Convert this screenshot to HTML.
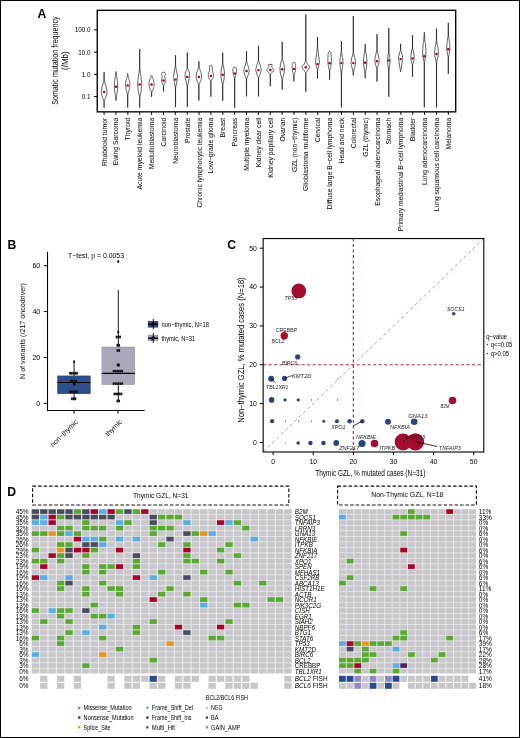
<!DOCTYPE html>
<html><head><meta charset="utf-8"><style>
html,body{margin:0;padding:0;background:#fff;width:520px;height:738px;overflow:hidden}
svg{display:block;font-family:"Liberation Sans",sans-serif;will-change:transform;opacity:0.999}
</style></head><body>
<svg width="520" height="738" viewBox="0 0 520 738" font-family="Liberation Sans, sans-serif">
<rect width="520" height="738" fill="#fff"/>
<text x="37.60" y="17.50" font-size="12.2" font-weight="bold">A</text>
<text x="7.60" y="248.80" font-size="12.2" font-weight="bold">B</text>
<text x="227.30" y="249.00" font-size="12.2" font-weight="bold">C</text>
<text x="7.20" y="495.60" font-size="12.2" font-weight="bold">D</text>
<rect x="97.25" y="10.3" width="358.45" height="101.55" fill="none" stroke="#000" stroke-width="1.35"/>
<line x1="94.00" y1="29.80" x2="97.25" y2="29.80" stroke="#000" stroke-width="1.0"/>
<text x="90.50" y="32.10" font-size="6.5" text-anchor="end" textLength="15.78" lengthAdjust="spacingAndGlyphs">100.0</text>
<line x1="94.00" y1="52.20" x2="97.25" y2="52.20" stroke="#000" stroke-width="1.0"/>
<text x="90.50" y="54.50" font-size="6.5" text-anchor="end" textLength="12.27" lengthAdjust="spacingAndGlyphs">10.0</text>
<line x1="94.00" y1="74.40" x2="97.25" y2="74.40" stroke="#000" stroke-width="1.0"/>
<text x="90.50" y="76.70" font-size="6.5" text-anchor="end" textLength="8.76" lengthAdjust="spacingAndGlyphs">1.0</text>
<line x1="94.00" y1="96.60" x2="97.25" y2="96.60" stroke="#000" stroke-width="1.0"/>
<text x="90.50" y="98.90" font-size="6.5" text-anchor="end" textLength="8.76" lengthAdjust="spacingAndGlyphs">0.1</text>
<text x="57.90" y="60.60" font-size="8.3" text-anchor="middle" textLength="88.50" lengthAdjust="spacingAndGlyphs" transform="rotate(-90 57.90 60.60)">Somatic mutation frequency</text>
<text x="68.20" y="60.60" font-size="8.3" text-anchor="middle" textLength="18.60" lengthAdjust="spacingAndGlyphs" transform="rotate(-90 68.20 60.60)">(/Mb)</text>
<path d="M104.18,72.00 L104.18,80.00 L104.30,80.75 L104.57,81.50 L104.85,82.25 L104.97,83.00 L105.15,84.00 L105.57,85.00 L105.99,86.00 L106.17,87.00 L106.29,88.00 L106.57,89.00 L106.85,90.00 L106.97,91.00 L106.96,91.75 L106.92,92.50 L106.88,93.25 L106.87,94.00 L106.72,94.75 L106.37,95.50 L106.02,96.25 L105.87,97.00 L105.69,97.75 L105.27,98.50 L104.85,99.25 L104.67,100.00 L104.60,100.62 L104.42,101.25 L104.25,101.88 L104.18,102.50 L104.18,107.50 L104.02,107.50 L104.02,102.50 L103.95,101.88 L103.77,101.25 L103.60,100.62 L103.53,100.00 L103.35,99.25 L102.93,98.50 L102.51,97.75 L102.33,97.00 L102.18,96.25 L101.83,95.50 L101.48,94.75 L101.33,94.00 L101.32,93.25 L101.28,92.50 L101.24,91.75 L101.23,91.00 L101.35,90.00 L101.63,89.00 L101.91,88.00 L102.03,87.00 L102.21,86.00 L102.63,85.00 L103.05,84.00 L103.23,83.00 L103.35,82.25 L103.62,81.50 L103.90,80.75 L104.02,80.00 L104.02,72.00Z" fill="#fff" stroke="#000" stroke-width="0.62" stroke-linejoin="round"/>
<ellipse cx="104.10" cy="92.00" rx="1.3" ry="1.2" fill="#b4001f"/>
<line x1="104.10" y1="111.85" x2="104.10" y2="114.85" stroke="#000" stroke-width="1.0"/>
<text x="106.60" y="117.80" font-size="7.0" text-anchor="end" textLength="48.31" lengthAdjust="spacingAndGlyphs" transform="rotate(-90 106.60 117.80)">Rhabdoid tumor</text>
<path d="M116.08,71.50 L116.12,72.38 L116.22,73.25 L116.33,74.12 L116.37,75.00 L116.46,75.75 L116.67,76.50 L116.88,77.25 L116.97,78.00 L117.04,79.00 L117.22,80.00 L117.40,81.00 L117.47,82.00 L117.50,83.00 L117.57,84.00 L117.64,85.00 L117.67,86.00 L117.64,87.00 L117.57,88.00 L117.50,89.00 L117.47,90.00 L117.38,91.00 L117.17,92.00 L116.96,93.00 L116.87,94.00 L116.80,94.75 L116.62,95.50 L116.44,96.25 L116.37,97.00 L116.33,97.90 L116.22,98.80 L116.12,99.70 L116.08,100.60 L115.92,100.60 L115.88,99.70 L115.78,98.80 L115.67,97.90 L115.63,97.00 L115.56,96.25 L115.38,95.50 L115.20,94.75 L115.13,94.00 L115.04,93.00 L114.83,92.00 L114.62,91.00 L114.53,90.00 L114.50,89.00 L114.43,88.00 L114.36,87.00 L114.33,86.00 L114.36,85.00 L114.43,84.00 L114.50,83.00 L114.53,82.00 L114.60,81.00 L114.78,80.00 L114.96,79.00 L115.03,78.00 L115.12,77.25 L115.33,76.50 L115.54,75.75 L115.63,75.00 L115.67,74.12 L115.78,73.25 L115.88,72.38 L115.92,71.50Z" fill="#fff" stroke="#000" stroke-width="0.62" stroke-linejoin="round"/>
<ellipse cx="116.00" cy="86.80" rx="1.3" ry="1.2" fill="#b4001f"/>
<line x1="115.97" y1="111.85" x2="115.97" y2="114.85" stroke="#000" stroke-width="1.0"/>
<text x="118.47" y="117.80" font-size="7.0" text-anchor="end" textLength="47.55" lengthAdjust="spacingAndGlyphs" transform="rotate(-90 118.47 117.80)">Ewing Sarcoma</text>
<path d="M127.78,73.40 L127.82,74.05 L127.92,74.70 L128.03,75.35 L128.07,76.00 L128.14,76.50 L128.32,77.00 L128.50,77.50 L128.57,78.00 L128.72,78.75 L129.07,79.50 L129.42,80.25 L129.57,81.00 L129.61,81.75 L129.72,82.50 L129.83,83.25 L129.87,84.00 L129.84,84.75 L129.77,85.50 L129.70,86.25 L129.67,87.00 L129.60,87.75 L129.42,88.50 L129.24,89.25 L129.17,90.00 L129.04,90.75 L128.72,91.50 L128.40,92.25 L128.27,93.00 L128.20,93.50 L128.03,94.00 L127.85,94.50 L127.78,95.00 L127.78,107.50 L127.62,107.50 L127.62,95.00 L127.55,94.50 L127.38,94.00 L127.20,93.50 L127.13,93.00 L127.00,92.25 L126.68,91.50 L126.36,90.75 L126.23,90.00 L126.16,89.25 L125.98,88.50 L125.80,87.75 L125.73,87.00 L125.70,86.25 L125.63,85.50 L125.56,84.75 L125.53,84.00 L125.57,83.25 L125.68,82.50 L125.79,81.75 L125.83,81.00 L125.98,80.25 L126.33,79.50 L126.68,78.75 L126.83,78.00 L126.90,77.50 L127.08,77.00 L127.26,76.50 L127.33,76.00 L127.37,75.35 L127.48,74.70 L127.58,74.05 L127.62,73.40Z" fill="#fff" stroke="#000" stroke-width="0.62" stroke-linejoin="round"/>
<ellipse cx="127.70" cy="85.40" rx="1.3" ry="1.2" fill="#b4001f"/>
<line x1="127.84" y1="111.85" x2="127.84" y2="114.85" stroke="#000" stroke-width="1.0"/>
<text x="130.34" y="117.80" font-size="7.0" text-anchor="end" textLength="22.64" lengthAdjust="spacingAndGlyphs" transform="rotate(-90 130.34 117.80)">Thyroid</text>
<path d="M139.78,49.00 L139.78,68.00 L139.85,69.00 L140.02,70.00 L140.20,71.00 L140.27,72.00 L140.40,73.50 L140.72,75.00 L141.04,76.50 L141.17,78.00 L141.26,79.50 L141.47,81.00 L141.68,82.50 L141.77,84.00 L141.70,85.50 L141.52,87.00 L141.34,88.50 L141.27,90.00 L141.14,91.25 L140.82,92.50 L140.50,93.75 L140.37,95.00 L140.28,95.75 L140.07,96.50 L139.87,97.25 L139.78,98.00 L139.78,107.50 L139.62,107.50 L139.62,98.00 L139.53,97.25 L139.32,96.50 L139.12,95.75 L139.03,95.00 L138.90,93.75 L138.58,92.50 L138.26,91.25 L138.13,90.00 L138.06,88.50 L137.88,87.00 L137.70,85.50 L137.63,84.00 L137.72,82.50 L137.93,81.00 L138.14,79.50 L138.23,78.00 L138.36,76.50 L138.68,75.00 L139.00,73.50 L139.13,72.00 L139.20,71.00 L139.38,70.00 L139.55,69.00 L139.62,68.00 L139.62,49.00Z" fill="#fff" stroke="#000" stroke-width="0.62" stroke-linejoin="round"/>
<ellipse cx="139.70" cy="84.40" rx="1.3" ry="1.2" fill="#b4001f"/>
<line x1="139.71" y1="111.85" x2="139.71" y2="114.85" stroke="#000" stroke-width="1.0"/>
<text x="142.21" y="117.80" font-size="7.0" text-anchor="end" textLength="71.70" lengthAdjust="spacingAndGlyphs" transform="rotate(-90 142.21 117.80)">Acute myeloid leukemia</text>
<path d="M151.68,75.50 L151.77,75.88 L151.97,76.25 L152.18,76.62 L152.27,77.00 L152.45,77.75 L152.87,78.50 L153.29,79.25 L153.47,80.00 L153.57,80.88 L153.82,81.75 L154.07,82.62 L154.17,83.50 L154.16,84.12 L154.12,84.75 L154.08,85.38 L154.07,86.00 L153.95,86.75 L153.67,87.50 L153.39,88.25 L153.27,89.00 L153.09,89.62 L152.67,90.25 L152.25,90.88 L152.07,91.50 L152.01,91.88 L151.88,92.25 L151.74,92.62 L151.68,93.00 L151.68,96.70 L151.52,96.70 L151.52,93.00 L151.46,92.62 L151.32,92.25 L151.19,91.88 L151.13,91.50 L150.95,90.88 L150.53,90.25 L150.11,89.62 L149.93,89.00 L149.81,88.25 L149.53,87.50 L149.25,86.75 L149.13,86.00 L149.12,85.38 L149.08,84.75 L149.04,84.12 L149.03,83.50 L149.13,82.62 L149.38,81.75 L149.63,80.88 L149.73,80.00 L149.91,79.25 L150.33,78.50 L150.75,77.75 L150.93,77.00 L151.02,76.62 L151.22,76.25 L151.43,75.88 L151.52,75.50Z" fill="#fff" stroke="#000" stroke-width="0.62" stroke-linejoin="round"/>
<ellipse cx="151.60" cy="84.50" rx="1.3" ry="1.2" fill="#b4001f"/>
<line x1="151.58" y1="111.85" x2="151.58" y2="114.85" stroke="#000" stroke-width="1.0"/>
<text x="154.08" y="117.80" font-size="7.0" text-anchor="end" textLength="51.33" lengthAdjust="spacingAndGlyphs" transform="rotate(-90 154.08 117.80)">Medulloblastoma</text>
<path d="M164.17,72.20 L164.32,72.35 L164.67,72.50 L165.02,72.65 L165.17,72.80 L165.21,73.10 L165.32,73.40 L165.43,73.70 L165.47,74.00 L165.37,74.50 L165.12,75.00 L164.87,75.50 L164.77,76.00 L164.80,76.50 L164.87,77.00 L164.94,77.50 L164.97,78.00 L165.07,78.50 L165.32,79.00 L165.57,79.50 L165.67,80.00 L165.63,80.50 L165.52,81.00 L165.41,81.50 L165.37,82.00 L165.22,82.50 L164.87,83.00 L164.52,83.50 L164.37,84.00 L164.25,84.38 L163.97,84.75 L163.70,85.12 L163.58,85.50 L163.58,91.60 L163.42,91.60 L163.42,85.50 L163.30,85.12 L163.03,84.75 L162.75,84.38 L162.63,84.00 L162.48,83.50 L162.13,83.00 L161.78,82.50 L161.63,82.00 L161.59,81.50 L161.48,81.00 L161.37,80.50 L161.33,80.00 L161.43,79.50 L161.68,79.00 L161.93,78.50 L162.03,78.00 L162.06,77.50 L162.13,77.00 L162.20,76.50 L162.23,76.00 L162.13,75.50 L161.88,75.00 L161.63,74.50 L161.53,74.00 L161.57,73.70 L161.68,73.40 L161.79,73.10 L161.83,72.80 L161.98,72.65 L162.33,72.50 L162.68,72.35 L162.83,72.20Z" fill="#fff" stroke="#000" stroke-width="0.62" stroke-linejoin="round"/>
<ellipse cx="163.50" cy="80.50" rx="1.3" ry="1.2" fill="#b4001f"/>
<line x1="163.45" y1="111.85" x2="163.45" y2="114.85" stroke="#000" stroke-width="1.0"/>
<text x="165.95" y="117.80" font-size="7.0" text-anchor="end" textLength="28.68" lengthAdjust="spacingAndGlyphs" transform="rotate(-90 165.95 117.80)">Carcinoid</text>
<path d="M175.58,55.20 L175.58,65.00 L175.64,65.75 L175.78,66.50 L175.91,67.25 L175.97,68.00 L176.09,69.00 L176.37,70.00 L176.65,71.00 L176.77,72.00 L176.87,73.00 L177.12,74.00 L177.37,75.00 L177.47,76.00 L177.43,76.75 L177.32,77.50 L177.21,78.25 L177.17,79.00 L177.05,80.25 L176.77,81.50 L176.49,82.75 L176.37,84.00 L176.25,85.00 L175.97,86.00 L175.70,87.00 L175.58,88.00 L175.58,90.00 L175.58,107.00 L175.42,107.00 L175.42,90.00 L175.42,88.00 L175.30,87.00 L175.03,86.00 L174.75,85.00 L174.63,84.00 L174.51,82.75 L174.23,81.50 L173.95,80.25 L173.83,79.00 L173.79,78.25 L173.68,77.50 L173.57,76.75 L173.53,76.00 L173.63,75.00 L173.88,74.00 L174.13,73.00 L174.23,72.00 L174.35,71.00 L174.63,70.00 L174.91,69.00 L175.03,68.00 L175.09,67.25 L175.22,66.50 L175.36,65.75 L175.42,65.00 L175.42,55.20Z" fill="#fff" stroke="#000" stroke-width="0.62" stroke-linejoin="round"/>
<ellipse cx="175.50" cy="79.60" rx="1.3" ry="1.2" fill="#b4001f"/>
<line x1="175.32" y1="111.85" x2="175.32" y2="114.85" stroke="#000" stroke-width="1.0"/>
<text x="177.82" y="117.80" font-size="7.0" text-anchor="end" textLength="46.04" lengthAdjust="spacingAndGlyphs" transform="rotate(-90 177.82 117.80)">Neuroblastoma</text>
<path d="M187.38,52.40 L187.38,67.00 L187.51,67.75 L187.83,68.50 L188.14,69.25 L188.27,70.00 L188.43,70.75 L188.82,71.50 L189.21,72.25 L189.37,73.00 L189.40,73.62 L189.47,74.25 L189.54,74.88 L189.57,75.50 L189.53,76.12 L189.42,76.75 L189.31,77.38 L189.27,78.00 L189.15,79.00 L188.87,80.00 L188.59,81.00 L188.47,82.00 L188.31,83.00 L187.93,84.00 L187.54,85.00 L187.38,86.00 L187.38,88.00 L187.38,107.00 L187.22,107.00 L187.22,88.00 L187.22,86.00 L187.06,85.00 L186.68,84.00 L186.29,83.00 L186.13,82.00 L186.01,81.00 L185.73,80.00 L185.45,79.00 L185.33,78.00 L185.29,77.38 L185.18,76.75 L185.07,76.12 L185.03,75.50 L185.06,74.88 L185.13,74.25 L185.20,73.62 L185.23,73.00 L185.39,72.25 L185.78,71.50 L186.17,70.75 L186.33,70.00 L186.46,69.25 L186.78,68.50 L187.09,67.75 L187.22,67.00 L187.22,52.40Z" fill="#fff" stroke="#000" stroke-width="0.62" stroke-linejoin="round"/>
<ellipse cx="187.30" cy="76.90" rx="1.3" ry="1.2" fill="#b4001f"/>
<line x1="187.19" y1="111.85" x2="187.19" y2="114.85" stroke="#000" stroke-width="1.0"/>
<text x="189.69" y="117.80" font-size="7.0" text-anchor="end" textLength="25.29" lengthAdjust="spacingAndGlyphs" transform="rotate(-90 189.69 117.80)">Prostate</text>
<path d="M198.98,61.20 L198.98,67.00 L199.14,67.75 L199.53,68.50 L199.91,69.25 L200.07,70.00 L200.23,70.75 L200.62,71.50 L201.01,72.25 L201.17,73.00 L201.23,74.00 L201.37,75.00 L201.51,76.00 L201.57,77.00 L201.50,77.75 L201.32,78.50 L201.14,79.25 L201.07,80.00 L200.88,80.75 L200.42,81.50 L199.96,82.25 L199.77,83.00 L199.65,83.50 L199.38,84.00 L199.10,84.50 L198.98,85.00 L198.98,100.40 L198.82,100.40 L198.82,85.00 L198.70,84.50 L198.43,84.00 L198.15,83.50 L198.03,83.00 L197.84,82.25 L197.38,81.50 L196.92,80.75 L196.73,80.00 L196.66,79.25 L196.48,78.50 L196.30,77.75 L196.23,77.00 L196.29,76.00 L196.43,75.00 L196.57,74.00 L196.63,73.00 L196.79,72.25 L197.18,71.50 L197.57,70.75 L197.73,70.00 L197.89,69.25 L198.28,68.50 L198.66,67.75 L198.82,67.00 L198.82,61.20Z" fill="#fff" stroke="#000" stroke-width="0.62" stroke-linejoin="round"/>
<ellipse cx="198.90" cy="76.90" rx="1.3" ry="1.2" fill="#b4001f"/>
<line x1="199.06" y1="111.85" x2="199.06" y2="114.85" stroke="#000" stroke-width="1.0"/>
<text x="201.56" y="117.80" font-size="7.0" text-anchor="end" textLength="89.81" lengthAdjust="spacingAndGlyphs" transform="rotate(-90 201.56 117.80)">Chronic lymphocytic leukemia</text>
<path d="M211.57,65.30 L211.66,65.47 L211.87,65.65 L212.08,65.83 L212.17,66.00 L212.20,66.75 L212.27,67.50 L212.34,68.25 L212.37,69.00 L212.37,69.50 L212.37,70.00 L212.37,70.50 L212.37,71.00 L212.47,71.50 L212.72,72.00 L212.97,72.50 L213.07,73.00 L213.14,73.62 L213.32,74.25 L213.50,74.88 L213.57,75.50 L213.48,76.12 L213.27,76.75 L213.06,77.38 L212.97,78.00 L212.79,78.50 L212.37,79.00 L211.95,79.50 L211.77,80.00 L211.65,80.50 L211.38,81.00 L211.10,81.50 L210.98,82.00 L210.98,96.70 L210.82,96.70 L210.82,82.00 L210.70,81.50 L210.43,81.00 L210.15,80.50 L210.03,80.00 L209.85,79.50 L209.43,79.00 L209.01,78.50 L208.83,78.00 L208.74,77.38 L208.53,76.75 L208.32,76.12 L208.23,75.50 L208.30,74.88 L208.48,74.25 L208.66,73.62 L208.73,73.00 L208.83,72.50 L209.08,72.00 L209.33,71.50 L209.43,71.00 L209.43,70.50 L209.43,70.00 L209.43,69.50 L209.43,69.00 L209.46,68.25 L209.53,67.50 L209.60,66.75 L209.63,66.00 L209.72,65.83 L209.93,65.65 L210.14,65.47 L210.23,65.30Z" fill="#fff" stroke="#000" stroke-width="0.62" stroke-linejoin="round"/>
<ellipse cx="210.90" cy="75.90" rx="1.3" ry="1.2" fill="#b4001f"/>
<line x1="210.93" y1="111.85" x2="210.93" y2="114.85" stroke="#000" stroke-width="1.0"/>
<text x="213.43" y="117.80" font-size="7.0" text-anchor="end" textLength="55.67" lengthAdjust="spacingAndGlyphs" transform="rotate(-90 213.43 117.80)">Low−grade glioma</text>
<path d="M222.78,52.80 L222.78,63.00 L222.87,63.75 L223.07,64.50 L223.28,65.25 L223.37,66.00 L223.49,67.00 L223.77,68.00 L224.05,69.00 L224.17,70.00 L224.21,71.00 L224.32,72.00 L224.43,73.00 L224.47,74.00 L224.43,75.00 L224.32,76.00 L224.21,77.00 L224.17,78.00 L224.08,79.00 L223.87,80.00 L223.66,81.00 L223.57,82.00 L223.45,82.75 L223.17,83.50 L222.90,84.25 L222.78,85.00 L222.78,88.00 L222.78,100.90 L222.62,100.90 L222.62,88.00 L222.62,85.00 L222.50,84.25 L222.22,83.50 L221.95,82.75 L221.83,82.00 L221.74,81.00 L221.53,80.00 L221.32,79.00 L221.23,78.00 L221.19,77.00 L221.08,76.00 L220.97,75.00 L220.93,74.00 L220.97,73.00 L221.08,72.00 L221.19,71.00 L221.23,70.00 L221.35,69.00 L221.63,68.00 L221.91,67.00 L222.03,66.00 L222.12,65.25 L222.32,64.50 L222.53,63.75 L222.62,63.00 L222.62,52.80Z" fill="#fff" stroke="#000" stroke-width="0.62" stroke-linejoin="round"/>
<ellipse cx="222.70" cy="74.80" rx="1.3" ry="1.2" fill="#b4001f"/>
<line x1="222.80" y1="111.85" x2="222.80" y2="114.85" stroke="#000" stroke-width="1.0"/>
<text x="225.30" y="117.80" font-size="7.0" text-anchor="end" textLength="19.62" lengthAdjust="spacingAndGlyphs" transform="rotate(-90 225.30 117.80)">Breast</text>
<path d="M235.37,67.20 L235.50,67.35 L235.82,67.50 L236.14,67.65 L236.27,67.80 L236.33,68.35 L236.47,68.90 L236.61,69.45 L236.67,70.00 L236.63,70.75 L236.52,71.50 L236.41,72.25 L236.37,73.00 L236.25,73.75 L235.97,74.50 L235.69,75.25 L235.57,76.00 L235.45,76.62 L235.17,77.25 L234.90,77.88 L234.78,78.50 L234.78,80.00 L234.78,107.80 L234.62,107.80 L234.62,80.00 L234.62,78.50 L234.50,77.88 L234.22,77.25 L233.95,76.62 L233.83,76.00 L233.71,75.25 L233.43,74.50 L233.15,73.75 L233.03,73.00 L232.99,72.25 L232.88,71.50 L232.77,70.75 L232.73,70.00 L232.79,69.45 L232.93,68.90 L233.07,68.35 L233.13,67.80 L233.26,67.65 L233.58,67.50 L233.90,67.35 L234.03,67.20Z" fill="#fff" stroke="#000" stroke-width="0.62" stroke-linejoin="round"/>
<ellipse cx="234.70" cy="73.40" rx="1.3" ry="1.2" fill="#b4001f"/>
<line x1="234.67" y1="111.85" x2="234.67" y2="114.85" stroke="#000" stroke-width="1.0"/>
<text x="237.17" y="117.80" font-size="7.0" text-anchor="end" textLength="28.68" lengthAdjust="spacingAndGlyphs" transform="rotate(-90 237.17 117.80)">Pancreas</text>
<path d="M246.58,51.20 L246.58,61.00 L246.70,61.75 L246.97,62.50 L247.25,63.25 L247.37,64.00 L247.56,64.88 L248.02,65.75 L248.48,66.62 L248.67,67.50 L248.74,68.38 L248.92,69.25 L249.10,70.12 L249.17,71.00 L249.08,71.75 L248.87,72.50 L248.66,73.25 L248.57,74.00 L248.39,74.75 L247.97,75.50 L247.55,76.25 L247.37,77.00 L247.25,77.50 L246.97,78.00 L246.70,78.50 L246.58,79.00 L246.58,96.40 L246.42,96.40 L246.42,79.00 L246.30,78.50 L246.03,78.00 L245.75,77.50 L245.63,77.00 L245.45,76.25 L245.03,75.50 L244.61,74.75 L244.43,74.00 L244.34,73.25 L244.13,72.50 L243.92,71.75 L243.83,71.00 L243.90,70.12 L244.08,69.25 L244.26,68.38 L244.33,67.50 L244.52,66.62 L244.98,65.75 L245.44,64.88 L245.63,64.00 L245.75,63.25 L246.03,62.50 L246.30,61.75 L246.42,61.00 L246.42,51.20Z" fill="#fff" stroke="#000" stroke-width="0.62" stroke-linejoin="round"/>
<ellipse cx="246.50" cy="71.00" rx="1.3" ry="1.2" fill="#b4001f"/>
<line x1="246.54" y1="111.85" x2="246.54" y2="114.85" stroke="#000" stroke-width="1.0"/>
<text x="249.04" y="117.80" font-size="7.0" text-anchor="end" textLength="52.83" lengthAdjust="spacingAndGlyphs" transform="rotate(-90 249.04 117.80)">Multiple myeloma</text>
<path d="M258.58,45.90 L258.58,60.00 L258.71,60.75 L259.02,61.50 L259.34,62.25 L259.47,63.00 L259.63,63.88 L260.02,64.75 L260.41,65.62 L260.57,66.50 L260.67,67.38 L260.92,68.25 L261.17,69.12 L261.27,70.00 L261.17,70.75 L260.92,71.50 L260.67,72.25 L260.57,73.00 L260.39,73.75 L259.97,74.50 L259.55,75.25 L259.37,76.00 L259.25,76.50 L258.98,77.00 L258.70,77.50 L258.58,78.00 L258.58,96.40 L258.42,96.40 L258.42,78.00 L258.30,77.50 L258.02,77.00 L257.75,76.50 L257.63,76.00 L257.45,75.25 L257.03,74.50 L256.61,73.75 L256.43,73.00 L256.33,72.25 L256.08,71.50 L255.83,70.75 L255.73,70.00 L255.83,69.12 L256.08,68.25 L256.33,67.38 L256.43,66.50 L256.59,65.62 L256.98,64.75 L257.37,63.88 L257.53,63.00 L257.66,62.25 L257.98,61.50 L258.29,60.75 L258.42,60.00 L258.42,45.90Z" fill="#fff" stroke="#000" stroke-width="0.62" stroke-linejoin="round"/>
<ellipse cx="258.50" cy="70.10" rx="1.3" ry="1.2" fill="#b4001f"/>
<line x1="258.41" y1="111.85" x2="258.41" y2="114.85" stroke="#000" stroke-width="1.0"/>
<text x="260.91" y="117.80" font-size="7.0" text-anchor="end" textLength="49.44" lengthAdjust="spacingAndGlyphs" transform="rotate(-90 260.91 117.80)">Kidney clear cell</text>
<path d="M271.97,64.40 L272.00,64.68 L272.07,64.95 L272.14,65.22 L272.17,65.50 L272.08,65.75 L271.87,66.00 L271.66,66.25 L271.57,66.50 L271.72,66.88 L272.07,67.25 L272.42,67.62 L272.57,68.00 L272.78,68.50 L273.27,69.00 L273.76,69.50 L273.97,70.00 L273.82,70.38 L273.47,70.75 L273.12,71.12 L272.97,71.50 L272.71,72.00 L272.07,72.50 L271.43,73.00 L271.17,73.50 L271.05,73.75 L270.78,74.00 L270.50,74.25 L270.38,74.50 L270.38,84.00 L270.45,84.45 L270.62,84.90 L270.80,85.35 L270.87,85.80 L269.73,85.80 L269.80,85.35 L269.98,84.90 L270.15,84.45 L270.22,84.00 L270.22,74.50 L270.10,74.25 L269.82,74.00 L269.55,73.75 L269.43,73.50 L269.17,73.00 L268.53,72.50 L267.89,72.00 L267.63,71.50 L267.48,71.12 L267.13,70.75 L266.78,70.38 L266.63,70.00 L266.84,69.50 L267.33,69.00 L267.82,68.50 L268.03,68.00 L268.18,67.62 L268.53,67.25 L268.88,66.88 L269.03,66.50 L268.94,66.25 L268.73,66.00 L268.52,65.75 L268.43,65.50 L268.46,65.22 L268.53,64.95 L268.60,64.68 L268.63,64.40Z" fill="#fff" stroke="#000" stroke-width="0.62" stroke-linejoin="round"/>
<ellipse cx="270.30" cy="69.90" rx="1.3" ry="1.2" fill="#b4001f"/>
<line x1="270.28" y1="111.85" x2="270.28" y2="114.85" stroke="#000" stroke-width="1.0"/>
<text x="272.78" y="117.80" font-size="7.0" text-anchor="end" textLength="60.01" lengthAdjust="spacingAndGlyphs" transform="rotate(-90 272.78 117.80)">Kidney papillary cell</text>
<path d="M282.28,41.90 L282.28,58.00 L282.40,58.75 L282.68,59.50 L282.95,60.25 L283.07,61.00 L283.22,62.00 L283.57,63.00 L283.92,64.00 L284.07,65.00 L284.13,66.00 L284.27,67.00 L284.41,68.00 L284.47,69.00 L284.41,70.00 L284.27,71.00 L284.13,72.00 L284.07,73.00 L283.92,74.00 L283.57,75.00 L283.22,76.00 L283.07,77.00 L282.95,77.75 L282.68,78.50 L282.40,79.25 L282.28,80.00 L282.28,89.50 L282.12,89.50 L282.12,80.00 L282.00,79.25 L281.72,78.50 L281.45,77.75 L281.33,77.00 L281.18,76.00 L280.83,75.00 L280.48,74.00 L280.33,73.00 L280.27,72.00 L280.13,71.00 L279.99,70.00 L279.93,69.00 L279.99,68.00 L280.13,67.00 L280.27,66.00 L280.33,65.00 L280.48,64.00 L280.83,63.00 L281.18,62.00 L281.33,61.00 L281.45,60.25 L281.72,59.50 L282.00,58.75 L282.12,58.00 L282.12,41.90Z" fill="#fff" stroke="#000" stroke-width="0.62" stroke-linejoin="round"/>
<ellipse cx="282.20" cy="69.30" rx="1.3" ry="1.2" fill="#b4001f"/>
<line x1="282.15" y1="111.85" x2="282.15" y2="114.85" stroke="#000" stroke-width="1.0"/>
<text x="284.65" y="117.80" font-size="7.0" text-anchor="end" textLength="23.77" lengthAdjust="spacingAndGlyphs" transform="rotate(-90 284.65 117.80)">Ovarian</text>
<path d="M294.57,62.40 L294.66,62.55 L294.87,62.70 L295.08,62.85 L295.17,63.00 L295.23,63.50 L295.37,64.00 L295.51,64.50 L295.57,65.00 L295.58,65.75 L295.62,66.50 L295.66,67.25 L295.67,68.00 L295.63,68.75 L295.52,69.50 L295.41,70.25 L295.37,71.00 L295.25,71.62 L294.97,72.25 L294.69,72.88 L294.57,73.50 L294.48,73.88 L294.27,74.25 L294.07,74.62 L293.98,75.00 L293.98,81.30 L293.82,81.30 L293.82,75.00 L293.73,74.62 L293.52,74.25 L293.32,73.88 L293.23,73.50 L293.11,72.88 L292.83,72.25 L292.55,71.62 L292.43,71.00 L292.39,70.25 L292.28,69.50 L292.17,68.75 L292.13,68.00 L292.14,67.25 L292.18,66.50 L292.22,65.75 L292.23,65.00 L292.29,64.50 L292.43,64.00 L292.57,63.50 L292.63,63.00 L292.72,62.85 L292.93,62.70 L293.14,62.55 L293.23,62.40Z" fill="#fff" stroke="#000" stroke-width="0.62" stroke-linejoin="round"/>
<ellipse cx="293.90" cy="68.90" rx="1.3" ry="1.2" fill="#b4001f"/>
<line x1="294.02" y1="111.85" x2="294.02" y2="114.85" stroke="#000" stroke-width="1.0"/>
<text x="296.52" y="117.80" font-size="7.0" text-anchor="end" textLength="54.27" lengthAdjust="spacingAndGlyphs" transform="rotate(-90 296.52 117.80)">GZL (non−thymic)</text>
<path d="M305.88,14.60 L305.88,61.00 L306.04,61.50 L306.43,62.00 L306.81,62.50 L306.97,63.00 L307.37,64.05 L308.32,65.10 L309.27,66.15 L309.67,67.20 L309.27,68.28 L308.32,69.35 L307.37,70.42 L306.97,71.50 L306.81,71.88 L306.43,72.25 L306.04,72.62 L305.88,73.00 L305.88,91.70 L305.72,91.70 L305.72,73.00 L305.56,72.62 L305.18,72.25 L304.79,71.88 L304.63,71.50 L304.23,70.42 L303.28,69.35 L302.33,68.28 L301.93,67.20 L302.33,66.15 L303.28,65.10 L304.23,64.05 L304.63,63.00 L304.79,62.50 L305.18,62.00 L305.56,61.50 L305.72,61.00 L305.72,14.60Z" fill="#fff" stroke="#000" stroke-width="0.62" stroke-linejoin="round"/>
<ellipse cx="305.80" cy="67.20" rx="1.3" ry="1.2" fill="#b4001f"/>
<line x1="305.89" y1="111.85" x2="305.89" y2="114.85" stroke="#000" stroke-width="1.0"/>
<text x="308.39" y="117.80" font-size="7.0" text-anchor="end" textLength="73.20" lengthAdjust="spacingAndGlyphs" transform="rotate(-90 308.39 117.80)">Glioblastoma multiforme</text>
<path d="M317.58,37.00 L317.58,45.00 L317.64,46.25 L317.77,47.50 L317.91,48.75 L317.97,50.00 L318.06,51.25 L318.27,52.50 L318.48,53.75 L318.57,55.00 L318.66,56.00 L318.87,57.00 L319.08,58.00 L319.17,59.00 L319.20,60.00 L319.27,61.00 L319.34,62.00 L319.37,63.00 L319.27,63.75 L319.02,64.50 L318.77,65.25 L318.67,66.00 L318.55,66.75 L318.27,67.50 L317.99,68.25 L317.87,69.00 L317.83,69.50 L317.73,70.00 L317.62,70.50 L317.58,71.00 L317.58,78.50 L317.42,78.50 L317.42,71.00 L317.38,70.50 L317.27,70.00 L317.17,69.50 L317.13,69.00 L317.01,68.25 L316.73,67.50 L316.45,66.75 L316.33,66.00 L316.23,65.25 L315.98,64.50 L315.73,63.75 L315.63,63.00 L315.66,62.00 L315.73,61.00 L315.80,60.00 L315.83,59.00 L315.92,58.00 L316.13,57.00 L316.34,56.00 L316.43,55.00 L316.52,53.75 L316.73,52.50 L316.94,51.25 L317.03,50.00 L317.09,48.75 L317.23,47.50 L317.36,46.25 L317.42,45.00 L317.42,37.00Z" fill="#fff" stroke="#000" stroke-width="0.62" stroke-linejoin="round"/>
<ellipse cx="317.50" cy="64.10" rx="1.3" ry="1.2" fill="#b4001f"/>
<line x1="317.76" y1="111.85" x2="317.76" y2="114.85" stroke="#000" stroke-width="1.0"/>
<text x="320.26" y="117.80" font-size="7.0" text-anchor="end" textLength="24.52" lengthAdjust="spacingAndGlyphs" transform="rotate(-90 320.26 117.80)">Cervical</text>
<path d="M330.07,51.40 L330.17,51.67 L330.42,51.95 L330.67,52.23 L330.77,52.50 L330.83,53.12 L330.97,53.75 L331.11,54.38 L331.17,55.00 L331.20,56.25 L331.27,57.50 L331.34,58.75 L331.37,60.00 L331.34,61.00 L331.27,62.00 L331.20,63.00 L331.17,64.00 L331.10,64.75 L330.92,65.50 L330.74,66.25 L330.67,67.00 L330.58,67.62 L330.37,68.25 L330.16,68.88 L330.07,69.50 L330.01,69.88 L329.88,70.25 L329.74,70.62 L329.68,71.00 L329.68,79.60 L329.52,79.60 L329.52,71.00 L329.46,70.62 L329.33,70.25 L329.19,69.88 L329.13,69.50 L329.04,68.88 L328.83,68.25 L328.62,67.62 L328.53,67.00 L328.46,66.25 L328.28,65.50 L328.10,64.75 L328.03,64.00 L328.00,63.00 L327.93,62.00 L327.86,61.00 L327.83,60.00 L327.86,58.75 L327.93,57.50 L328.00,56.25 L328.03,55.00 L328.09,54.38 L328.23,53.75 L328.37,53.12 L328.43,52.50 L328.53,52.23 L328.78,51.95 L329.03,51.67 L329.13,51.40Z" fill="#fff" stroke="#000" stroke-width="0.62" stroke-linejoin="round"/>
<ellipse cx="329.60" cy="63.20" rx="1.3" ry="1.2" fill="#b4001f"/>
<line x1="329.63" y1="111.85" x2="329.63" y2="114.85" stroke="#000" stroke-width="1.0"/>
<text x="332.13" y="117.80" font-size="7.0" text-anchor="end" textLength="91.77" lengthAdjust="spacingAndGlyphs" transform="rotate(-90 332.13 117.80)">Diffuse large B−cell lymphoma</text>
<path d="M341.48,41.20 L341.48,50.00 L341.57,51.25 L341.77,52.50 L341.98,53.75 L342.07,55.00 L342.19,56.25 L342.47,57.50 L342.75,58.75 L342.87,60.00 L342.90,60.75 L342.97,61.50 L343.04,62.25 L343.07,63.00 L343.01,63.75 L342.87,64.50 L342.73,65.25 L342.67,66.00 L342.55,67.25 L342.27,68.50 L341.99,69.75 L341.87,71.00 L341.81,72.00 L341.67,73.00 L341.54,74.00 L341.48,75.00 L341.48,107.30 L341.32,107.30 L341.32,75.00 L341.26,74.00 L341.12,73.00 L340.99,72.00 L340.93,71.00 L340.81,69.75 L340.53,68.50 L340.25,67.25 L340.13,66.00 L340.07,65.25 L339.93,64.50 L339.79,63.75 L339.73,63.00 L339.76,62.25 L339.83,61.50 L339.90,60.75 L339.93,60.00 L340.05,58.75 L340.33,57.50 L340.61,56.25 L340.73,55.00 L340.82,53.75 L341.02,52.50 L341.23,51.25 L341.32,50.00 L341.32,41.20Z" fill="#fff" stroke="#000" stroke-width="0.62" stroke-linejoin="round"/>
<ellipse cx="341.40" cy="63.10" rx="1.3" ry="1.2" fill="#b4001f"/>
<line x1="341.50" y1="111.85" x2="341.50" y2="114.85" stroke="#000" stroke-width="1.0"/>
<text x="344.00" y="117.80" font-size="7.0" text-anchor="end" textLength="45.67" lengthAdjust="spacingAndGlyphs" transform="rotate(-90 344.00 117.80)">Head and neck</text>
<path d="M353.38,16.10 L353.38,52.00 L353.47,52.75 L353.68,53.50 L353.88,54.25 L353.97,55.00 L354.15,56.00 L354.57,57.00 L354.99,58.00 L355.17,59.00 L355.23,60.00 L355.37,61.00 L355.51,62.00 L355.57,63.00 L355.48,63.75 L355.27,64.50 L355.06,65.25 L354.97,66.00 L354.82,67.00 L354.47,68.00 L354.12,69.00 L353.97,70.00 L353.88,71.33 L353.68,72.65 L353.47,73.97 L353.38,75.30 L353.22,75.30 L353.13,73.97 L352.93,72.65 L352.72,71.33 L352.63,70.00 L352.48,69.00 L352.13,68.00 L351.78,67.00 L351.63,66.00 L351.54,65.25 L351.33,64.50 L351.12,63.75 L351.03,63.00 L351.09,62.00 L351.23,61.00 L351.37,60.00 L351.43,59.00 L351.61,58.00 L352.03,57.00 L352.45,56.00 L352.63,55.00 L352.72,54.25 L352.93,53.50 L353.13,52.75 L353.22,52.00 L353.22,16.10Z" fill="#fff" stroke="#000" stroke-width="0.62" stroke-linejoin="round"/>
<ellipse cx="353.30" cy="63.10" rx="1.3" ry="1.2" fill="#b4001f"/>
<line x1="353.37" y1="111.85" x2="353.37" y2="114.85" stroke="#000" stroke-width="1.0"/>
<text x="355.87" y="117.80" font-size="7.0" text-anchor="end" textLength="30.57" lengthAdjust="spacingAndGlyphs" transform="rotate(-90 355.87 117.80)">Colorectal</text>
<path d="M365.28,44.10 L365.32,45.83 L365.43,47.55 L365.53,49.27 L365.57,51.00 L365.69,52.00 L365.97,53.00 L366.25,54.00 L366.37,55.00 L366.44,56.25 L366.62,57.50 L366.80,58.75 L366.87,60.00 L366.86,61.00 L366.82,62.00 L366.78,63.00 L366.77,64.00 L366.70,65.00 L366.52,66.00 L366.34,67.00 L366.27,68.00 L366.18,69.00 L365.97,70.00 L365.76,71.00 L365.67,72.00 L365.66,73.45 L365.62,74.90 L365.58,76.35 L365.57,77.80 L364.83,77.80 L364.82,76.35 L364.78,74.90 L364.74,73.45 L364.73,72.00 L364.64,71.00 L364.43,70.00 L364.22,69.00 L364.13,68.00 L364.06,67.00 L363.88,66.00 L363.70,65.00 L363.63,64.00 L363.62,63.00 L363.58,62.00 L363.54,61.00 L363.53,60.00 L363.60,58.75 L363.78,57.50 L363.96,56.25 L364.03,55.00 L364.15,54.00 L364.43,53.00 L364.71,52.00 L364.83,51.00 L364.87,49.27 L364.97,47.55 L365.08,45.83 L365.12,44.10Z" fill="#fff" stroke="#000" stroke-width="0.62" stroke-linejoin="round"/>
<ellipse cx="365.20" cy="62.80" rx="1.3" ry="1.2" fill="#b4001f"/>
<line x1="365.24" y1="111.85" x2="365.24" y2="114.85" stroke="#000" stroke-width="1.0"/>
<text x="367.74" y="117.80" font-size="7.0" text-anchor="end" textLength="38.98" lengthAdjust="spacingAndGlyphs" transform="rotate(-90 367.74 117.80)">GZL (thymic)</text>
<path d="M377.08,34.10 L377.08,50.00 L377.22,51.00 L377.57,52.00 L377.93,53.00 L378.07,54.00 L378.20,55.00 L378.52,56.00 L378.84,57.00 L378.97,58.00 L379.00,58.75 L379.07,59.50 L379.14,60.25 L379.17,61.00 L379.10,61.75 L378.92,62.50 L378.74,63.25 L378.67,64.00 L378.52,64.75 L378.17,65.50 L377.82,66.25 L377.67,67.00 L377.58,67.75 L377.38,68.50 L377.17,69.25 L377.08,70.00 L377.08,81.50 L376.92,81.50 L376.92,70.00 L376.83,69.25 L376.62,68.50 L376.42,67.75 L376.33,67.00 L376.18,66.25 L375.83,65.50 L375.48,64.75 L375.33,64.00 L375.26,63.25 L375.08,62.50 L374.90,61.75 L374.83,61.00 L374.86,60.25 L374.93,59.50 L375.00,58.75 L375.03,58.00 L375.16,57.00 L375.48,56.00 L375.80,55.00 L375.93,54.00 L376.07,53.00 L376.43,52.00 L376.78,51.00 L376.92,50.00 L376.92,34.10Z" fill="#fff" stroke="#000" stroke-width="0.62" stroke-linejoin="round"/>
<ellipse cx="377.00" cy="61.20" rx="1.3" ry="1.2" fill="#b4001f"/>
<line x1="377.11" y1="111.85" x2="377.11" y2="114.85" stroke="#000" stroke-width="1.0"/>
<text x="379.61" y="117.80" font-size="7.0" text-anchor="end" textLength="87.95" lengthAdjust="spacingAndGlyphs" transform="rotate(-90 379.61 117.80)">Esophageal adenocarcinoma</text>
<path d="M388.88,28.00 L388.88,52.00 L389.00,53.00 L389.28,54.00 L389.55,55.00 L389.67,56.00 L389.73,57.00 L389.87,58.00 L390.01,59.00 L390.07,60.00 L390.04,61.00 L389.97,62.00 L389.90,63.00 L389.87,64.00 L389.78,65.00 L389.57,66.00 L389.36,67.00 L389.27,68.00 L389.21,69.00 L389.07,70.00 L388.94,71.00 L388.88,72.00 L388.88,96.70 L388.72,96.70 L388.72,72.00 L388.66,71.00 L388.53,70.00 L388.39,69.00 L388.33,68.00 L388.24,67.00 L388.03,66.00 L387.82,65.00 L387.73,64.00 L387.70,63.00 L387.63,62.00 L387.56,61.00 L387.53,60.00 L387.59,59.00 L387.73,58.00 L387.87,57.00 L387.93,56.00 L388.05,55.00 L388.32,54.00 L388.60,53.00 L388.72,52.00 L388.72,28.00Z" fill="#fff" stroke="#000" stroke-width="0.62" stroke-linejoin="round"/>
<ellipse cx="388.80" cy="60.40" rx="1.3" ry="1.2" fill="#b4001f"/>
<line x1="388.98" y1="111.85" x2="388.98" y2="114.85" stroke="#000" stroke-width="1.0"/>
<text x="391.48" y="117.80" font-size="7.0" text-anchor="end" textLength="26.79" lengthAdjust="spacingAndGlyphs" transform="rotate(-90 391.48 117.80)">Stomach</text>
<path d="M400.68,43.90 L400.68,50.00 L400.82,50.75 L401.18,51.50 L401.53,52.25 L401.67,53.00 L401.80,54.00 L402.12,55.00 L402.44,56.00 L402.57,57.00 L402.56,57.75 L402.52,58.50 L402.48,59.25 L402.47,60.00 L402.38,61.00 L402.17,62.00 L401.96,63.00 L401.87,64.00 L401.78,65.00 L401.57,66.00 L401.36,67.00 L401.27,68.00 L401.18,68.92 L400.98,69.85 L400.77,70.78 L400.68,71.70 L400.52,71.70 L400.43,70.78 L400.23,69.85 L400.02,68.92 L399.93,68.00 L399.84,67.00 L399.63,66.00 L399.42,65.00 L399.33,64.00 L399.24,63.00 L399.03,62.00 L398.82,61.00 L398.73,60.00 L398.72,59.25 L398.68,58.50 L398.64,57.75 L398.63,57.00 L398.76,56.00 L399.08,55.00 L399.40,54.00 L399.53,53.00 L399.67,52.25 L400.03,51.50 L400.38,50.75 L400.52,50.00 L400.52,43.90Z" fill="#fff" stroke="#000" stroke-width="0.62" stroke-linejoin="round"/>
<ellipse cx="400.60" cy="59.10" rx="1.3" ry="1.2" fill="#b4001f"/>
<line x1="400.85" y1="111.85" x2="400.85" y2="114.85" stroke="#000" stroke-width="1.0"/>
<text x="403.35" y="117.80" font-size="7.0" text-anchor="end" textLength="113.39" lengthAdjust="spacingAndGlyphs" transform="rotate(-90 403.35 117.80)">Primary mediastinal B−cell lymphoma</text>
<path d="M412.58,35.10 L412.58,48.00 L412.72,49.00 L413.07,50.00 L413.43,51.00 L413.57,52.00 L413.66,53.00 L413.87,54.00 L414.08,55.00 L414.17,56.00 L414.17,56.75 L414.17,57.50 L414.17,58.25 L414.17,59.00 L414.08,59.75 L413.87,60.50 L413.66,61.25 L413.57,62.00 L413.43,62.75 L413.07,63.50 L412.72,64.25 L412.58,65.00 L412.58,76.70 L412.42,76.70 L412.42,65.00 L412.28,64.25 L411.93,63.50 L411.57,62.75 L411.43,62.00 L411.34,61.25 L411.13,60.50 L410.92,59.75 L410.83,59.00 L410.83,58.25 L410.83,57.50 L410.83,56.75 L410.83,56.00 L410.92,55.00 L411.13,54.00 L411.34,53.00 L411.43,52.00 L411.57,51.00 L411.93,50.00 L412.28,49.00 L412.42,48.00 L412.42,35.10Z" fill="#fff" stroke="#000" stroke-width="0.62" stroke-linejoin="round"/>
<ellipse cx="412.50" cy="58.40" rx="1.3" ry="1.2" fill="#b4001f"/>
<line x1="412.72" y1="111.85" x2="412.72" y2="114.85" stroke="#000" stroke-width="1.0"/>
<text x="415.22" y="117.80" font-size="7.0" text-anchor="end" textLength="23.40" lengthAdjust="spacingAndGlyphs" transform="rotate(-90 415.22 117.80)">Bladder</text>
<path d="M424.38,32.40 L424.44,34.30 L424.57,36.20 L424.71,38.10 L424.77,40.00 L424.89,41.25 L425.17,42.50 L425.45,43.75 L425.57,45.00 L425.63,46.75 L425.77,48.50 L425.91,50.25 L425.97,52.00 L425.94,53.00 L425.87,54.00 L425.80,55.00 L425.77,56.00 L425.65,57.00 L425.37,58.00 L425.09,59.00 L424.97,60.00 L424.88,60.75 L424.68,61.50 L424.47,62.25 L424.38,63.00 L424.38,107.30 L424.22,107.30 L424.22,63.00 L424.13,62.25 L423.93,61.50 L423.72,60.75 L423.63,60.00 L423.51,59.00 L423.23,58.00 L422.95,57.00 L422.83,56.00 L422.80,55.00 L422.73,54.00 L422.66,53.00 L422.63,52.00 L422.69,50.25 L422.83,48.50 L422.97,46.75 L423.03,45.00 L423.15,43.75 L423.43,42.50 L423.71,41.25 L423.83,40.00 L423.89,38.10 L424.03,36.20 L424.16,34.30 L424.22,32.40Z" fill="#fff" stroke="#000" stroke-width="0.62" stroke-linejoin="round"/>
<ellipse cx="424.30" cy="56.30" rx="1.3" ry="1.2" fill="#b4001f"/>
<line x1="424.59" y1="111.85" x2="424.59" y2="114.85" stroke="#000" stroke-width="1.0"/>
<text x="427.09" y="117.80" font-size="7.0" text-anchor="end" textLength="67.19" lengthAdjust="spacingAndGlyphs" transform="rotate(-90 427.09 117.80)">Lung adenocarcinoma</text>
<path d="M436.58,28.70 L436.58,38.00 L436.64,39.25 L436.77,40.50 L436.91,41.75 L436.97,43.00 L437.12,44.25 L437.47,45.50 L437.82,46.75 L437.97,48.00 L438.04,49.25 L438.22,50.50 L438.40,51.75 L438.47,53.00 L438.43,53.75 L438.32,54.50 L438.21,55.25 L438.17,56.00 L438.02,57.00 L437.67,58.00 L437.32,59.00 L437.17,60.00 L437.08,60.75 L436.88,61.50 L436.67,62.25 L436.58,63.00 L436.58,107.30 L436.42,107.30 L436.42,63.00 L436.33,62.25 L436.12,61.50 L435.92,60.75 L435.83,60.00 L435.68,59.00 L435.33,58.00 L434.98,57.00 L434.83,56.00 L434.79,55.25 L434.68,54.50 L434.57,53.75 L434.53,53.00 L434.60,51.75 L434.78,50.50 L434.96,49.25 L435.03,48.00 L435.18,46.75 L435.53,45.50 L435.88,44.25 L436.03,43.00 L436.09,41.75 L436.23,40.50 L436.36,39.25 L436.42,38.00 L436.42,28.70Z" fill="#fff" stroke="#000" stroke-width="0.62" stroke-linejoin="round"/>
<ellipse cx="436.50" cy="54.00" rx="1.3" ry="1.2" fill="#b4001f"/>
<line x1="436.46" y1="111.85" x2="436.46" y2="114.85" stroke="#000" stroke-width="1.0"/>
<text x="438.96" y="117.80" font-size="7.0" text-anchor="end" textLength="93.59" lengthAdjust="spacingAndGlyphs" transform="rotate(-90 438.96 117.80)">Lung squamous cell carcinoma</text>
<path d="M448.38,22.90 L448.38,35.00 L448.50,36.25 L448.78,37.50 L449.05,38.75 L449.17,40.00 L449.26,41.25 L449.47,42.50 L449.68,43.75 L449.77,45.00 L449.78,46.00 L449.82,47.00 L449.86,48.00 L449.87,49.00 L449.78,50.00 L449.57,51.00 L449.36,52.00 L449.27,53.00 L449.14,54.25 L448.82,55.50 L448.51,56.75 L448.38,58.00 L448.38,73.70 L448.22,73.70 L448.22,58.00 L448.09,56.75 L447.78,55.50 L447.46,54.25 L447.33,53.00 L447.24,52.00 L447.03,51.00 L446.82,50.00 L446.73,49.00 L446.74,48.00 L446.78,47.00 L446.82,46.00 L446.83,45.00 L446.92,43.75 L447.13,42.50 L447.34,41.25 L447.43,40.00 L447.55,38.75 L447.82,37.50 L448.10,36.25 L448.22,35.00 L448.22,22.90Z" fill="#fff" stroke="#000" stroke-width="0.62" stroke-linejoin="round"/>
<ellipse cx="448.30" cy="49.30" rx="1.3" ry="1.2" fill="#b4001f"/>
<line x1="448.33" y1="111.85" x2="448.33" y2="114.85" stroke="#000" stroke-width="1.0"/>
<text x="450.83" y="117.80" font-size="7.0" text-anchor="end" textLength="31.70" lengthAdjust="spacingAndGlyphs" transform="rotate(-90 450.83 117.80)">Melanoma</text>
<line x1="47.50" y1="251.80" x2="47.50" y2="411.00" stroke="#000" stroke-width="1.1"/>
<line x1="46.95" y1="410.50" x2="144.70" y2="410.50" stroke="#000" stroke-width="1.1"/>
<line x1="43.80" y1="403.40" x2="47.50" y2="403.40" stroke="#000" stroke-width="1.0"/>
<text x="40.30" y="405.90" font-size="7.1" text-anchor="end">0</text>
<line x1="43.80" y1="357.50" x2="47.50" y2="357.50" stroke="#000" stroke-width="1.0"/>
<text x="40.30" y="360.00" font-size="7.1" text-anchor="end">20</text>
<line x1="43.80" y1="311.60" x2="47.50" y2="311.60" stroke="#000" stroke-width="1.0"/>
<text x="40.30" y="314.10" font-size="7.1" text-anchor="end">40</text>
<line x1="43.80" y1="265.70" x2="47.50" y2="265.70" stroke="#000" stroke-width="1.0"/>
<text x="40.30" y="268.20" font-size="7.1" text-anchor="end">60</text>
<line x1="74.10" y1="410.50" x2="74.10" y2="413.70" stroke="#000" stroke-width="1.0"/>
<line x1="117.90" y1="410.50" x2="117.90" y2="413.70" stroke="#000" stroke-width="1.0"/>
<text x="24.90" y="331.00" font-size="7.9" text-anchor="middle" textLength="96.00" lengthAdjust="spacingAndGlyphs" transform="rotate(-90 24.90 331.00)">N of variants (/217 oncodriver)</text>
<text x="68.00" y="257.70" font-size="7.1" textLength="56.00" lengthAdjust="spacingAndGlyphs">T−test, p = 0.0053</text>
<text x="78.40" y="422.20" font-size="7.0" text-anchor="end" textLength="35.80" lengthAdjust="spacingAndGlyphs" transform="rotate(-45 78.40 422.20)">non−thymic</text>
<text x="122.60" y="422.20" font-size="7.0" text-anchor="end" textLength="20.60" lengthAdjust="spacingAndGlyphs" transform="rotate(-45 122.60 422.20)">thymic</text>
<line x1="74.10" y1="361.00" x2="74.10" y2="400.40" stroke="#000" stroke-width="0.9"/>
<rect x="57.50" y="375.90" width="32.80" height="17.90" fill="#2d4d8b" stroke="#1d2f55" stroke-width="0.4"/>
<line x1="57.50" y1="382.50" x2="90.30" y2="382.50" stroke="#000" stroke-width="1.2"/>
<line x1="118.30" y1="290.20" x2="118.30" y2="401.00" stroke="#000" stroke-width="0.9"/>
<rect x="101.90" y="347.00" width="32.80" height="37.60" fill="#a9a7ba" stroke="#7e7c90" stroke-width="0.4"/>
<line x1="101.90" y1="373.30" x2="134.70" y2="373.30" stroke="#000" stroke-width="1.2"/>
<circle cx="74.10" cy="361.10" r="0.95" fill="#111"/>
<circle cx="74.10" cy="362.10" r="0.95" fill="#111"/>
<circle cx="70.10" cy="372.80" r="0.95" fill="#111"/>
<circle cx="70.10" cy="373.80" r="0.95" fill="#111"/>
<circle cx="71.85" cy="372.80" r="0.95" fill="#111"/>
<circle cx="71.85" cy="373.80" r="0.95" fill="#111"/>
<circle cx="73.60" cy="372.80" r="0.95" fill="#111"/>
<circle cx="73.60" cy="373.80" r="0.95" fill="#111"/>
<circle cx="75.35" cy="372.80" r="0.95" fill="#111"/>
<circle cx="75.35" cy="373.80" r="0.95" fill="#111"/>
<circle cx="77.10" cy="372.80" r="0.95" fill="#111"/>
<circle cx="77.10" cy="373.80" r="0.95" fill="#111"/>
<circle cx="70.97" cy="380.50" r="0.95" fill="#111"/>
<circle cx="70.97" cy="381.50" r="0.95" fill="#111"/>
<circle cx="72.72" cy="380.50" r="0.95" fill="#111"/>
<circle cx="72.72" cy="381.50" r="0.95" fill="#111"/>
<circle cx="74.47" cy="380.50" r="0.95" fill="#111"/>
<circle cx="74.47" cy="381.50" r="0.95" fill="#111"/>
<circle cx="76.22" cy="380.50" r="0.95" fill="#111"/>
<circle cx="76.22" cy="381.50" r="0.95" fill="#111"/>
<circle cx="70.10" cy="391.30" r="0.95" fill="#111"/>
<circle cx="70.10" cy="392.30" r="0.95" fill="#111"/>
<circle cx="71.85" cy="391.30" r="0.95" fill="#111"/>
<circle cx="71.85" cy="392.30" r="0.95" fill="#111"/>
<circle cx="73.60" cy="391.30" r="0.95" fill="#111"/>
<circle cx="73.60" cy="392.30" r="0.95" fill="#111"/>
<circle cx="75.35" cy="391.30" r="0.95" fill="#111"/>
<circle cx="75.35" cy="392.30" r="0.95" fill="#111"/>
<circle cx="77.10" cy="391.30" r="0.95" fill="#111"/>
<circle cx="77.10" cy="392.30" r="0.95" fill="#111"/>
<circle cx="71.95" cy="398.20" r="0.95" fill="#111"/>
<circle cx="71.95" cy="399.20" r="0.95" fill="#111"/>
<circle cx="73.70" cy="398.20" r="0.95" fill="#111"/>
<circle cx="73.70" cy="399.20" r="0.95" fill="#111"/>
<circle cx="75.45" cy="398.20" r="0.95" fill="#111"/>
<circle cx="75.45" cy="399.20" r="0.95" fill="#111"/>
<circle cx="74.30" cy="384.00" r="1.60" fill="#111"/>
<circle cx="118.30" cy="261.00" r="0.95" fill="#111"/>
<circle cx="118.30" cy="262.00" r="0.95" fill="#111"/>
<circle cx="118.30" cy="331.50" r="0.95" fill="#111"/>
<circle cx="118.30" cy="332.50" r="0.95" fill="#111"/>
<circle cx="116.55" cy="336.50" r="0.95" fill="#111"/>
<circle cx="116.55" cy="337.50" r="0.95" fill="#111"/>
<circle cx="118.30" cy="336.50" r="0.95" fill="#111"/>
<circle cx="118.30" cy="337.50" r="0.95" fill="#111"/>
<circle cx="120.05" cy="336.50" r="0.95" fill="#111"/>
<circle cx="120.05" cy="337.50" r="0.95" fill="#111"/>
<circle cx="117.42" cy="344.70" r="0.95" fill="#111"/>
<circle cx="117.42" cy="345.70" r="0.95" fill="#111"/>
<circle cx="119.17" cy="344.70" r="0.95" fill="#111"/>
<circle cx="119.17" cy="345.70" r="0.95" fill="#111"/>
<circle cx="117.42" cy="350.00" r="0.95" fill="#111"/>
<circle cx="117.42" cy="351.00" r="0.95" fill="#111"/>
<circle cx="119.17" cy="350.00" r="0.95" fill="#111"/>
<circle cx="119.17" cy="351.00" r="0.95" fill="#111"/>
<circle cx="113.53" cy="370.60" r="0.95" fill="#111"/>
<circle cx="113.53" cy="371.60" r="0.95" fill="#111"/>
<circle cx="115.28" cy="370.60" r="0.95" fill="#111"/>
<circle cx="115.28" cy="371.60" r="0.95" fill="#111"/>
<circle cx="117.03" cy="370.60" r="0.95" fill="#111"/>
<circle cx="117.03" cy="371.60" r="0.95" fill="#111"/>
<circle cx="118.78" cy="370.60" r="0.95" fill="#111"/>
<circle cx="118.78" cy="371.60" r="0.95" fill="#111"/>
<circle cx="120.53" cy="370.60" r="0.95" fill="#111"/>
<circle cx="120.53" cy="371.60" r="0.95" fill="#111"/>
<circle cx="122.28" cy="370.60" r="0.95" fill="#111"/>
<circle cx="122.28" cy="371.60" r="0.95" fill="#111"/>
<circle cx="113.53" cy="383.10" r="0.95" fill="#111"/>
<circle cx="113.53" cy="384.10" r="0.95" fill="#111"/>
<circle cx="115.28" cy="383.10" r="0.95" fill="#111"/>
<circle cx="115.28" cy="384.10" r="0.95" fill="#111"/>
<circle cx="117.03" cy="383.10" r="0.95" fill="#111"/>
<circle cx="117.03" cy="384.10" r="0.95" fill="#111"/>
<circle cx="118.78" cy="383.10" r="0.95" fill="#111"/>
<circle cx="118.78" cy="384.10" r="0.95" fill="#111"/>
<circle cx="120.53" cy="383.10" r="0.95" fill="#111"/>
<circle cx="120.53" cy="384.10" r="0.95" fill="#111"/>
<circle cx="122.28" cy="383.10" r="0.95" fill="#111"/>
<circle cx="122.28" cy="384.10" r="0.95" fill="#111"/>
<circle cx="114.40" cy="393.40" r="0.95" fill="#111"/>
<circle cx="114.40" cy="394.40" r="0.95" fill="#111"/>
<circle cx="116.15" cy="393.40" r="0.95" fill="#111"/>
<circle cx="116.15" cy="394.40" r="0.95" fill="#111"/>
<circle cx="117.90" cy="393.40" r="0.95" fill="#111"/>
<circle cx="117.90" cy="394.40" r="0.95" fill="#111"/>
<circle cx="119.65" cy="393.40" r="0.95" fill="#111"/>
<circle cx="119.65" cy="394.40" r="0.95" fill="#111"/>
<circle cx="121.40" cy="393.40" r="0.95" fill="#111"/>
<circle cx="121.40" cy="394.40" r="0.95" fill="#111"/>
<circle cx="117.42" cy="400.50" r="0.95" fill="#111"/>
<circle cx="117.42" cy="401.50" r="0.95" fill="#111"/>
<circle cx="119.17" cy="400.50" r="0.95" fill="#111"/>
<circle cx="119.17" cy="401.50" r="0.95" fill="#111"/>
<circle cx="118.30" cy="365.10" r="1.75" fill="#111"/>
<rect x="148.10" y="321.20" width="9.90" height="6.00" fill="#2d4d8b" stroke="#1d2f55" stroke-width="0.4"/>
<line x1="148.10" y1="324.30" x2="158.00" y2="324.30" stroke="#000" stroke-width="1.4"/>
<line x1="153.30" y1="319.00" x2="153.30" y2="329.20" stroke="#000" stroke-width="0.9"/>
<circle cx="153.30" cy="323.80" r="1.70" fill="#111"/>
<circle cx="152.00" cy="326.00" r="0.90" fill="#111"/>
<rect x="148.10" y="335.00" width="9.90" height="5.80" fill="#a9a7ba" stroke="#7e7c90" stroke-width="0.4"/>
<line x1="148.10" y1="338.20" x2="158.00" y2="338.20" stroke="#000" stroke-width="1.4"/>
<line x1="153.30" y1="333.00" x2="153.30" y2="343.00" stroke="#000" stroke-width="0.9"/>
<circle cx="153.30" cy="337.60" r="1.70" fill="#111"/>
<circle cx="152.00" cy="339.80" r="0.90" fill="#111"/>
<circle cx="150.50" cy="338.20" r="0.90" fill="#111"/>
<text x="161.50" y="326.70" font-size="7.0" textLength="47.40" lengthAdjust="spacingAndGlyphs">non−thymic, N=18</text>
<text x="161.50" y="340.70" font-size="7.0" textLength="33.50" lengthAdjust="spacingAndGlyphs">thymic, N=31</text>
<line x1="263.15" y1="452.00" x2="483.80" y2="238.55" stroke="#9c9c9c" stroke-width="0.85" stroke-dasharray="3.6 2.6"/>
<line x1="353.34" y1="238.55" x2="353.34" y2="452.00" stroke="#c3224b" stroke-width="1.2" stroke-dasharray="3 2.5"/>
<line x1="263.15" y1="364.76" x2="483.80" y2="364.76" stroke="#c3224b" stroke-width="1.2" stroke-dasharray="3 2.5"/>
<rect x="263.15" y="238.55" width="220.65" height="213.45" fill="none" stroke="#000" stroke-width="1.1"/>
<line x1="259.75" y1="442.46" x2="263.15" y2="442.46" stroke="#000" stroke-width="1.0"/>
<text x="256.80" y="444.86" font-size="6.9" text-anchor="end">0</text>
<line x1="273.10" y1="452.00" x2="273.10" y2="455.20" stroke="#000" stroke-width="1.0"/>
<text x="273.10" y="464.30" font-size="6.9" text-anchor="middle">0</text>
<line x1="259.75" y1="403.61" x2="263.15" y2="403.61" stroke="#000" stroke-width="1.0"/>
<text x="256.80" y="406.01" font-size="6.9" text-anchor="end">10</text>
<line x1="313.22" y1="452.00" x2="313.22" y2="455.20" stroke="#000" stroke-width="1.0"/>
<text x="313.22" y="464.30" font-size="6.9" text-anchor="middle">10</text>
<line x1="259.75" y1="364.76" x2="263.15" y2="364.76" stroke="#000" stroke-width="1.0"/>
<text x="256.80" y="367.16" font-size="6.9" text-anchor="end">20</text>
<line x1="353.34" y1="452.00" x2="353.34" y2="455.20" stroke="#000" stroke-width="1.0"/>
<text x="353.34" y="464.30" font-size="6.9" text-anchor="middle">20</text>
<line x1="259.75" y1="325.91" x2="263.15" y2="325.91" stroke="#000" stroke-width="1.0"/>
<text x="256.80" y="328.31" font-size="6.9" text-anchor="end">30</text>
<line x1="393.46" y1="452.00" x2="393.46" y2="455.20" stroke="#000" stroke-width="1.0"/>
<text x="393.46" y="464.30" font-size="6.9" text-anchor="middle">30</text>
<line x1="259.75" y1="287.06" x2="263.15" y2="287.06" stroke="#000" stroke-width="1.0"/>
<text x="256.80" y="289.46" font-size="6.9" text-anchor="end">40</text>
<line x1="433.58" y1="452.00" x2="433.58" y2="455.20" stroke="#000" stroke-width="1.0"/>
<text x="433.58" y="464.30" font-size="6.9" text-anchor="middle">40</text>
<line x1="259.75" y1="248.21" x2="263.15" y2="248.21" stroke="#000" stroke-width="1.0"/>
<text x="256.80" y="250.61" font-size="6.9" text-anchor="end">50</text>
<line x1="473.70" y1="452.00" x2="473.70" y2="455.20" stroke="#000" stroke-width="1.0"/>
<text x="473.70" y="464.30" font-size="6.9" text-anchor="middle">50</text>
<text x="244.20" y="350.00" font-size="8.3" text-anchor="middle" textLength="145.30" lengthAdjust="spacingAndGlyphs" transform="rotate(-90 244.20 350.00)">Non−thymic GZL, % mutated cases (N=18)</text>
<text x="370.30" y="475.60" font-size="8.3" text-anchor="middle" textLength="110.00" lengthAdjust="spacingAndGlyphs">Thymic GZL, % mutated cases (N=31)</text>
<circle cx="271.60" cy="399.90" r="2.80" fill="#27457f"/>
<circle cx="285.00" cy="399.90" r="1.60" fill="#27457f"/>
<circle cx="298.20" cy="399.90" r="1.60" fill="#27457f"/>
<circle cx="311.50" cy="399.90" r="0.70" fill="#27457f"/>
<circle cx="337.60" cy="399.90" r="0.70" fill="#27457f"/>
<circle cx="272.10" cy="421.20" r="2.10" fill="#27457f"/>
<circle cx="285.40" cy="421.20" r="0.60" fill="#27457f"/>
<circle cx="298.60" cy="421.20" r="0.60" fill="#27457f"/>
<circle cx="311.50" cy="421.20" r="0.60" fill="#27457f"/>
<circle cx="323.80" cy="421.20" r="1.50" fill="#27457f"/>
<circle cx="336.90" cy="421.20" r="2.00" fill="#27457f"/>
<circle cx="349.60" cy="421.20" r="2.30" fill="#27457f"/>
<circle cx="362.30" cy="421.20" r="2.20" fill="#27457f"/>
<circle cx="285.40" cy="443.00" r="0.60" fill="#27457f"/>
<circle cx="298.20" cy="443.00" r="1.80" fill="#27457f"/>
<circle cx="310.40" cy="443.00" r="2.20" fill="#27457f"/>
<circle cx="323.50" cy="443.00" r="2.30" fill="#27457f"/>
<circle cx="336.20" cy="443.00" r="2.90" fill="#27457f"/>
<circle cx="362.00" cy="443.50" r="3.60" fill="#27457f"/>
<circle cx="388.00" cy="421.70" r="3.00" fill="#27457f"/>
<circle cx="414.20" cy="421.70" r="3.30" fill="#27457f"/>
<circle cx="453.70" cy="313.70" r="1.80" fill="#27457f"/>
<circle cx="271.20" cy="378.80" r="3.00" fill="#27457f"/>
<circle cx="284.50" cy="378.40" r="2.60" fill="#27457f"/>
<circle cx="297.70" cy="356.90" r="2.60" fill="#27457f"/>
<circle cx="337.60" cy="378.80" r="0.60" fill="#27457f"/>
<circle cx="298.80" cy="290.90" r="7.40" fill="#a50b2f"/>
<circle cx="284.30" cy="335.70" r="3.70" fill="#a50b2f"/>
<circle cx="452.50" cy="400.50" r="3.80" fill="#a50b2f"/>
<circle cx="374.50" cy="443.50" r="3.80" fill="#a50b2f"/>
<circle cx="403.00" cy="442.00" r="8.40" fill="#a50b2f"/>
<circle cx="415.50" cy="441.80" r="8.60" fill="#a50b2f"/>
<line x1="271.20" y1="378.80" x2="275.50" y2="382.50" stroke="#000" stroke-width="0.7"/>
<line x1="284.50" y1="378.40" x2="292.00" y2="375.50" stroke="#000" stroke-width="0.7"/>
<line x1="353.00" y1="426.00" x2="362.30" y2="421.20" stroke="#000" stroke-width="0.8"/>
<line x1="403.00" y1="442.00" x2="407.50" y2="437.50" stroke="#000" stroke-width="0.8"/>
<line x1="415.50" y1="441.80" x2="437.00" y2="446.50" stroke="#000" stroke-width="0.8"/>
<text x="284.50" y="299.50" font-size="6.2" textLength="12.50" lengthAdjust="spacingAndGlyphs" font-style="italic" fill="#222">TP53</text>
<text x="275.80" y="332.00" font-size="6.2" textLength="21.40" lengthAdjust="spacingAndGlyphs" fill="#222">CREBBP</text>
<text x="271.60" y="343.40" font-size="6.2" textLength="12.90" lengthAdjust="spacingAndGlyphs" font-style="italic" fill="#222">BCL2</text>
<text x="282.00" y="364.70" font-size="6.2" textLength="15.00" lengthAdjust="spacingAndGlyphs" font-style="italic" fill="#222">BIRC6</text>
<text x="266.00" y="388.70" font-size="6.2" textLength="22.50" lengthAdjust="spacingAndGlyphs" font-style="italic" fill="#222">TBL1XR1</text>
<text x="292.00" y="378.00" font-size="6.2" textLength="19.50" lengthAdjust="spacingAndGlyphs" font-style="italic" fill="#222">KMT2D</text>
<text x="331.20" y="429.20" font-size="6.2" textLength="14.30" lengthAdjust="spacingAndGlyphs" font-style="italic" fill="#222">XPO1</text>
<text x="339.20" y="449.90" font-size="6.2" textLength="20.10" lengthAdjust="spacingAndGlyphs" font-style="italic" fill="#222">ZNF217</text>
<text x="356.00" y="439.20" font-size="6.2" textLength="19.80" lengthAdjust="spacingAndGlyphs" font-style="italic" fill="#222">NFKBIE</text>
<text x="379.50" y="449.70" font-size="6.2" textLength="15.50" lengthAdjust="spacingAndGlyphs" font-style="italic" fill="#222">ITPKB</text>
<text x="390.00" y="428.90" font-size="6.2" textLength="20.00" lengthAdjust="spacingAndGlyphs" font-style="italic" fill="#222">NFKBIA</text>
<text x="408.30" y="417.90" font-size="6.2" textLength="19.20" lengthAdjust="spacingAndGlyphs" font-style="italic" fill="#222">GNA13</text>
<text x="440.50" y="408.00" font-size="6.2" textLength="9.00" lengthAdjust="spacingAndGlyphs" font-style="italic" fill="#222">B2M</text>
<text x="405.50" y="439.20" font-size="6.2" textLength="19.50" lengthAdjust="spacingAndGlyphs" font-style="italic" fill="#222">LRRN3</text>
<text x="438.80" y="449.70" font-size="6.2" textLength="22.00" lengthAdjust="spacingAndGlyphs" font-style="italic" fill="#222">TNFAIP3</text>
<text x="446.90" y="310.50" font-size="6.2" textLength="17.70" lengthAdjust="spacingAndGlyphs" font-style="italic" fill="#222">SOCS1</text>
<text x="486.30" y="339.40" font-size="6.8" textLength="20.70" lengthAdjust="spacingAndGlyphs">q−value</text>
<circle cx="487.30" cy="344.50" r="0.75" fill="#a50b2f"/>
<circle cx="487.30" cy="353.50" r="0.75" fill="#27457f"/>
<text x="490.70" y="346.90" font-size="6.8" textLength="21.60" lengthAdjust="spacingAndGlyphs">q&lt;=0.05</text>
<text x="490.70" y="355.90" font-size="6.8" textLength="18.30" lengthAdjust="spacingAndGlyphs">q&gt;0.05</text>
<rect x="31.70" y="509.25" width="259.90" height="164.15" fill="#e9e9eb"/>
<rect x="339.00" y="509.25" width="137.02" height="164.15" fill="#e9e9eb"/>
<rect x="31.70" y="509.25" width="7.30" height="4.65" fill="#474c5e"/>
<rect x="40.12" y="509.25" width="7.30" height="4.65" fill="#474c5e"/>
<rect x="48.54" y="509.25" width="7.30" height="4.65" fill="#474c5e"/>
<rect x="56.96" y="509.25" width="7.30" height="4.65" fill="#474c5e"/>
<rect x="65.38" y="509.25" width="7.30" height="4.65" fill="#474c5e"/>
<rect x="73.80" y="509.25" width="7.30" height="4.65" fill="#5aa832"/>
<rect x="82.22" y="509.25" width="7.30" height="4.65" fill="#474c5e"/>
<rect x="90.64" y="509.25" width="7.30" height="4.65" fill="#a8002a"/>
<rect x="99.06" y="509.25" width="7.30" height="4.65" fill="#5aace6"/>
<rect x="107.48" y="509.25" width="7.30" height="4.65" fill="#a8002a"/>
<rect x="115.90" y="509.25" width="7.30" height="4.65" fill="#5aa832"/>
<rect x="124.32" y="509.25" width="7.30" height="4.65" fill="#474c5e"/>
<rect x="132.74" y="509.25" width="7.30" height="4.65" fill="#5aa832"/>
<rect x="141.16" y="509.25" width="7.30" height="4.65" fill="#a8002a"/>
<rect x="149.58" y="509.25" width="7.30" height="4.65" fill="#c7c6cb"/>
<rect x="158.00" y="509.25" width="7.30" height="4.65" fill="#c7c6cb"/>
<rect x="166.42" y="509.25" width="7.30" height="4.65" fill="#c7c6cb"/>
<rect x="174.84" y="509.25" width="7.30" height="4.65" fill="#c7c6cb"/>
<rect x="183.26" y="509.25" width="7.30" height="4.65" fill="#c7c6cb"/>
<rect x="191.68" y="509.25" width="7.30" height="4.65" fill="#c7c6cb"/>
<rect x="200.10" y="509.25" width="7.30" height="4.65" fill="#c7c6cb"/>
<rect x="208.52" y="509.25" width="7.30" height="4.65" fill="#c7c6cb"/>
<rect x="216.94" y="509.25" width="7.30" height="4.65" fill="#c7c6cb"/>
<rect x="225.36" y="509.25" width="7.30" height="4.65" fill="#c7c6cb"/>
<rect x="233.78" y="509.25" width="7.30" height="4.65" fill="#c7c6cb"/>
<rect x="242.20" y="509.25" width="7.30" height="4.65" fill="#c7c6cb"/>
<rect x="250.62" y="509.25" width="7.30" height="4.65" fill="#c7c6cb"/>
<rect x="259.04" y="509.25" width="7.30" height="4.65" fill="#c7c6cb"/>
<rect x="267.46" y="509.25" width="7.30" height="4.65" fill="#c7c6cb"/>
<rect x="275.88" y="509.25" width="7.30" height="4.65" fill="#c7c6cb"/>
<rect x="284.30" y="509.25" width="7.30" height="4.65" fill="#c7c6cb"/>
<rect x="339.00" y="509.25" width="6.80" height="4.65" fill="#c7c6cb"/>
<rect x="346.66" y="509.25" width="6.80" height="4.65" fill="#c7c6cb"/>
<rect x="354.32" y="509.25" width="6.80" height="4.65" fill="#c7c6cb"/>
<rect x="361.98" y="509.25" width="6.80" height="4.65" fill="#c7c6cb"/>
<rect x="369.64" y="509.25" width="6.80" height="4.65" fill="#c7c6cb"/>
<rect x="377.30" y="509.25" width="6.80" height="4.65" fill="#c7c6cb"/>
<rect x="384.96" y="509.25" width="6.80" height="4.65" fill="#c7c6cb"/>
<rect x="392.62" y="509.25" width="6.80" height="4.65" fill="#c7c6cb"/>
<rect x="400.28" y="509.25" width="6.80" height="4.65" fill="#c7c6cb"/>
<rect x="407.94" y="509.25" width="6.80" height="4.65" fill="#5aa832"/>
<rect x="415.60" y="509.25" width="6.80" height="4.65" fill="#c7c6cb"/>
<rect x="423.26" y="509.25" width="6.80" height="4.65" fill="#c7c6cb"/>
<rect x="430.92" y="509.25" width="6.80" height="4.65" fill="#c7c6cb"/>
<rect x="438.58" y="509.25" width="6.80" height="4.65" fill="#c7c6cb"/>
<rect x="446.24" y="509.25" width="6.80" height="4.65" fill="#a8002a"/>
<rect x="453.90" y="509.25" width="6.80" height="4.65" fill="#c7c6cb"/>
<rect x="461.56" y="509.25" width="6.80" height="4.65" fill="#c7c6cb"/>
<rect x="469.22" y="509.25" width="6.80" height="4.65" fill="#c7c6cb"/>
<rect x="31.70" y="514.75" width="7.30" height="4.65" fill="#474c5e"/>
<rect x="40.12" y="514.75" width="7.30" height="4.65" fill="#5aace6"/>
<rect x="48.54" y="514.75" width="7.30" height="4.65" fill="#a8002a"/>
<rect x="56.96" y="514.75" width="7.30" height="4.65" fill="#5aa832"/>
<rect x="65.38" y="514.75" width="7.30" height="4.65" fill="#474c5e"/>
<rect x="73.80" y="514.75" width="7.30" height="4.65" fill="#474c5e"/>
<rect x="82.22" y="514.75" width="7.30" height="4.65" fill="#474c5e"/>
<rect x="90.64" y="514.75" width="7.30" height="4.65" fill="#474c5e"/>
<rect x="99.06" y="514.75" width="7.30" height="4.65" fill="#474c5e"/>
<rect x="107.48" y="514.75" width="7.30" height="4.65" fill="#474c5e"/>
<rect x="115.90" y="514.75" width="7.30" height="4.65" fill="#c7c6cb"/>
<rect x="124.32" y="514.75" width="7.30" height="4.65" fill="#c7c6cb"/>
<rect x="132.74" y="514.75" width="7.30" height="4.65" fill="#c7c6cb"/>
<rect x="141.16" y="514.75" width="7.30" height="4.65" fill="#c7c6cb"/>
<rect x="149.58" y="514.75" width="7.30" height="4.65" fill="#474c5e"/>
<rect x="158.00" y="514.75" width="7.30" height="4.65" fill="#5aa832"/>
<rect x="166.42" y="514.75" width="7.30" height="4.65" fill="#5aa832"/>
<rect x="174.84" y="514.75" width="7.30" height="4.65" fill="#5aa832"/>
<rect x="183.26" y="514.75" width="7.30" height="4.65" fill="#c7c6cb"/>
<rect x="191.68" y="514.75" width="7.30" height="4.65" fill="#c7c6cb"/>
<rect x="200.10" y="514.75" width="7.30" height="4.65" fill="#c7c6cb"/>
<rect x="208.52" y="514.75" width="7.30" height="4.65" fill="#c7c6cb"/>
<rect x="216.94" y="514.75" width="7.30" height="4.65" fill="#c7c6cb"/>
<rect x="225.36" y="514.75" width="7.30" height="4.65" fill="#c7c6cb"/>
<rect x="233.78" y="514.75" width="7.30" height="4.65" fill="#c7c6cb"/>
<rect x="242.20" y="514.75" width="7.30" height="4.65" fill="#c7c6cb"/>
<rect x="250.62" y="514.75" width="7.30" height="4.65" fill="#c7c6cb"/>
<rect x="259.04" y="514.75" width="7.30" height="4.65" fill="#c7c6cb"/>
<rect x="267.46" y="514.75" width="7.30" height="4.65" fill="#c7c6cb"/>
<rect x="275.88" y="514.75" width="7.30" height="4.65" fill="#c7c6cb"/>
<rect x="284.30" y="514.75" width="7.30" height="4.65" fill="#c7c6cb"/>
<rect x="339.00" y="514.75" width="6.80" height="4.65" fill="#5aace6"/>
<rect x="346.66" y="514.75" width="6.80" height="4.65" fill="#c7c6cb"/>
<rect x="354.32" y="514.75" width="6.80" height="4.65" fill="#c7c6cb"/>
<rect x="361.98" y="514.75" width="6.80" height="4.65" fill="#c7c6cb"/>
<rect x="369.64" y="514.75" width="6.80" height="4.65" fill="#c7c6cb"/>
<rect x="377.30" y="514.75" width="6.80" height="4.65" fill="#c7c6cb"/>
<rect x="384.96" y="514.75" width="6.80" height="4.65" fill="#c7c6cb"/>
<rect x="392.62" y="514.75" width="6.80" height="4.65" fill="#5aa832"/>
<rect x="400.28" y="514.75" width="6.80" height="4.65" fill="#5aa832"/>
<rect x="407.94" y="514.75" width="6.80" height="4.65" fill="#5aa832"/>
<rect x="415.60" y="514.75" width="6.80" height="4.65" fill="#5aa832"/>
<rect x="423.26" y="514.75" width="6.80" height="4.65" fill="#5aa832"/>
<rect x="430.92" y="514.75" width="6.80" height="4.65" fill="#c7c6cb"/>
<rect x="438.58" y="514.75" width="6.80" height="4.65" fill="#c7c6cb"/>
<rect x="446.24" y="514.75" width="6.80" height="4.65" fill="#c7c6cb"/>
<rect x="453.90" y="514.75" width="6.80" height="4.65" fill="#c7c6cb"/>
<rect x="461.56" y="514.75" width="6.80" height="4.65" fill="#c7c6cb"/>
<rect x="469.22" y="514.75" width="6.80" height="4.65" fill="#c7c6cb"/>
<rect x="31.70" y="520.25" width="7.30" height="4.65" fill="#5aace6"/>
<rect x="40.12" y="520.25" width="7.30" height="4.65" fill="#5aace6"/>
<rect x="48.54" y="520.25" width="7.30" height="4.65" fill="#a8002a"/>
<rect x="56.96" y="520.25" width="7.30" height="4.65" fill="#c7c6cb"/>
<rect x="65.38" y="520.25" width="7.30" height="4.65" fill="#c7c6cb"/>
<rect x="73.80" y="520.25" width="7.30" height="4.65" fill="#c7c6cb"/>
<rect x="82.22" y="520.25" width="7.30" height="4.65" fill="#5aa832"/>
<rect x="90.64" y="520.25" width="7.30" height="4.65" fill="#c7c6cb"/>
<rect x="99.06" y="520.25" width="7.30" height="4.65" fill="#c7c6cb"/>
<rect x="107.48" y="520.25" width="7.30" height="4.65" fill="#c7c6cb"/>
<rect x="115.90" y="520.25" width="7.30" height="4.65" fill="#5aace6"/>
<rect x="124.32" y="520.25" width="7.30" height="4.65" fill="#5aa832"/>
<rect x="132.74" y="520.25" width="7.30" height="4.65" fill="#c7c6cb"/>
<rect x="141.16" y="520.25" width="7.30" height="4.65" fill="#c7c6cb"/>
<rect x="149.58" y="520.25" width="7.30" height="4.65" fill="#474c5e"/>
<rect x="158.00" y="520.25" width="7.30" height="4.65" fill="#c7c6cb"/>
<rect x="166.42" y="520.25" width="7.30" height="4.65" fill="#c7c6cb"/>
<rect x="174.84" y="520.25" width="7.30" height="4.65" fill="#c7c6cb"/>
<rect x="183.26" y="520.25" width="7.30" height="4.65" fill="#5aace6"/>
<rect x="191.68" y="520.25" width="7.30" height="4.65" fill="#c7c6cb"/>
<rect x="200.10" y="520.25" width="7.30" height="4.65" fill="#c7c6cb"/>
<rect x="208.52" y="520.25" width="7.30" height="4.65" fill="#c7c6cb"/>
<rect x="216.94" y="520.25" width="7.30" height="4.65" fill="#a8002a"/>
<rect x="225.36" y="520.25" width="7.30" height="4.65" fill="#5aace6"/>
<rect x="233.78" y="520.25" width="7.30" height="4.65" fill="#5aa832"/>
<rect x="242.20" y="520.25" width="7.30" height="4.65" fill="#c7c6cb"/>
<rect x="250.62" y="520.25" width="7.30" height="4.65" fill="#c7c6cb"/>
<rect x="259.04" y="520.25" width="7.30" height="4.65" fill="#c7c6cb"/>
<rect x="267.46" y="520.25" width="7.30" height="4.65" fill="#c7c6cb"/>
<rect x="275.88" y="520.25" width="7.30" height="4.65" fill="#c7c6cb"/>
<rect x="284.30" y="520.25" width="7.30" height="4.65" fill="#c7c6cb"/>
<rect x="339.00" y="520.25" width="6.80" height="4.65" fill="#c7c6cb"/>
<rect x="346.66" y="520.25" width="6.80" height="4.65" fill="#c7c6cb"/>
<rect x="354.32" y="520.25" width="6.80" height="4.65" fill="#c7c6cb"/>
<rect x="361.98" y="520.25" width="6.80" height="4.65" fill="#c7c6cb"/>
<rect x="369.64" y="520.25" width="6.80" height="4.65" fill="#c7c6cb"/>
<rect x="377.30" y="520.25" width="6.80" height="4.65" fill="#c7c6cb"/>
<rect x="384.96" y="520.25" width="6.80" height="4.65" fill="#c7c6cb"/>
<rect x="392.62" y="520.25" width="6.80" height="4.65" fill="#c7c6cb"/>
<rect x="400.28" y="520.25" width="6.80" height="4.65" fill="#c7c6cb"/>
<rect x="407.94" y="520.25" width="6.80" height="4.65" fill="#c7c6cb"/>
<rect x="415.60" y="520.25" width="6.80" height="4.65" fill="#c7c6cb"/>
<rect x="423.26" y="520.25" width="6.80" height="4.65" fill="#c7c6cb"/>
<rect x="430.92" y="520.25" width="6.80" height="4.65" fill="#c7c6cb"/>
<rect x="438.58" y="520.25" width="6.80" height="4.65" fill="#c7c6cb"/>
<rect x="446.24" y="520.25" width="6.80" height="4.65" fill="#c7c6cb"/>
<rect x="453.90" y="520.25" width="6.80" height="4.65" fill="#c7c6cb"/>
<rect x="461.56" y="520.25" width="6.80" height="4.65" fill="#c7c6cb"/>
<rect x="469.22" y="520.25" width="6.80" height="4.65" fill="#c7c6cb"/>
<rect x="31.70" y="525.75" width="7.30" height="4.65" fill="#c7c6cb"/>
<rect x="40.12" y="525.75" width="7.30" height="4.65" fill="#c7c6cb"/>
<rect x="48.54" y="525.75" width="7.30" height="4.65" fill="#c7c6cb"/>
<rect x="56.96" y="525.75" width="7.30" height="4.65" fill="#5aa832"/>
<rect x="65.38" y="525.75" width="7.30" height="4.65" fill="#5aa832"/>
<rect x="73.80" y="525.75" width="7.30" height="4.65" fill="#c7c6cb"/>
<rect x="82.22" y="525.75" width="7.30" height="4.65" fill="#5aa832"/>
<rect x="90.64" y="525.75" width="7.30" height="4.65" fill="#5aa832"/>
<rect x="99.06" y="525.75" width="7.30" height="4.65" fill="#5aa832"/>
<rect x="107.48" y="525.75" width="7.30" height="4.65" fill="#c7c6cb"/>
<rect x="115.90" y="525.75" width="7.30" height="4.65" fill="#5aa832"/>
<rect x="124.32" y="525.75" width="7.30" height="4.65" fill="#c7c6cb"/>
<rect x="132.74" y="525.75" width="7.30" height="4.65" fill="#c7c6cb"/>
<rect x="141.16" y="525.75" width="7.30" height="4.65" fill="#c7c6cb"/>
<rect x="149.58" y="525.75" width="7.30" height="4.65" fill="#5aa832"/>
<rect x="158.00" y="525.75" width="7.30" height="4.65" fill="#5aa832"/>
<rect x="166.42" y="525.75" width="7.30" height="4.65" fill="#5aa832"/>
<rect x="174.84" y="525.75" width="7.30" height="4.65" fill="#c7c6cb"/>
<rect x="183.26" y="525.75" width="7.30" height="4.65" fill="#c7c6cb"/>
<rect x="191.68" y="525.75" width="7.30" height="4.65" fill="#c7c6cb"/>
<rect x="200.10" y="525.75" width="7.30" height="4.65" fill="#c7c6cb"/>
<rect x="208.52" y="525.75" width="7.30" height="4.65" fill="#c7c6cb"/>
<rect x="216.94" y="525.75" width="7.30" height="4.65" fill="#c7c6cb"/>
<rect x="225.36" y="525.75" width="7.30" height="4.65" fill="#c7c6cb"/>
<rect x="233.78" y="525.75" width="7.30" height="4.65" fill="#c7c6cb"/>
<rect x="242.20" y="525.75" width="7.30" height="4.65" fill="#5aa832"/>
<rect x="250.62" y="525.75" width="7.30" height="4.65" fill="#c7c6cb"/>
<rect x="259.04" y="525.75" width="7.30" height="4.65" fill="#c7c6cb"/>
<rect x="267.46" y="525.75" width="7.30" height="4.65" fill="#c7c6cb"/>
<rect x="275.88" y="525.75" width="7.30" height="4.65" fill="#c7c6cb"/>
<rect x="284.30" y="525.75" width="7.30" height="4.65" fill="#c7c6cb"/>
<rect x="339.00" y="525.75" width="6.80" height="4.65" fill="#c7c6cb"/>
<rect x="346.66" y="525.75" width="6.80" height="4.65" fill="#c7c6cb"/>
<rect x="354.32" y="525.75" width="6.80" height="4.65" fill="#c7c6cb"/>
<rect x="361.98" y="525.75" width="6.80" height="4.65" fill="#c7c6cb"/>
<rect x="369.64" y="525.75" width="6.80" height="4.65" fill="#c7c6cb"/>
<rect x="377.30" y="525.75" width="6.80" height="4.65" fill="#c7c6cb"/>
<rect x="384.96" y="525.75" width="6.80" height="4.65" fill="#c7c6cb"/>
<rect x="392.62" y="525.75" width="6.80" height="4.65" fill="#c7c6cb"/>
<rect x="400.28" y="525.75" width="6.80" height="4.65" fill="#c7c6cb"/>
<rect x="407.94" y="525.75" width="6.80" height="4.65" fill="#c7c6cb"/>
<rect x="415.60" y="525.75" width="6.80" height="4.65" fill="#c7c6cb"/>
<rect x="423.26" y="525.75" width="6.80" height="4.65" fill="#c7c6cb"/>
<rect x="430.92" y="525.75" width="6.80" height="4.65" fill="#c7c6cb"/>
<rect x="438.58" y="525.75" width="6.80" height="4.65" fill="#c7c6cb"/>
<rect x="446.24" y="525.75" width="6.80" height="4.65" fill="#c7c6cb"/>
<rect x="453.90" y="525.75" width="6.80" height="4.65" fill="#c7c6cb"/>
<rect x="461.56" y="525.75" width="6.80" height="4.65" fill="#c7c6cb"/>
<rect x="469.22" y="525.75" width="6.80" height="4.65" fill="#c7c6cb"/>
<rect x="31.70" y="531.25" width="7.30" height="4.65" fill="#5aa832"/>
<rect x="40.12" y="531.25" width="7.30" height="4.65" fill="#5aa832"/>
<rect x="48.54" y="531.25" width="7.30" height="4.65" fill="#ea951c"/>
<rect x="56.96" y="531.25" width="7.30" height="4.65" fill="#5aa832"/>
<rect x="65.38" y="531.25" width="7.30" height="4.65" fill="#5aace6"/>
<rect x="73.80" y="531.25" width="7.30" height="4.65" fill="#5aa832"/>
<rect x="82.22" y="531.25" width="7.30" height="4.65" fill="#c7c6cb"/>
<rect x="90.64" y="531.25" width="7.30" height="4.65" fill="#c7c6cb"/>
<rect x="99.06" y="531.25" width="7.30" height="4.65" fill="#c7c6cb"/>
<rect x="107.48" y="531.25" width="7.30" height="4.65" fill="#c7c6cb"/>
<rect x="115.90" y="531.25" width="7.30" height="4.65" fill="#c7c6cb"/>
<rect x="124.32" y="531.25" width="7.30" height="4.65" fill="#c7c6cb"/>
<rect x="132.74" y="531.25" width="7.30" height="4.65" fill="#c7c6cb"/>
<rect x="141.16" y="531.25" width="7.30" height="4.65" fill="#c7c6cb"/>
<rect x="149.58" y="531.25" width="7.30" height="4.65" fill="#5aa832"/>
<rect x="158.00" y="531.25" width="7.30" height="4.65" fill="#c7c6cb"/>
<rect x="166.42" y="531.25" width="7.30" height="4.65" fill="#c7c6cb"/>
<rect x="174.84" y="531.25" width="7.30" height="4.65" fill="#c7c6cb"/>
<rect x="183.26" y="531.25" width="7.30" height="4.65" fill="#474c5e"/>
<rect x="191.68" y="531.25" width="7.30" height="4.65" fill="#5aa832"/>
<rect x="200.10" y="531.25" width="7.30" height="4.65" fill="#ea951c"/>
<rect x="208.52" y="531.25" width="7.30" height="4.65" fill="#5aace6"/>
<rect x="216.94" y="531.25" width="7.30" height="4.65" fill="#c7c6cb"/>
<rect x="225.36" y="531.25" width="7.30" height="4.65" fill="#c7c6cb"/>
<rect x="233.78" y="531.25" width="7.30" height="4.65" fill="#c7c6cb"/>
<rect x="242.20" y="531.25" width="7.30" height="4.65" fill="#c7c6cb"/>
<rect x="250.62" y="531.25" width="7.30" height="4.65" fill="#c7c6cb"/>
<rect x="259.04" y="531.25" width="7.30" height="4.65" fill="#c7c6cb"/>
<rect x="267.46" y="531.25" width="7.30" height="4.65" fill="#c7c6cb"/>
<rect x="275.88" y="531.25" width="7.30" height="4.65" fill="#c7c6cb"/>
<rect x="284.30" y="531.25" width="7.30" height="4.65" fill="#c7c6cb"/>
<rect x="339.00" y="531.25" width="6.80" height="4.65" fill="#c7c6cb"/>
<rect x="346.66" y="531.25" width="6.80" height="4.65" fill="#c7c6cb"/>
<rect x="354.32" y="531.25" width="6.80" height="4.65" fill="#c7c6cb"/>
<rect x="361.98" y="531.25" width="6.80" height="4.65" fill="#c7c6cb"/>
<rect x="369.64" y="531.25" width="6.80" height="4.65" fill="#c7c6cb"/>
<rect x="377.30" y="531.25" width="6.80" height="4.65" fill="#c7c6cb"/>
<rect x="384.96" y="531.25" width="6.80" height="4.65" fill="#c7c6cb"/>
<rect x="392.62" y="531.25" width="6.80" height="4.65" fill="#c7c6cb"/>
<rect x="400.28" y="531.25" width="6.80" height="4.65" fill="#5aa832"/>
<rect x="407.94" y="531.25" width="6.80" height="4.65" fill="#c7c6cb"/>
<rect x="415.60" y="531.25" width="6.80" height="4.65" fill="#c7c6cb"/>
<rect x="423.26" y="531.25" width="6.80" height="4.65" fill="#c7c6cb"/>
<rect x="430.92" y="531.25" width="6.80" height="4.65" fill="#c7c6cb"/>
<rect x="438.58" y="531.25" width="6.80" height="4.65" fill="#c7c6cb"/>
<rect x="446.24" y="531.25" width="6.80" height="4.65" fill="#c7c6cb"/>
<rect x="453.90" y="531.25" width="6.80" height="4.65" fill="#c7c6cb"/>
<rect x="461.56" y="531.25" width="6.80" height="4.65" fill="#c7c6cb"/>
<rect x="469.22" y="531.25" width="6.80" height="4.65" fill="#c7c6cb"/>
<rect x="31.70" y="536.75" width="7.30" height="4.65" fill="#c7c6cb"/>
<rect x="40.12" y="536.75" width="7.30" height="4.65" fill="#c7c6cb"/>
<rect x="48.54" y="536.75" width="7.30" height="4.65" fill="#c7c6cb"/>
<rect x="56.96" y="536.75" width="7.30" height="4.65" fill="#c7c6cb"/>
<rect x="65.38" y="536.75" width="7.30" height="4.65" fill="#c7c6cb"/>
<rect x="73.80" y="536.75" width="7.30" height="4.65" fill="#a8002a"/>
<rect x="82.22" y="536.75" width="7.30" height="4.65" fill="#5aace6"/>
<rect x="90.64" y="536.75" width="7.30" height="4.65" fill="#5aace6"/>
<rect x="99.06" y="536.75" width="7.30" height="4.65" fill="#5aa832"/>
<rect x="107.48" y="536.75" width="7.30" height="4.65" fill="#c7c6cb"/>
<rect x="115.90" y="536.75" width="7.30" height="4.65" fill="#5aace6"/>
<rect x="124.32" y="536.75" width="7.30" height="4.65" fill="#c7c6cb"/>
<rect x="132.74" y="536.75" width="7.30" height="4.65" fill="#5aace6"/>
<rect x="141.16" y="536.75" width="7.30" height="4.65" fill="#c7c6cb"/>
<rect x="149.58" y="536.75" width="7.30" height="4.65" fill="#c7c6cb"/>
<rect x="158.00" y="536.75" width="7.30" height="4.65" fill="#c7c6cb"/>
<rect x="166.42" y="536.75" width="7.30" height="4.65" fill="#474c5e"/>
<rect x="174.84" y="536.75" width="7.30" height="4.65" fill="#c7c6cb"/>
<rect x="183.26" y="536.75" width="7.30" height="4.65" fill="#c7c6cb"/>
<rect x="191.68" y="536.75" width="7.30" height="4.65" fill="#c7c6cb"/>
<rect x="200.10" y="536.75" width="7.30" height="4.65" fill="#c7c6cb"/>
<rect x="208.52" y="536.75" width="7.30" height="4.65" fill="#c7c6cb"/>
<rect x="216.94" y="536.75" width="7.30" height="4.65" fill="#c7c6cb"/>
<rect x="225.36" y="536.75" width="7.30" height="4.65" fill="#c7c6cb"/>
<rect x="233.78" y="536.75" width="7.30" height="4.65" fill="#c7c6cb"/>
<rect x="242.20" y="536.75" width="7.30" height="4.65" fill="#c7c6cb"/>
<rect x="250.62" y="536.75" width="7.30" height="4.65" fill="#5aace6"/>
<rect x="259.04" y="536.75" width="7.30" height="4.65" fill="#c7c6cb"/>
<rect x="267.46" y="536.75" width="7.30" height="4.65" fill="#c7c6cb"/>
<rect x="275.88" y="536.75" width="7.30" height="4.65" fill="#c7c6cb"/>
<rect x="284.30" y="536.75" width="7.30" height="4.65" fill="#c7c6cb"/>
<rect x="339.00" y="536.75" width="6.80" height="4.65" fill="#c7c6cb"/>
<rect x="346.66" y="536.75" width="6.80" height="4.65" fill="#c7c6cb"/>
<rect x="354.32" y="536.75" width="6.80" height="4.65" fill="#c7c6cb"/>
<rect x="361.98" y="536.75" width="6.80" height="4.65" fill="#c7c6cb"/>
<rect x="369.64" y="536.75" width="6.80" height="4.65" fill="#c7c6cb"/>
<rect x="377.30" y="536.75" width="6.80" height="4.65" fill="#c7c6cb"/>
<rect x="384.96" y="536.75" width="6.80" height="4.65" fill="#c7c6cb"/>
<rect x="392.62" y="536.75" width="6.80" height="4.65" fill="#c7c6cb"/>
<rect x="400.28" y="536.75" width="6.80" height="4.65" fill="#c7c6cb"/>
<rect x="407.94" y="536.75" width="6.80" height="4.65" fill="#c7c6cb"/>
<rect x="415.60" y="536.75" width="6.80" height="4.65" fill="#c7c6cb"/>
<rect x="423.26" y="536.75" width="6.80" height="4.65" fill="#c7c6cb"/>
<rect x="430.92" y="536.75" width="6.80" height="4.65" fill="#c7c6cb"/>
<rect x="438.58" y="536.75" width="6.80" height="4.65" fill="#c7c6cb"/>
<rect x="446.24" y="536.75" width="6.80" height="4.65" fill="#c7c6cb"/>
<rect x="453.90" y="536.75" width="6.80" height="4.65" fill="#c7c6cb"/>
<rect x="461.56" y="536.75" width="6.80" height="4.65" fill="#c7c6cb"/>
<rect x="469.22" y="536.75" width="6.80" height="4.65" fill="#c7c6cb"/>
<rect x="31.70" y="542.25" width="7.30" height="4.65" fill="#c7c6cb"/>
<rect x="40.12" y="542.25" width="7.30" height="4.65" fill="#c7c6cb"/>
<rect x="48.54" y="542.25" width="7.30" height="4.65" fill="#c7c6cb"/>
<rect x="56.96" y="542.25" width="7.30" height="4.65" fill="#5aa832"/>
<rect x="65.38" y="542.25" width="7.30" height="4.65" fill="#5aa832"/>
<rect x="73.80" y="542.25" width="7.30" height="4.65" fill="#c7c6cb"/>
<rect x="82.22" y="542.25" width="7.30" height="4.65" fill="#474c5e"/>
<rect x="90.64" y="542.25" width="7.30" height="4.65" fill="#474c5e"/>
<rect x="99.06" y="542.25" width="7.30" height="4.65" fill="#5aace6"/>
<rect x="107.48" y="542.25" width="7.30" height="4.65" fill="#c7c6cb"/>
<rect x="115.90" y="542.25" width="7.30" height="4.65" fill="#c7c6cb"/>
<rect x="124.32" y="542.25" width="7.30" height="4.65" fill="#c7c6cb"/>
<rect x="132.74" y="542.25" width="7.30" height="4.65" fill="#c7c6cb"/>
<rect x="141.16" y="542.25" width="7.30" height="4.65" fill="#c7c6cb"/>
<rect x="149.58" y="542.25" width="7.30" height="4.65" fill="#c7c6cb"/>
<rect x="158.00" y="542.25" width="7.30" height="4.65" fill="#5aa832"/>
<rect x="166.42" y="542.25" width="7.30" height="4.65" fill="#c7c6cb"/>
<rect x="174.84" y="542.25" width="7.30" height="4.65" fill="#c7c6cb"/>
<rect x="183.26" y="542.25" width="7.30" height="4.65" fill="#5aa832"/>
<rect x="191.68" y="542.25" width="7.30" height="4.65" fill="#c7c6cb"/>
<rect x="200.10" y="542.25" width="7.30" height="4.65" fill="#c7c6cb"/>
<rect x="208.52" y="542.25" width="7.30" height="4.65" fill="#c7c6cb"/>
<rect x="216.94" y="542.25" width="7.30" height="4.65" fill="#c7c6cb"/>
<rect x="225.36" y="542.25" width="7.30" height="4.65" fill="#5aa832"/>
<rect x="233.78" y="542.25" width="7.30" height="4.65" fill="#c7c6cb"/>
<rect x="242.20" y="542.25" width="7.30" height="4.65" fill="#c7c6cb"/>
<rect x="250.62" y="542.25" width="7.30" height="4.65" fill="#c7c6cb"/>
<rect x="259.04" y="542.25" width="7.30" height="4.65" fill="#c7c6cb"/>
<rect x="267.46" y="542.25" width="7.30" height="4.65" fill="#c7c6cb"/>
<rect x="275.88" y="542.25" width="7.30" height="4.65" fill="#c7c6cb"/>
<rect x="284.30" y="542.25" width="7.30" height="4.65" fill="#c7c6cb"/>
<rect x="339.00" y="542.25" width="6.80" height="4.65" fill="#c7c6cb"/>
<rect x="346.66" y="542.25" width="6.80" height="4.65" fill="#c7c6cb"/>
<rect x="354.32" y="542.25" width="6.80" height="4.65" fill="#c7c6cb"/>
<rect x="361.98" y="542.25" width="6.80" height="4.65" fill="#c7c6cb"/>
<rect x="369.64" y="542.25" width="6.80" height="4.65" fill="#c7c6cb"/>
<rect x="377.30" y="542.25" width="6.80" height="4.65" fill="#c7c6cb"/>
<rect x="384.96" y="542.25" width="6.80" height="4.65" fill="#c7c6cb"/>
<rect x="392.62" y="542.25" width="6.80" height="4.65" fill="#c7c6cb"/>
<rect x="400.28" y="542.25" width="6.80" height="4.65" fill="#c7c6cb"/>
<rect x="407.94" y="542.25" width="6.80" height="4.65" fill="#c7c6cb"/>
<rect x="415.60" y="542.25" width="6.80" height="4.65" fill="#c7c6cb"/>
<rect x="423.26" y="542.25" width="6.80" height="4.65" fill="#c7c6cb"/>
<rect x="430.92" y="542.25" width="6.80" height="4.65" fill="#c7c6cb"/>
<rect x="438.58" y="542.25" width="6.80" height="4.65" fill="#c7c6cb"/>
<rect x="446.24" y="542.25" width="6.80" height="4.65" fill="#c7c6cb"/>
<rect x="453.90" y="542.25" width="6.80" height="4.65" fill="#c7c6cb"/>
<rect x="461.56" y="542.25" width="6.80" height="4.65" fill="#c7c6cb"/>
<rect x="469.22" y="542.25" width="6.80" height="4.65" fill="#c7c6cb"/>
<rect x="31.70" y="547.75" width="7.30" height="4.65" fill="#5aa832"/>
<rect x="40.12" y="547.75" width="7.30" height="4.65" fill="#c7c6cb"/>
<rect x="48.54" y="547.75" width="7.30" height="4.65" fill="#c7c6cb"/>
<rect x="56.96" y="547.75" width="7.30" height="4.65" fill="#ea951c"/>
<rect x="65.38" y="547.75" width="7.30" height="4.65" fill="#474c5e"/>
<rect x="73.80" y="547.75" width="7.30" height="4.65" fill="#a8002a"/>
<rect x="82.22" y="547.75" width="7.30" height="4.65" fill="#a8002a"/>
<rect x="90.64" y="547.75" width="7.30" height="4.65" fill="#5aa832"/>
<rect x="99.06" y="547.75" width="7.30" height="4.65" fill="#c7c6cb"/>
<rect x="107.48" y="547.75" width="7.30" height="4.65" fill="#c7c6cb"/>
<rect x="115.90" y="547.75" width="7.30" height="4.65" fill="#a8002a"/>
<rect x="124.32" y="547.75" width="7.30" height="4.65" fill="#c7c6cb"/>
<rect x="132.74" y="547.75" width="7.30" height="4.65" fill="#c7c6cb"/>
<rect x="141.16" y="547.75" width="7.30" height="4.65" fill="#c7c6cb"/>
<rect x="149.58" y="547.75" width="7.30" height="4.65" fill="#c7c6cb"/>
<rect x="158.00" y="547.75" width="7.30" height="4.65" fill="#c7c6cb"/>
<rect x="166.42" y="547.75" width="7.30" height="4.65" fill="#c7c6cb"/>
<rect x="174.84" y="547.75" width="7.30" height="4.65" fill="#c7c6cb"/>
<rect x="183.26" y="547.75" width="7.30" height="4.65" fill="#a8002a"/>
<rect x="191.68" y="547.75" width="7.30" height="4.65" fill="#c7c6cb"/>
<rect x="200.10" y="547.75" width="7.30" height="4.65" fill="#c7c6cb"/>
<rect x="208.52" y="547.75" width="7.30" height="4.65" fill="#c7c6cb"/>
<rect x="216.94" y="547.75" width="7.30" height="4.65" fill="#5aa832"/>
<rect x="225.36" y="547.75" width="7.30" height="4.65" fill="#c7c6cb"/>
<rect x="233.78" y="547.75" width="7.30" height="4.65" fill="#c7c6cb"/>
<rect x="242.20" y="547.75" width="7.30" height="4.65" fill="#c7c6cb"/>
<rect x="250.62" y="547.75" width="7.30" height="4.65" fill="#c7c6cb"/>
<rect x="259.04" y="547.75" width="7.30" height="4.65" fill="#c7c6cb"/>
<rect x="267.46" y="547.75" width="7.30" height="4.65" fill="#c7c6cb"/>
<rect x="275.88" y="547.75" width="7.30" height="4.65" fill="#c7c6cb"/>
<rect x="284.30" y="547.75" width="7.30" height="4.65" fill="#c7c6cb"/>
<rect x="339.00" y="547.75" width="6.80" height="4.65" fill="#c7c6cb"/>
<rect x="346.66" y="547.75" width="6.80" height="4.65" fill="#c7c6cb"/>
<rect x="354.32" y="547.75" width="6.80" height="4.65" fill="#c7c6cb"/>
<rect x="361.98" y="547.75" width="6.80" height="4.65" fill="#c7c6cb"/>
<rect x="369.64" y="547.75" width="6.80" height="4.65" fill="#c7c6cb"/>
<rect x="377.30" y="547.75" width="6.80" height="4.65" fill="#c7c6cb"/>
<rect x="384.96" y="547.75" width="6.80" height="4.65" fill="#c7c6cb"/>
<rect x="392.62" y="547.75" width="6.80" height="4.65" fill="#c7c6cb"/>
<rect x="400.28" y="547.75" width="6.80" height="4.65" fill="#a8002a"/>
<rect x="407.94" y="547.75" width="6.80" height="4.65" fill="#c7c6cb"/>
<rect x="415.60" y="547.75" width="6.80" height="4.65" fill="#c7c6cb"/>
<rect x="423.26" y="547.75" width="6.80" height="4.65" fill="#c7c6cb"/>
<rect x="430.92" y="547.75" width="6.80" height="4.65" fill="#c7c6cb"/>
<rect x="438.58" y="547.75" width="6.80" height="4.65" fill="#c7c6cb"/>
<rect x="446.24" y="547.75" width="6.80" height="4.65" fill="#c7c6cb"/>
<rect x="453.90" y="547.75" width="6.80" height="4.65" fill="#c7c6cb"/>
<rect x="461.56" y="547.75" width="6.80" height="4.65" fill="#c7c6cb"/>
<rect x="469.22" y="547.75" width="6.80" height="4.65" fill="#c7c6cb"/>
<rect x="31.70" y="553.25" width="7.30" height="4.65" fill="#c7c6cb"/>
<rect x="40.12" y="553.25" width="7.30" height="4.65" fill="#c7c6cb"/>
<rect x="48.54" y="553.25" width="7.30" height="4.65" fill="#a8002a"/>
<rect x="56.96" y="553.25" width="7.30" height="4.65" fill="#5aa832"/>
<rect x="65.38" y="553.25" width="7.30" height="4.65" fill="#474c5e"/>
<rect x="73.80" y="553.25" width="7.30" height="4.65" fill="#c7c6cb"/>
<rect x="82.22" y="553.25" width="7.30" height="4.65" fill="#5aa832"/>
<rect x="90.64" y="553.25" width="7.30" height="4.65" fill="#c7c6cb"/>
<rect x="99.06" y="553.25" width="7.30" height="4.65" fill="#c7c6cb"/>
<rect x="107.48" y="553.25" width="7.30" height="4.65" fill="#c7c6cb"/>
<rect x="115.90" y="553.25" width="7.30" height="4.65" fill="#c7c6cb"/>
<rect x="124.32" y="553.25" width="7.30" height="4.65" fill="#c7c6cb"/>
<rect x="132.74" y="553.25" width="7.30" height="4.65" fill="#474c5e"/>
<rect x="141.16" y="553.25" width="7.30" height="4.65" fill="#c7c6cb"/>
<rect x="149.58" y="553.25" width="7.30" height="4.65" fill="#c7c6cb"/>
<rect x="158.00" y="553.25" width="7.30" height="4.65" fill="#c7c6cb"/>
<rect x="166.42" y="553.25" width="7.30" height="4.65" fill="#c7c6cb"/>
<rect x="174.84" y="553.25" width="7.30" height="4.65" fill="#c7c6cb"/>
<rect x="183.26" y="553.25" width="7.30" height="4.65" fill="#5aa832"/>
<rect x="191.68" y="553.25" width="7.30" height="4.65" fill="#c7c6cb"/>
<rect x="200.10" y="553.25" width="7.30" height="4.65" fill="#c7c6cb"/>
<rect x="208.52" y="553.25" width="7.30" height="4.65" fill="#c7c6cb"/>
<rect x="216.94" y="553.25" width="7.30" height="4.65" fill="#c7c6cb"/>
<rect x="225.36" y="553.25" width="7.30" height="4.65" fill="#c7c6cb"/>
<rect x="233.78" y="553.25" width="7.30" height="4.65" fill="#5aa832"/>
<rect x="242.20" y="553.25" width="7.30" height="4.65" fill="#c7c6cb"/>
<rect x="250.62" y="553.25" width="7.30" height="4.65" fill="#c7c6cb"/>
<rect x="259.04" y="553.25" width="7.30" height="4.65" fill="#c7c6cb"/>
<rect x="267.46" y="553.25" width="7.30" height="4.65" fill="#c7c6cb"/>
<rect x="275.88" y="553.25" width="7.30" height="4.65" fill="#c7c6cb"/>
<rect x="284.30" y="553.25" width="7.30" height="4.65" fill="#c7c6cb"/>
<rect x="339.00" y="553.25" width="6.80" height="4.65" fill="#c7c6cb"/>
<rect x="346.66" y="553.25" width="6.80" height="4.65" fill="#c7c6cb"/>
<rect x="354.32" y="553.25" width="6.80" height="4.65" fill="#c7c6cb"/>
<rect x="361.98" y="553.25" width="6.80" height="4.65" fill="#c7c6cb"/>
<rect x="369.64" y="553.25" width="6.80" height="4.65" fill="#c7c6cb"/>
<rect x="377.30" y="553.25" width="6.80" height="4.65" fill="#c7c6cb"/>
<rect x="384.96" y="553.25" width="6.80" height="4.65" fill="#c7c6cb"/>
<rect x="392.62" y="553.25" width="6.80" height="4.65" fill="#c7c6cb"/>
<rect x="400.28" y="553.25" width="6.80" height="4.65" fill="#c7c6cb"/>
<rect x="407.94" y="553.25" width="6.80" height="4.65" fill="#c7c6cb"/>
<rect x="415.60" y="553.25" width="6.80" height="4.65" fill="#c7c6cb"/>
<rect x="423.26" y="553.25" width="6.80" height="4.65" fill="#c7c6cb"/>
<rect x="430.92" y="553.25" width="6.80" height="4.65" fill="#c7c6cb"/>
<rect x="438.58" y="553.25" width="6.80" height="4.65" fill="#c7c6cb"/>
<rect x="446.24" y="553.25" width="6.80" height="4.65" fill="#c7c6cb"/>
<rect x="453.90" y="553.25" width="6.80" height="4.65" fill="#c7c6cb"/>
<rect x="461.56" y="553.25" width="6.80" height="4.65" fill="#c7c6cb"/>
<rect x="469.22" y="553.25" width="6.80" height="4.65" fill="#c7c6cb"/>
<rect x="31.70" y="558.75" width="7.30" height="4.65" fill="#5aa832"/>
<rect x="40.12" y="558.75" width="7.30" height="4.65" fill="#5aa832"/>
<rect x="48.54" y="558.75" width="7.30" height="4.65" fill="#c7c6cb"/>
<rect x="56.96" y="558.75" width="7.30" height="4.65" fill="#5aa832"/>
<rect x="65.38" y="558.75" width="7.30" height="4.65" fill="#c7c6cb"/>
<rect x="73.80" y="558.75" width="7.30" height="4.65" fill="#c7c6cb"/>
<rect x="82.22" y="558.75" width="7.30" height="4.65" fill="#c7c6cb"/>
<rect x="90.64" y="558.75" width="7.30" height="4.65" fill="#c7c6cb"/>
<rect x="99.06" y="558.75" width="7.30" height="4.65" fill="#c7c6cb"/>
<rect x="107.48" y="558.75" width="7.30" height="4.65" fill="#c7c6cb"/>
<rect x="115.90" y="558.75" width="7.30" height="4.65" fill="#c7c6cb"/>
<rect x="124.32" y="558.75" width="7.30" height="4.65" fill="#c7c6cb"/>
<rect x="132.74" y="558.75" width="7.30" height="4.65" fill="#5aa832"/>
<rect x="141.16" y="558.75" width="7.30" height="4.65" fill="#c7c6cb"/>
<rect x="149.58" y="558.75" width="7.30" height="4.65" fill="#c7c6cb"/>
<rect x="158.00" y="558.75" width="7.30" height="4.65" fill="#c7c6cb"/>
<rect x="166.42" y="558.75" width="7.30" height="4.65" fill="#c7c6cb"/>
<rect x="174.84" y="558.75" width="7.30" height="4.65" fill="#c7c6cb"/>
<rect x="183.26" y="558.75" width="7.30" height="4.65" fill="#5aa832"/>
<rect x="191.68" y="558.75" width="7.30" height="4.65" fill="#5aa832"/>
<rect x="200.10" y="558.75" width="7.30" height="4.65" fill="#c7c6cb"/>
<rect x="208.52" y="558.75" width="7.30" height="4.65" fill="#c7c6cb"/>
<rect x="216.94" y="558.75" width="7.30" height="4.65" fill="#5aa832"/>
<rect x="225.36" y="558.75" width="7.30" height="4.65" fill="#c7c6cb"/>
<rect x="233.78" y="558.75" width="7.30" height="4.65" fill="#c7c6cb"/>
<rect x="242.20" y="558.75" width="7.30" height="4.65" fill="#c7c6cb"/>
<rect x="250.62" y="558.75" width="7.30" height="4.65" fill="#c7c6cb"/>
<rect x="259.04" y="558.75" width="7.30" height="4.65" fill="#c7c6cb"/>
<rect x="267.46" y="558.75" width="7.30" height="4.65" fill="#c7c6cb"/>
<rect x="275.88" y="558.75" width="7.30" height="4.65" fill="#c7c6cb"/>
<rect x="284.30" y="558.75" width="7.30" height="4.65" fill="#c7c6cb"/>
<rect x="339.00" y="558.75" width="6.80" height="4.65" fill="#c7c6cb"/>
<rect x="346.66" y="558.75" width="6.80" height="4.65" fill="#5aa832"/>
<rect x="354.32" y="558.75" width="6.80" height="4.65" fill="#c7c6cb"/>
<rect x="361.98" y="558.75" width="6.80" height="4.65" fill="#c7c6cb"/>
<rect x="369.64" y="558.75" width="6.80" height="4.65" fill="#c7c6cb"/>
<rect x="377.30" y="558.75" width="6.80" height="4.65" fill="#c7c6cb"/>
<rect x="384.96" y="558.75" width="6.80" height="4.65" fill="#c7c6cb"/>
<rect x="392.62" y="558.75" width="6.80" height="4.65" fill="#c7c6cb"/>
<rect x="400.28" y="558.75" width="6.80" height="4.65" fill="#c7c6cb"/>
<rect x="407.94" y="558.75" width="6.80" height="4.65" fill="#c7c6cb"/>
<rect x="415.60" y="558.75" width="6.80" height="4.65" fill="#c7c6cb"/>
<rect x="423.26" y="558.75" width="6.80" height="4.65" fill="#c7c6cb"/>
<rect x="430.92" y="558.75" width="6.80" height="4.65" fill="#c7c6cb"/>
<rect x="438.58" y="558.75" width="6.80" height="4.65" fill="#c7c6cb"/>
<rect x="446.24" y="558.75" width="6.80" height="4.65" fill="#c7c6cb"/>
<rect x="453.90" y="558.75" width="6.80" height="4.65" fill="#c7c6cb"/>
<rect x="461.56" y="558.75" width="6.80" height="4.65" fill="#c7c6cb"/>
<rect x="469.22" y="558.75" width="6.80" height="4.65" fill="#c7c6cb"/>
<rect x="31.70" y="564.25" width="7.30" height="4.65" fill="#c7c6cb"/>
<rect x="40.12" y="564.25" width="7.30" height="4.65" fill="#a8002a"/>
<rect x="48.54" y="564.25" width="7.30" height="4.65" fill="#c7c6cb"/>
<rect x="56.96" y="564.25" width="7.30" height="4.65" fill="#c7c6cb"/>
<rect x="65.38" y="564.25" width="7.30" height="4.65" fill="#c7c6cb"/>
<rect x="73.80" y="564.25" width="7.30" height="4.65" fill="#c7c6cb"/>
<rect x="82.22" y="564.25" width="7.30" height="4.65" fill="#5aa832"/>
<rect x="90.64" y="564.25" width="7.30" height="4.65" fill="#c7c6cb"/>
<rect x="99.06" y="564.25" width="7.30" height="4.65" fill="#5aa832"/>
<rect x="107.48" y="564.25" width="7.30" height="4.65" fill="#5aa832"/>
<rect x="115.90" y="564.25" width="7.30" height="4.65" fill="#a8002a"/>
<rect x="124.32" y="564.25" width="7.30" height="4.65" fill="#c7c6cb"/>
<rect x="132.74" y="564.25" width="7.30" height="4.65" fill="#5aa832"/>
<rect x="141.16" y="564.25" width="7.30" height="4.65" fill="#c7c6cb"/>
<rect x="149.58" y="564.25" width="7.30" height="4.65" fill="#c7c6cb"/>
<rect x="158.00" y="564.25" width="7.30" height="4.65" fill="#c7c6cb"/>
<rect x="166.42" y="564.25" width="7.30" height="4.65" fill="#c7c6cb"/>
<rect x="174.84" y="564.25" width="7.30" height="4.65" fill="#c7c6cb"/>
<rect x="183.26" y="564.25" width="7.30" height="4.65" fill="#c7c6cb"/>
<rect x="191.68" y="564.25" width="7.30" height="4.65" fill="#c7c6cb"/>
<rect x="200.10" y="564.25" width="7.30" height="4.65" fill="#c7c6cb"/>
<rect x="208.52" y="564.25" width="7.30" height="4.65" fill="#c7c6cb"/>
<rect x="216.94" y="564.25" width="7.30" height="4.65" fill="#c7c6cb"/>
<rect x="225.36" y="564.25" width="7.30" height="4.65" fill="#c7c6cb"/>
<rect x="233.78" y="564.25" width="7.30" height="4.65" fill="#c7c6cb"/>
<rect x="242.20" y="564.25" width="7.30" height="4.65" fill="#c7c6cb"/>
<rect x="250.62" y="564.25" width="7.30" height="4.65" fill="#c7c6cb"/>
<rect x="259.04" y="564.25" width="7.30" height="4.65" fill="#c7c6cb"/>
<rect x="267.46" y="564.25" width="7.30" height="4.65" fill="#c7c6cb"/>
<rect x="275.88" y="564.25" width="7.30" height="4.65" fill="#c7c6cb"/>
<rect x="284.30" y="564.25" width="7.30" height="4.65" fill="#c7c6cb"/>
<rect x="339.00" y="564.25" width="6.80" height="4.65" fill="#c7c6cb"/>
<rect x="346.66" y="564.25" width="6.80" height="4.65" fill="#c7c6cb"/>
<rect x="354.32" y="564.25" width="6.80" height="4.65" fill="#c7c6cb"/>
<rect x="361.98" y="564.25" width="6.80" height="4.65" fill="#c7c6cb"/>
<rect x="369.64" y="564.25" width="6.80" height="4.65" fill="#c7c6cb"/>
<rect x="377.30" y="564.25" width="6.80" height="4.65" fill="#c7c6cb"/>
<rect x="384.96" y="564.25" width="6.80" height="4.65" fill="#c7c6cb"/>
<rect x="392.62" y="564.25" width="6.80" height="4.65" fill="#c7c6cb"/>
<rect x="400.28" y="564.25" width="6.80" height="4.65" fill="#c7c6cb"/>
<rect x="407.94" y="564.25" width="6.80" height="4.65" fill="#a8002a"/>
<rect x="415.60" y="564.25" width="6.80" height="4.65" fill="#c7c6cb"/>
<rect x="423.26" y="564.25" width="6.80" height="4.65" fill="#c7c6cb"/>
<rect x="430.92" y="564.25" width="6.80" height="4.65" fill="#c7c6cb"/>
<rect x="438.58" y="564.25" width="6.80" height="4.65" fill="#c7c6cb"/>
<rect x="446.24" y="564.25" width="6.80" height="4.65" fill="#c7c6cb"/>
<rect x="453.90" y="564.25" width="6.80" height="4.65" fill="#c7c6cb"/>
<rect x="461.56" y="564.25" width="6.80" height="4.65" fill="#c7c6cb"/>
<rect x="469.22" y="564.25" width="6.80" height="4.65" fill="#c7c6cb"/>
<rect x="31.70" y="569.75" width="7.30" height="4.65" fill="#c7c6cb"/>
<rect x="40.12" y="569.75" width="7.30" height="4.65" fill="#c7c6cb"/>
<rect x="48.54" y="569.75" width="7.30" height="4.65" fill="#c7c6cb"/>
<rect x="56.96" y="569.75" width="7.30" height="4.65" fill="#c7c6cb"/>
<rect x="65.38" y="569.75" width="7.30" height="4.65" fill="#c7c6cb"/>
<rect x="73.80" y="569.75" width="7.30" height="4.65" fill="#c7c6cb"/>
<rect x="82.22" y="569.75" width="7.30" height="4.65" fill="#5aa832"/>
<rect x="90.64" y="569.75" width="7.30" height="4.65" fill="#c7c6cb"/>
<rect x="99.06" y="569.75" width="7.30" height="4.65" fill="#5aa832"/>
<rect x="107.48" y="569.75" width="7.30" height="4.65" fill="#c7c6cb"/>
<rect x="115.90" y="569.75" width="7.30" height="4.65" fill="#c7c6cb"/>
<rect x="124.32" y="569.75" width="7.30" height="4.65" fill="#c7c6cb"/>
<rect x="132.74" y="569.75" width="7.30" height="4.65" fill="#c7c6cb"/>
<rect x="141.16" y="569.75" width="7.30" height="4.65" fill="#c7c6cb"/>
<rect x="149.58" y="569.75" width="7.30" height="4.65" fill="#c7c6cb"/>
<rect x="158.00" y="569.75" width="7.30" height="4.65" fill="#5aa832"/>
<rect x="166.42" y="569.75" width="7.30" height="4.65" fill="#c7c6cb"/>
<rect x="174.84" y="569.75" width="7.30" height="4.65" fill="#c7c6cb"/>
<rect x="183.26" y="569.75" width="7.30" height="4.65" fill="#c7c6cb"/>
<rect x="191.68" y="569.75" width="7.30" height="4.65" fill="#c7c6cb"/>
<rect x="200.10" y="569.75" width="7.30" height="4.65" fill="#5aa832"/>
<rect x="208.52" y="569.75" width="7.30" height="4.65" fill="#c7c6cb"/>
<rect x="216.94" y="569.75" width="7.30" height="4.65" fill="#c7c6cb"/>
<rect x="225.36" y="569.75" width="7.30" height="4.65" fill="#5aa832"/>
<rect x="233.78" y="569.75" width="7.30" height="4.65" fill="#c7c6cb"/>
<rect x="242.20" y="569.75" width="7.30" height="4.65" fill="#c7c6cb"/>
<rect x="250.62" y="569.75" width="7.30" height="4.65" fill="#c7c6cb"/>
<rect x="259.04" y="569.75" width="7.30" height="4.65" fill="#c7c6cb"/>
<rect x="267.46" y="569.75" width="7.30" height="4.65" fill="#c7c6cb"/>
<rect x="275.88" y="569.75" width="7.30" height="4.65" fill="#c7c6cb"/>
<rect x="284.30" y="569.75" width="7.30" height="4.65" fill="#c7c6cb"/>
<rect x="339.00" y="569.75" width="6.80" height="4.65" fill="#c7c6cb"/>
<rect x="346.66" y="569.75" width="6.80" height="4.65" fill="#c7c6cb"/>
<rect x="354.32" y="569.75" width="6.80" height="4.65" fill="#c7c6cb"/>
<rect x="361.98" y="569.75" width="6.80" height="4.65" fill="#c7c6cb"/>
<rect x="369.64" y="569.75" width="6.80" height="4.65" fill="#c7c6cb"/>
<rect x="377.30" y="569.75" width="6.80" height="4.65" fill="#c7c6cb"/>
<rect x="384.96" y="569.75" width="6.80" height="4.65" fill="#c7c6cb"/>
<rect x="392.62" y="569.75" width="6.80" height="4.65" fill="#c7c6cb"/>
<rect x="400.28" y="569.75" width="6.80" height="4.65" fill="#c7c6cb"/>
<rect x="407.94" y="569.75" width="6.80" height="4.65" fill="#c7c6cb"/>
<rect x="415.60" y="569.75" width="6.80" height="4.65" fill="#c7c6cb"/>
<rect x="423.26" y="569.75" width="6.80" height="4.65" fill="#c7c6cb"/>
<rect x="430.92" y="569.75" width="6.80" height="4.65" fill="#c7c6cb"/>
<rect x="438.58" y="569.75" width="6.80" height="4.65" fill="#c7c6cb"/>
<rect x="446.24" y="569.75" width="6.80" height="4.65" fill="#c7c6cb"/>
<rect x="453.90" y="569.75" width="6.80" height="4.65" fill="#c7c6cb"/>
<rect x="461.56" y="569.75" width="6.80" height="4.65" fill="#c7c6cb"/>
<rect x="469.22" y="569.75" width="6.80" height="4.65" fill="#c7c6cb"/>
<rect x="31.70" y="575.25" width="7.30" height="4.65" fill="#a8002a"/>
<rect x="40.12" y="575.25" width="7.30" height="4.65" fill="#5aace6"/>
<rect x="48.54" y="575.25" width="7.30" height="4.65" fill="#c7c6cb"/>
<rect x="56.96" y="575.25" width="7.30" height="4.65" fill="#c7c6cb"/>
<rect x="65.38" y="575.25" width="7.30" height="4.65" fill="#5aace6"/>
<rect x="73.80" y="575.25" width="7.30" height="4.65" fill="#c7c6cb"/>
<rect x="82.22" y="575.25" width="7.30" height="4.65" fill="#c7c6cb"/>
<rect x="90.64" y="575.25" width="7.30" height="4.65" fill="#c7c6cb"/>
<rect x="99.06" y="575.25" width="7.30" height="4.65" fill="#c7c6cb"/>
<rect x="107.48" y="575.25" width="7.30" height="4.65" fill="#c7c6cb"/>
<rect x="115.90" y="575.25" width="7.30" height="4.65" fill="#c7c6cb"/>
<rect x="124.32" y="575.25" width="7.30" height="4.65" fill="#c7c6cb"/>
<rect x="132.74" y="575.25" width="7.30" height="4.65" fill="#a8002a"/>
<rect x="141.16" y="575.25" width="7.30" height="4.65" fill="#c7c6cb"/>
<rect x="149.58" y="575.25" width="7.30" height="4.65" fill="#5aace6"/>
<rect x="158.00" y="575.25" width="7.30" height="4.65" fill="#c7c6cb"/>
<rect x="166.42" y="575.25" width="7.30" height="4.65" fill="#c7c6cb"/>
<rect x="174.84" y="575.25" width="7.30" height="4.65" fill="#c7c6cb"/>
<rect x="183.26" y="575.25" width="7.30" height="4.65" fill="#474c5e"/>
<rect x="191.68" y="575.25" width="7.30" height="4.65" fill="#c7c6cb"/>
<rect x="200.10" y="575.25" width="7.30" height="4.65" fill="#c7c6cb"/>
<rect x="208.52" y="575.25" width="7.30" height="4.65" fill="#c7c6cb"/>
<rect x="216.94" y="575.25" width="7.30" height="4.65" fill="#c7c6cb"/>
<rect x="225.36" y="575.25" width="7.30" height="4.65" fill="#c7c6cb"/>
<rect x="233.78" y="575.25" width="7.30" height="4.65" fill="#c7c6cb"/>
<rect x="242.20" y="575.25" width="7.30" height="4.65" fill="#c7c6cb"/>
<rect x="250.62" y="575.25" width="7.30" height="4.65" fill="#c7c6cb"/>
<rect x="259.04" y="575.25" width="7.30" height="4.65" fill="#c7c6cb"/>
<rect x="267.46" y="575.25" width="7.30" height="4.65" fill="#c7c6cb"/>
<rect x="275.88" y="575.25" width="7.30" height="4.65" fill="#c7c6cb"/>
<rect x="284.30" y="575.25" width="7.30" height="4.65" fill="#c7c6cb"/>
<rect x="339.00" y="575.25" width="6.80" height="4.65" fill="#c7c6cb"/>
<rect x="346.66" y="575.25" width="6.80" height="4.65" fill="#5aa832"/>
<rect x="354.32" y="575.25" width="6.80" height="4.65" fill="#c7c6cb"/>
<rect x="361.98" y="575.25" width="6.80" height="4.65" fill="#c7c6cb"/>
<rect x="369.64" y="575.25" width="6.80" height="4.65" fill="#c7c6cb"/>
<rect x="377.30" y="575.25" width="6.80" height="4.65" fill="#c7c6cb"/>
<rect x="384.96" y="575.25" width="6.80" height="4.65" fill="#c7c6cb"/>
<rect x="392.62" y="575.25" width="6.80" height="4.65" fill="#c7c6cb"/>
<rect x="400.28" y="575.25" width="6.80" height="4.65" fill="#c7c6cb"/>
<rect x="407.94" y="575.25" width="6.80" height="4.65" fill="#c7c6cb"/>
<rect x="415.60" y="575.25" width="6.80" height="4.65" fill="#c7c6cb"/>
<rect x="423.26" y="575.25" width="6.80" height="4.65" fill="#c7c6cb"/>
<rect x="430.92" y="575.25" width="6.80" height="4.65" fill="#c7c6cb"/>
<rect x="438.58" y="575.25" width="6.80" height="4.65" fill="#c7c6cb"/>
<rect x="446.24" y="575.25" width="6.80" height="4.65" fill="#c7c6cb"/>
<rect x="453.90" y="575.25" width="6.80" height="4.65" fill="#c7c6cb"/>
<rect x="461.56" y="575.25" width="6.80" height="4.65" fill="#c7c6cb"/>
<rect x="469.22" y="575.25" width="6.80" height="4.65" fill="#c7c6cb"/>
<rect x="31.70" y="580.75" width="7.30" height="4.65" fill="#c7c6cb"/>
<rect x="40.12" y="580.75" width="7.30" height="4.65" fill="#c7c6cb"/>
<rect x="48.54" y="580.75" width="7.30" height="4.65" fill="#c7c6cb"/>
<rect x="56.96" y="580.75" width="7.30" height="4.65" fill="#5aa832"/>
<rect x="65.38" y="580.75" width="7.30" height="4.65" fill="#474c5e"/>
<rect x="73.80" y="580.75" width="7.30" height="4.65" fill="#c7c6cb"/>
<rect x="82.22" y="580.75" width="7.30" height="4.65" fill="#c7c6cb"/>
<rect x="90.64" y="580.75" width="7.30" height="4.65" fill="#c7c6cb"/>
<rect x="99.06" y="580.75" width="7.30" height="4.65" fill="#5aa832"/>
<rect x="107.48" y="580.75" width="7.30" height="4.65" fill="#c7c6cb"/>
<rect x="115.90" y="580.75" width="7.30" height="4.65" fill="#c7c6cb"/>
<rect x="124.32" y="580.75" width="7.30" height="4.65" fill="#c7c6cb"/>
<rect x="132.74" y="580.75" width="7.30" height="4.65" fill="#c7c6cb"/>
<rect x="141.16" y="580.75" width="7.30" height="4.65" fill="#c7c6cb"/>
<rect x="149.58" y="580.75" width="7.30" height="4.65" fill="#c7c6cb"/>
<rect x="158.00" y="580.75" width="7.30" height="4.65" fill="#c7c6cb"/>
<rect x="166.42" y="580.75" width="7.30" height="4.65" fill="#c7c6cb"/>
<rect x="174.84" y="580.75" width="7.30" height="4.65" fill="#c7c6cb"/>
<rect x="183.26" y="580.75" width="7.30" height="4.65" fill="#c7c6cb"/>
<rect x="191.68" y="580.75" width="7.30" height="4.65" fill="#c7c6cb"/>
<rect x="200.10" y="580.75" width="7.30" height="4.65" fill="#c7c6cb"/>
<rect x="208.52" y="580.75" width="7.30" height="4.65" fill="#c7c6cb"/>
<rect x="216.94" y="580.75" width="7.30" height="4.65" fill="#c7c6cb"/>
<rect x="225.36" y="580.75" width="7.30" height="4.65" fill="#c7c6cb"/>
<rect x="233.78" y="580.75" width="7.30" height="4.65" fill="#5aa832"/>
<rect x="242.20" y="580.75" width="7.30" height="4.65" fill="#c7c6cb"/>
<rect x="250.62" y="580.75" width="7.30" height="4.65" fill="#c7c6cb"/>
<rect x="259.04" y="580.75" width="7.30" height="4.65" fill="#5aa832"/>
<rect x="267.46" y="580.75" width="7.30" height="4.65" fill="#c7c6cb"/>
<rect x="275.88" y="580.75" width="7.30" height="4.65" fill="#c7c6cb"/>
<rect x="284.30" y="580.75" width="7.30" height="4.65" fill="#c7c6cb"/>
<rect x="339.00" y="580.75" width="6.80" height="4.65" fill="#5aa832"/>
<rect x="346.66" y="580.75" width="6.80" height="4.65" fill="#c7c6cb"/>
<rect x="354.32" y="580.75" width="6.80" height="4.65" fill="#c7c6cb"/>
<rect x="361.98" y="580.75" width="6.80" height="4.65" fill="#c7c6cb"/>
<rect x="369.64" y="580.75" width="6.80" height="4.65" fill="#c7c6cb"/>
<rect x="377.30" y="580.75" width="6.80" height="4.65" fill="#c7c6cb"/>
<rect x="384.96" y="580.75" width="6.80" height="4.65" fill="#c7c6cb"/>
<rect x="392.62" y="580.75" width="6.80" height="4.65" fill="#c7c6cb"/>
<rect x="400.28" y="580.75" width="6.80" height="4.65" fill="#c7c6cb"/>
<rect x="407.94" y="580.75" width="6.80" height="4.65" fill="#c7c6cb"/>
<rect x="415.60" y="580.75" width="6.80" height="4.65" fill="#c7c6cb"/>
<rect x="423.26" y="580.75" width="6.80" height="4.65" fill="#c7c6cb"/>
<rect x="430.92" y="580.75" width="6.80" height="4.65" fill="#c7c6cb"/>
<rect x="438.58" y="580.75" width="6.80" height="4.65" fill="#c7c6cb"/>
<rect x="446.24" y="580.75" width="6.80" height="4.65" fill="#c7c6cb"/>
<rect x="453.90" y="580.75" width="6.80" height="4.65" fill="#c7c6cb"/>
<rect x="461.56" y="580.75" width="6.80" height="4.65" fill="#c7c6cb"/>
<rect x="469.22" y="580.75" width="6.80" height="4.65" fill="#c7c6cb"/>
<rect x="31.70" y="586.25" width="7.30" height="4.65" fill="#c7c6cb"/>
<rect x="40.12" y="586.25" width="7.30" height="4.65" fill="#c7c6cb"/>
<rect x="48.54" y="586.25" width="7.30" height="4.65" fill="#c7c6cb"/>
<rect x="56.96" y="586.25" width="7.30" height="4.65" fill="#5aa832"/>
<rect x="65.38" y="586.25" width="7.30" height="4.65" fill="#c7c6cb"/>
<rect x="73.80" y="586.25" width="7.30" height="4.65" fill="#c7c6cb"/>
<rect x="82.22" y="586.25" width="7.30" height="4.65" fill="#5aa832"/>
<rect x="90.64" y="586.25" width="7.30" height="4.65" fill="#c7c6cb"/>
<rect x="99.06" y="586.25" width="7.30" height="4.65" fill="#c7c6cb"/>
<rect x="107.48" y="586.25" width="7.30" height="4.65" fill="#5aa832"/>
<rect x="115.90" y="586.25" width="7.30" height="4.65" fill="#5aa832"/>
<rect x="124.32" y="586.25" width="7.30" height="4.65" fill="#c7c6cb"/>
<rect x="132.74" y="586.25" width="7.30" height="4.65" fill="#c7c6cb"/>
<rect x="141.16" y="586.25" width="7.30" height="4.65" fill="#c7c6cb"/>
<rect x="149.58" y="586.25" width="7.30" height="4.65" fill="#c7c6cb"/>
<rect x="158.00" y="586.25" width="7.30" height="4.65" fill="#c7c6cb"/>
<rect x="166.42" y="586.25" width="7.30" height="4.65" fill="#5aa832"/>
<rect x="174.84" y="586.25" width="7.30" height="4.65" fill="#c7c6cb"/>
<rect x="183.26" y="586.25" width="7.30" height="4.65" fill="#c7c6cb"/>
<rect x="191.68" y="586.25" width="7.30" height="4.65" fill="#c7c6cb"/>
<rect x="200.10" y="586.25" width="7.30" height="4.65" fill="#c7c6cb"/>
<rect x="208.52" y="586.25" width="7.30" height="4.65" fill="#c7c6cb"/>
<rect x="216.94" y="586.25" width="7.30" height="4.65" fill="#c7c6cb"/>
<rect x="225.36" y="586.25" width="7.30" height="4.65" fill="#c7c6cb"/>
<rect x="233.78" y="586.25" width="7.30" height="4.65" fill="#c7c6cb"/>
<rect x="242.20" y="586.25" width="7.30" height="4.65" fill="#c7c6cb"/>
<rect x="250.62" y="586.25" width="7.30" height="4.65" fill="#c7c6cb"/>
<rect x="259.04" y="586.25" width="7.30" height="4.65" fill="#c7c6cb"/>
<rect x="267.46" y="586.25" width="7.30" height="4.65" fill="#c7c6cb"/>
<rect x="275.88" y="586.25" width="7.30" height="4.65" fill="#c7c6cb"/>
<rect x="284.30" y="586.25" width="7.30" height="4.65" fill="#c7c6cb"/>
<rect x="339.00" y="586.25" width="6.80" height="4.65" fill="#c7c6cb"/>
<rect x="346.66" y="586.25" width="6.80" height="4.65" fill="#c7c6cb"/>
<rect x="354.32" y="586.25" width="6.80" height="4.65" fill="#c7c6cb"/>
<rect x="361.98" y="586.25" width="6.80" height="4.65" fill="#c7c6cb"/>
<rect x="369.64" y="586.25" width="6.80" height="4.65" fill="#5aa832"/>
<rect x="377.30" y="586.25" width="6.80" height="4.65" fill="#c7c6cb"/>
<rect x="384.96" y="586.25" width="6.80" height="4.65" fill="#c7c6cb"/>
<rect x="392.62" y="586.25" width="6.80" height="4.65" fill="#c7c6cb"/>
<rect x="400.28" y="586.25" width="6.80" height="4.65" fill="#5aa832"/>
<rect x="407.94" y="586.25" width="6.80" height="4.65" fill="#c7c6cb"/>
<rect x="415.60" y="586.25" width="6.80" height="4.65" fill="#c7c6cb"/>
<rect x="423.26" y="586.25" width="6.80" height="4.65" fill="#c7c6cb"/>
<rect x="430.92" y="586.25" width="6.80" height="4.65" fill="#c7c6cb"/>
<rect x="438.58" y="586.25" width="6.80" height="4.65" fill="#c7c6cb"/>
<rect x="446.24" y="586.25" width="6.80" height="4.65" fill="#c7c6cb"/>
<rect x="453.90" y="586.25" width="6.80" height="4.65" fill="#c7c6cb"/>
<rect x="461.56" y="586.25" width="6.80" height="4.65" fill="#c7c6cb"/>
<rect x="469.22" y="586.25" width="6.80" height="4.65" fill="#c7c6cb"/>
<rect x="31.70" y="591.75" width="7.30" height="4.65" fill="#c7c6cb"/>
<rect x="40.12" y="591.75" width="7.30" height="4.65" fill="#c7c6cb"/>
<rect x="48.54" y="591.75" width="7.30" height="4.65" fill="#c7c6cb"/>
<rect x="56.96" y="591.75" width="7.30" height="4.65" fill="#c7c6cb"/>
<rect x="65.38" y="591.75" width="7.30" height="4.65" fill="#c7c6cb"/>
<rect x="73.80" y="591.75" width="7.30" height="4.65" fill="#c7c6cb"/>
<rect x="82.22" y="591.75" width="7.30" height="4.65" fill="#5aa832"/>
<rect x="90.64" y="591.75" width="7.30" height="4.65" fill="#c7c6cb"/>
<rect x="99.06" y="591.75" width="7.30" height="4.65" fill="#c7c6cb"/>
<rect x="107.48" y="591.75" width="7.30" height="4.65" fill="#c7c6cb"/>
<rect x="115.90" y="591.75" width="7.30" height="4.65" fill="#5aa832"/>
<rect x="124.32" y="591.75" width="7.30" height="4.65" fill="#c7c6cb"/>
<rect x="132.74" y="591.75" width="7.30" height="4.65" fill="#c7c6cb"/>
<rect x="141.16" y="591.75" width="7.30" height="4.65" fill="#c7c6cb"/>
<rect x="149.58" y="591.75" width="7.30" height="4.65" fill="#c7c6cb"/>
<rect x="158.00" y="591.75" width="7.30" height="4.65" fill="#5aa832"/>
<rect x="166.42" y="591.75" width="7.30" height="4.65" fill="#c7c6cb"/>
<rect x="174.84" y="591.75" width="7.30" height="4.65" fill="#c7c6cb"/>
<rect x="183.26" y="591.75" width="7.30" height="4.65" fill="#5aa832"/>
<rect x="191.68" y="591.75" width="7.30" height="4.65" fill="#c7c6cb"/>
<rect x="200.10" y="591.75" width="7.30" height="4.65" fill="#c7c6cb"/>
<rect x="208.52" y="591.75" width="7.30" height="4.65" fill="#c7c6cb"/>
<rect x="216.94" y="591.75" width="7.30" height="4.65" fill="#c7c6cb"/>
<rect x="225.36" y="591.75" width="7.30" height="4.65" fill="#c7c6cb"/>
<rect x="233.78" y="591.75" width="7.30" height="4.65" fill="#c7c6cb"/>
<rect x="242.20" y="591.75" width="7.30" height="4.65" fill="#c7c6cb"/>
<rect x="250.62" y="591.75" width="7.30" height="4.65" fill="#c7c6cb"/>
<rect x="259.04" y="591.75" width="7.30" height="4.65" fill="#c7c6cb"/>
<rect x="267.46" y="591.75" width="7.30" height="4.65" fill="#c7c6cb"/>
<rect x="275.88" y="591.75" width="7.30" height="4.65" fill="#c7c6cb"/>
<rect x="284.30" y="591.75" width="7.30" height="4.65" fill="#c7c6cb"/>
<rect x="339.00" y="591.75" width="6.80" height="4.65" fill="#c7c6cb"/>
<rect x="346.66" y="591.75" width="6.80" height="4.65" fill="#c7c6cb"/>
<rect x="354.32" y="591.75" width="6.80" height="4.65" fill="#c7c6cb"/>
<rect x="361.98" y="591.75" width="6.80" height="4.65" fill="#c7c6cb"/>
<rect x="369.64" y="591.75" width="6.80" height="4.65" fill="#c7c6cb"/>
<rect x="377.30" y="591.75" width="6.80" height="4.65" fill="#c7c6cb"/>
<rect x="384.96" y="591.75" width="6.80" height="4.65" fill="#c7c6cb"/>
<rect x="392.62" y="591.75" width="6.80" height="4.65" fill="#c7c6cb"/>
<rect x="400.28" y="591.75" width="6.80" height="4.65" fill="#c7c6cb"/>
<rect x="407.94" y="591.75" width="6.80" height="4.65" fill="#c7c6cb"/>
<rect x="415.60" y="591.75" width="6.80" height="4.65" fill="#c7c6cb"/>
<rect x="423.26" y="591.75" width="6.80" height="4.65" fill="#c7c6cb"/>
<rect x="430.92" y="591.75" width="6.80" height="4.65" fill="#c7c6cb"/>
<rect x="438.58" y="591.75" width="6.80" height="4.65" fill="#c7c6cb"/>
<rect x="446.24" y="591.75" width="6.80" height="4.65" fill="#c7c6cb"/>
<rect x="453.90" y="591.75" width="6.80" height="4.65" fill="#c7c6cb"/>
<rect x="461.56" y="591.75" width="6.80" height="4.65" fill="#c7c6cb"/>
<rect x="469.22" y="591.75" width="6.80" height="4.65" fill="#c7c6cb"/>
<rect x="31.70" y="597.25" width="7.30" height="4.65" fill="#c7c6cb"/>
<rect x="40.12" y="597.25" width="7.30" height="4.65" fill="#c7c6cb"/>
<rect x="48.54" y="597.25" width="7.30" height="4.65" fill="#c7c6cb"/>
<rect x="56.96" y="597.25" width="7.30" height="4.65" fill="#c7c6cb"/>
<rect x="65.38" y="597.25" width="7.30" height="4.65" fill="#c7c6cb"/>
<rect x="73.80" y="597.25" width="7.30" height="4.65" fill="#c7c6cb"/>
<rect x="82.22" y="597.25" width="7.30" height="4.65" fill="#c7c6cb"/>
<rect x="90.64" y="597.25" width="7.30" height="4.65" fill="#c7c6cb"/>
<rect x="99.06" y="597.25" width="7.30" height="4.65" fill="#c7c6cb"/>
<rect x="107.48" y="597.25" width="7.30" height="4.65" fill="#c7c6cb"/>
<rect x="115.90" y="597.25" width="7.30" height="4.65" fill="#c7c6cb"/>
<rect x="124.32" y="597.25" width="7.30" height="4.65" fill="#c7c6cb"/>
<rect x="132.74" y="597.25" width="7.30" height="4.65" fill="#c7c6cb"/>
<rect x="141.16" y="597.25" width="7.30" height="4.65" fill="#c7c6cb"/>
<rect x="149.58" y="597.25" width="7.30" height="4.65" fill="#a8002a"/>
<rect x="158.00" y="597.25" width="7.30" height="4.65" fill="#c7c6cb"/>
<rect x="166.42" y="597.25" width="7.30" height="4.65" fill="#c7c6cb"/>
<rect x="174.84" y="597.25" width="7.30" height="4.65" fill="#c7c6cb"/>
<rect x="183.26" y="597.25" width="7.30" height="4.65" fill="#c7c6cb"/>
<rect x="191.68" y="597.25" width="7.30" height="4.65" fill="#c7c6cb"/>
<rect x="200.10" y="597.25" width="7.30" height="4.65" fill="#5aa832"/>
<rect x="208.52" y="597.25" width="7.30" height="4.65" fill="#c7c6cb"/>
<rect x="216.94" y="597.25" width="7.30" height="4.65" fill="#c7c6cb"/>
<rect x="225.36" y="597.25" width="7.30" height="4.65" fill="#c7c6cb"/>
<rect x="233.78" y="597.25" width="7.30" height="4.65" fill="#c7c6cb"/>
<rect x="242.20" y="597.25" width="7.30" height="4.65" fill="#c7c6cb"/>
<rect x="250.62" y="597.25" width="7.30" height="4.65" fill="#c7c6cb"/>
<rect x="259.04" y="597.25" width="7.30" height="4.65" fill="#c7c6cb"/>
<rect x="267.46" y="597.25" width="7.30" height="4.65" fill="#5aa832"/>
<rect x="275.88" y="597.25" width="7.30" height="4.65" fill="#5aa832"/>
<rect x="284.30" y="597.25" width="7.30" height="4.65" fill="#c7c6cb"/>
<rect x="339.00" y="597.25" width="6.80" height="4.65" fill="#c7c6cb"/>
<rect x="346.66" y="597.25" width="6.80" height="4.65" fill="#c7c6cb"/>
<rect x="354.32" y="597.25" width="6.80" height="4.65" fill="#c7c6cb"/>
<rect x="361.98" y="597.25" width="6.80" height="4.65" fill="#c7c6cb"/>
<rect x="369.64" y="597.25" width="6.80" height="4.65" fill="#c7c6cb"/>
<rect x="377.30" y="597.25" width="6.80" height="4.65" fill="#c7c6cb"/>
<rect x="384.96" y="597.25" width="6.80" height="4.65" fill="#c7c6cb"/>
<rect x="392.62" y="597.25" width="6.80" height="4.65" fill="#c7c6cb"/>
<rect x="400.28" y="597.25" width="6.80" height="4.65" fill="#c7c6cb"/>
<rect x="407.94" y="597.25" width="6.80" height="4.65" fill="#c7c6cb"/>
<rect x="415.60" y="597.25" width="6.80" height="4.65" fill="#c7c6cb"/>
<rect x="423.26" y="597.25" width="6.80" height="4.65" fill="#c7c6cb"/>
<rect x="430.92" y="597.25" width="6.80" height="4.65" fill="#c7c6cb"/>
<rect x="438.58" y="597.25" width="6.80" height="4.65" fill="#c7c6cb"/>
<rect x="446.24" y="597.25" width="6.80" height="4.65" fill="#c7c6cb"/>
<rect x="453.90" y="597.25" width="6.80" height="4.65" fill="#c7c6cb"/>
<rect x="461.56" y="597.25" width="6.80" height="4.65" fill="#c7c6cb"/>
<rect x="469.22" y="597.25" width="6.80" height="4.65" fill="#c7c6cb"/>
<rect x="31.70" y="602.75" width="7.30" height="4.65" fill="#c7c6cb"/>
<rect x="40.12" y="602.75" width="7.30" height="4.65" fill="#c7c6cb"/>
<rect x="48.54" y="602.75" width="7.30" height="4.65" fill="#c7c6cb"/>
<rect x="56.96" y="602.75" width="7.30" height="4.65" fill="#c7c6cb"/>
<rect x="65.38" y="602.75" width="7.30" height="4.65" fill="#c7c6cb"/>
<rect x="73.80" y="602.75" width="7.30" height="4.65" fill="#c7c6cb"/>
<rect x="82.22" y="602.75" width="7.30" height="4.65" fill="#c7c6cb"/>
<rect x="90.64" y="602.75" width="7.30" height="4.65" fill="#5aa832"/>
<rect x="99.06" y="602.75" width="7.30" height="4.65" fill="#c7c6cb"/>
<rect x="107.48" y="602.75" width="7.30" height="4.65" fill="#c7c6cb"/>
<rect x="115.90" y="602.75" width="7.30" height="4.65" fill="#c7c6cb"/>
<rect x="124.32" y="602.75" width="7.30" height="4.65" fill="#c7c6cb"/>
<rect x="132.74" y="602.75" width="7.30" height="4.65" fill="#c7c6cb"/>
<rect x="141.16" y="602.75" width="7.30" height="4.65" fill="#c7c6cb"/>
<rect x="149.58" y="602.75" width="7.30" height="4.65" fill="#c7c6cb"/>
<rect x="158.00" y="602.75" width="7.30" height="4.65" fill="#c7c6cb"/>
<rect x="166.42" y="602.75" width="7.30" height="4.65" fill="#c7c6cb"/>
<rect x="174.84" y="602.75" width="7.30" height="4.65" fill="#c7c6cb"/>
<rect x="183.26" y="602.75" width="7.30" height="4.65" fill="#c7c6cb"/>
<rect x="191.68" y="602.75" width="7.30" height="4.65" fill="#c7c6cb"/>
<rect x="200.10" y="602.75" width="7.30" height="4.65" fill="#5aace6"/>
<rect x="208.52" y="602.75" width="7.30" height="4.65" fill="#c7c6cb"/>
<rect x="216.94" y="602.75" width="7.30" height="4.65" fill="#c7c6cb"/>
<rect x="225.36" y="602.75" width="7.30" height="4.65" fill="#c7c6cb"/>
<rect x="233.78" y="602.75" width="7.30" height="4.65" fill="#5aa832"/>
<rect x="242.20" y="602.75" width="7.30" height="4.65" fill="#5aa832"/>
<rect x="250.62" y="602.75" width="7.30" height="4.65" fill="#c7c6cb"/>
<rect x="259.04" y="602.75" width="7.30" height="4.65" fill="#c7c6cb"/>
<rect x="267.46" y="602.75" width="7.30" height="4.65" fill="#c7c6cb"/>
<rect x="275.88" y="602.75" width="7.30" height="4.65" fill="#c7c6cb"/>
<rect x="284.30" y="602.75" width="7.30" height="4.65" fill="#c7c6cb"/>
<rect x="339.00" y="602.75" width="6.80" height="4.65" fill="#c7c6cb"/>
<rect x="346.66" y="602.75" width="6.80" height="4.65" fill="#c7c6cb"/>
<rect x="354.32" y="602.75" width="6.80" height="4.65" fill="#c7c6cb"/>
<rect x="361.98" y="602.75" width="6.80" height="4.65" fill="#c7c6cb"/>
<rect x="369.64" y="602.75" width="6.80" height="4.65" fill="#c7c6cb"/>
<rect x="377.30" y="602.75" width="6.80" height="4.65" fill="#c7c6cb"/>
<rect x="384.96" y="602.75" width="6.80" height="4.65" fill="#c7c6cb"/>
<rect x="392.62" y="602.75" width="6.80" height="4.65" fill="#c7c6cb"/>
<rect x="400.28" y="602.75" width="6.80" height="4.65" fill="#c7c6cb"/>
<rect x="407.94" y="602.75" width="6.80" height="4.65" fill="#c7c6cb"/>
<rect x="415.60" y="602.75" width="6.80" height="4.65" fill="#c7c6cb"/>
<rect x="423.26" y="602.75" width="6.80" height="4.65" fill="#c7c6cb"/>
<rect x="430.92" y="602.75" width="6.80" height="4.65" fill="#c7c6cb"/>
<rect x="438.58" y="602.75" width="6.80" height="4.65" fill="#c7c6cb"/>
<rect x="446.24" y="602.75" width="6.80" height="4.65" fill="#c7c6cb"/>
<rect x="453.90" y="602.75" width="6.80" height="4.65" fill="#c7c6cb"/>
<rect x="461.56" y="602.75" width="6.80" height="4.65" fill="#c7c6cb"/>
<rect x="469.22" y="602.75" width="6.80" height="4.65" fill="#c7c6cb"/>
<rect x="31.70" y="608.25" width="7.30" height="4.65" fill="#5aa832"/>
<rect x="40.12" y="608.25" width="7.30" height="4.65" fill="#c7c6cb"/>
<rect x="48.54" y="608.25" width="7.30" height="4.65" fill="#5aace6"/>
<rect x="56.96" y="608.25" width="7.30" height="4.65" fill="#5aa832"/>
<rect x="65.38" y="608.25" width="7.30" height="4.65" fill="#5aa832"/>
<rect x="73.80" y="608.25" width="7.30" height="4.65" fill="#c7c6cb"/>
<rect x="82.22" y="608.25" width="7.30" height="4.65" fill="#474c5e"/>
<rect x="90.64" y="608.25" width="7.30" height="4.65" fill="#c7c6cb"/>
<rect x="99.06" y="608.25" width="7.30" height="4.65" fill="#c7c6cb"/>
<rect x="107.48" y="608.25" width="7.30" height="4.65" fill="#c7c6cb"/>
<rect x="115.90" y="608.25" width="7.30" height="4.65" fill="#c7c6cb"/>
<rect x="124.32" y="608.25" width="7.30" height="4.65" fill="#c7c6cb"/>
<rect x="132.74" y="608.25" width="7.30" height="4.65" fill="#c7c6cb"/>
<rect x="141.16" y="608.25" width="7.30" height="4.65" fill="#c7c6cb"/>
<rect x="149.58" y="608.25" width="7.30" height="4.65" fill="#c7c6cb"/>
<rect x="158.00" y="608.25" width="7.30" height="4.65" fill="#c7c6cb"/>
<rect x="166.42" y="608.25" width="7.30" height="4.65" fill="#c7c6cb"/>
<rect x="174.84" y="608.25" width="7.30" height="4.65" fill="#c7c6cb"/>
<rect x="183.26" y="608.25" width="7.30" height="4.65" fill="#c7c6cb"/>
<rect x="191.68" y="608.25" width="7.30" height="4.65" fill="#c7c6cb"/>
<rect x="200.10" y="608.25" width="7.30" height="4.65" fill="#c7c6cb"/>
<rect x="208.52" y="608.25" width="7.30" height="4.65" fill="#c7c6cb"/>
<rect x="216.94" y="608.25" width="7.30" height="4.65" fill="#c7c6cb"/>
<rect x="225.36" y="608.25" width="7.30" height="4.65" fill="#c7c6cb"/>
<rect x="233.78" y="608.25" width="7.30" height="4.65" fill="#c7c6cb"/>
<rect x="242.20" y="608.25" width="7.30" height="4.65" fill="#c7c6cb"/>
<rect x="250.62" y="608.25" width="7.30" height="4.65" fill="#c7c6cb"/>
<rect x="259.04" y="608.25" width="7.30" height="4.65" fill="#c7c6cb"/>
<rect x="267.46" y="608.25" width="7.30" height="4.65" fill="#c7c6cb"/>
<rect x="275.88" y="608.25" width="7.30" height="4.65" fill="#c7c6cb"/>
<rect x="284.30" y="608.25" width="7.30" height="4.65" fill="#c7c6cb"/>
<rect x="339.00" y="608.25" width="6.80" height="4.65" fill="#c7c6cb"/>
<rect x="346.66" y="608.25" width="6.80" height="4.65" fill="#c7c6cb"/>
<rect x="354.32" y="608.25" width="6.80" height="4.65" fill="#c7c6cb"/>
<rect x="361.98" y="608.25" width="6.80" height="4.65" fill="#c7c6cb"/>
<rect x="369.64" y="608.25" width="6.80" height="4.65" fill="#c7c6cb"/>
<rect x="377.30" y="608.25" width="6.80" height="4.65" fill="#c7c6cb"/>
<rect x="384.96" y="608.25" width="6.80" height="4.65" fill="#c7c6cb"/>
<rect x="392.62" y="608.25" width="6.80" height="4.65" fill="#c7c6cb"/>
<rect x="400.28" y="608.25" width="6.80" height="4.65" fill="#c7c6cb"/>
<rect x="407.94" y="608.25" width="6.80" height="4.65" fill="#c7c6cb"/>
<rect x="415.60" y="608.25" width="6.80" height="4.65" fill="#c7c6cb"/>
<rect x="423.26" y="608.25" width="6.80" height="4.65" fill="#c7c6cb"/>
<rect x="430.92" y="608.25" width="6.80" height="4.65" fill="#c7c6cb"/>
<rect x="438.58" y="608.25" width="6.80" height="4.65" fill="#c7c6cb"/>
<rect x="446.24" y="608.25" width="6.80" height="4.65" fill="#c7c6cb"/>
<rect x="453.90" y="608.25" width="6.80" height="4.65" fill="#c7c6cb"/>
<rect x="461.56" y="608.25" width="6.80" height="4.65" fill="#c7c6cb"/>
<rect x="469.22" y="608.25" width="6.80" height="4.65" fill="#c7c6cb"/>
<rect x="31.70" y="613.75" width="7.30" height="4.65" fill="#c7c6cb"/>
<rect x="40.12" y="613.75" width="7.30" height="4.65" fill="#c7c6cb"/>
<rect x="48.54" y="613.75" width="7.30" height="4.65" fill="#c7c6cb"/>
<rect x="56.96" y="613.75" width="7.30" height="4.65" fill="#5aa832"/>
<rect x="65.38" y="613.75" width="7.30" height="4.65" fill="#c7c6cb"/>
<rect x="73.80" y="613.75" width="7.30" height="4.65" fill="#c7c6cb"/>
<rect x="82.22" y="613.75" width="7.30" height="4.65" fill="#c7c6cb"/>
<rect x="90.64" y="613.75" width="7.30" height="4.65" fill="#5aa832"/>
<rect x="99.06" y="613.75" width="7.30" height="4.65" fill="#5aa832"/>
<rect x="107.48" y="613.75" width="7.30" height="4.65" fill="#5aace6"/>
<rect x="115.90" y="613.75" width="7.30" height="4.65" fill="#c7c6cb"/>
<rect x="124.32" y="613.75" width="7.30" height="4.65" fill="#c7c6cb"/>
<rect x="132.74" y="613.75" width="7.30" height="4.65" fill="#c7c6cb"/>
<rect x="141.16" y="613.75" width="7.30" height="4.65" fill="#c7c6cb"/>
<rect x="149.58" y="613.75" width="7.30" height="4.65" fill="#c7c6cb"/>
<rect x="158.00" y="613.75" width="7.30" height="4.65" fill="#c7c6cb"/>
<rect x="166.42" y="613.75" width="7.30" height="4.65" fill="#c7c6cb"/>
<rect x="174.84" y="613.75" width="7.30" height="4.65" fill="#c7c6cb"/>
<rect x="183.26" y="613.75" width="7.30" height="4.65" fill="#c7c6cb"/>
<rect x="191.68" y="613.75" width="7.30" height="4.65" fill="#c7c6cb"/>
<rect x="200.10" y="613.75" width="7.30" height="4.65" fill="#c7c6cb"/>
<rect x="208.52" y="613.75" width="7.30" height="4.65" fill="#c7c6cb"/>
<rect x="216.94" y="613.75" width="7.30" height="4.65" fill="#c7c6cb"/>
<rect x="225.36" y="613.75" width="7.30" height="4.65" fill="#c7c6cb"/>
<rect x="233.78" y="613.75" width="7.30" height="4.65" fill="#c7c6cb"/>
<rect x="242.20" y="613.75" width="7.30" height="4.65" fill="#c7c6cb"/>
<rect x="250.62" y="613.75" width="7.30" height="4.65" fill="#c7c6cb"/>
<rect x="259.04" y="613.75" width="7.30" height="4.65" fill="#c7c6cb"/>
<rect x="267.46" y="613.75" width="7.30" height="4.65" fill="#c7c6cb"/>
<rect x="275.88" y="613.75" width="7.30" height="4.65" fill="#c7c6cb"/>
<rect x="284.30" y="613.75" width="7.30" height="4.65" fill="#c7c6cb"/>
<rect x="339.00" y="613.75" width="6.80" height="4.65" fill="#c7c6cb"/>
<rect x="346.66" y="613.75" width="6.80" height="4.65" fill="#c7c6cb"/>
<rect x="354.32" y="613.75" width="6.80" height="4.65" fill="#c7c6cb"/>
<rect x="361.98" y="613.75" width="6.80" height="4.65" fill="#c7c6cb"/>
<rect x="369.64" y="613.75" width="6.80" height="4.65" fill="#c7c6cb"/>
<rect x="377.30" y="613.75" width="6.80" height="4.65" fill="#c7c6cb"/>
<rect x="384.96" y="613.75" width="6.80" height="4.65" fill="#c7c6cb"/>
<rect x="392.62" y="613.75" width="6.80" height="4.65" fill="#c7c6cb"/>
<rect x="400.28" y="613.75" width="6.80" height="4.65" fill="#c7c6cb"/>
<rect x="407.94" y="613.75" width="6.80" height="4.65" fill="#c7c6cb"/>
<rect x="415.60" y="613.75" width="6.80" height="4.65" fill="#c7c6cb"/>
<rect x="423.26" y="613.75" width="6.80" height="4.65" fill="#c7c6cb"/>
<rect x="430.92" y="613.75" width="6.80" height="4.65" fill="#c7c6cb"/>
<rect x="438.58" y="613.75" width="6.80" height="4.65" fill="#c7c6cb"/>
<rect x="446.24" y="613.75" width="6.80" height="4.65" fill="#c7c6cb"/>
<rect x="453.90" y="613.75" width="6.80" height="4.65" fill="#c7c6cb"/>
<rect x="461.56" y="613.75" width="6.80" height="4.65" fill="#c7c6cb"/>
<rect x="469.22" y="613.75" width="6.80" height="4.65" fill="#c7c6cb"/>
<rect x="31.70" y="619.25" width="7.30" height="4.65" fill="#c7c6cb"/>
<rect x="40.12" y="619.25" width="7.30" height="4.65" fill="#5aa832"/>
<rect x="48.54" y="619.25" width="7.30" height="4.65" fill="#c7c6cb"/>
<rect x="56.96" y="619.25" width="7.30" height="4.65" fill="#c7c6cb"/>
<rect x="65.38" y="619.25" width="7.30" height="4.65" fill="#5aa832"/>
<rect x="73.80" y="619.25" width="7.30" height="4.65" fill="#c7c6cb"/>
<rect x="82.22" y="619.25" width="7.30" height="4.65" fill="#c7c6cb"/>
<rect x="90.64" y="619.25" width="7.30" height="4.65" fill="#c7c6cb"/>
<rect x="99.06" y="619.25" width="7.30" height="4.65" fill="#c7c6cb"/>
<rect x="107.48" y="619.25" width="7.30" height="4.65" fill="#c7c6cb"/>
<rect x="115.90" y="619.25" width="7.30" height="4.65" fill="#c7c6cb"/>
<rect x="124.32" y="619.25" width="7.30" height="4.65" fill="#c7c6cb"/>
<rect x="132.74" y="619.25" width="7.30" height="4.65" fill="#c7c6cb"/>
<rect x="141.16" y="619.25" width="7.30" height="4.65" fill="#c7c6cb"/>
<rect x="149.58" y="619.25" width="7.30" height="4.65" fill="#5aa832"/>
<rect x="158.00" y="619.25" width="7.30" height="4.65" fill="#c7c6cb"/>
<rect x="166.42" y="619.25" width="7.30" height="4.65" fill="#c7c6cb"/>
<rect x="174.84" y="619.25" width="7.30" height="4.65" fill="#c7c6cb"/>
<rect x="183.26" y="619.25" width="7.30" height="4.65" fill="#c7c6cb"/>
<rect x="191.68" y="619.25" width="7.30" height="4.65" fill="#c7c6cb"/>
<rect x="200.10" y="619.25" width="7.30" height="4.65" fill="#c7c6cb"/>
<rect x="208.52" y="619.25" width="7.30" height="4.65" fill="#c7c6cb"/>
<rect x="216.94" y="619.25" width="7.30" height="4.65" fill="#c7c6cb"/>
<rect x="225.36" y="619.25" width="7.30" height="4.65" fill="#5aa832"/>
<rect x="233.78" y="619.25" width="7.30" height="4.65" fill="#c7c6cb"/>
<rect x="242.20" y="619.25" width="7.30" height="4.65" fill="#c7c6cb"/>
<rect x="250.62" y="619.25" width="7.30" height="4.65" fill="#c7c6cb"/>
<rect x="259.04" y="619.25" width="7.30" height="4.65" fill="#c7c6cb"/>
<rect x="267.46" y="619.25" width="7.30" height="4.65" fill="#c7c6cb"/>
<rect x="275.88" y="619.25" width="7.30" height="4.65" fill="#c7c6cb"/>
<rect x="284.30" y="619.25" width="7.30" height="4.65" fill="#c7c6cb"/>
<rect x="339.00" y="619.25" width="6.80" height="4.65" fill="#c7c6cb"/>
<rect x="346.66" y="619.25" width="6.80" height="4.65" fill="#c7c6cb"/>
<rect x="354.32" y="619.25" width="6.80" height="4.65" fill="#c7c6cb"/>
<rect x="361.98" y="619.25" width="6.80" height="4.65" fill="#c7c6cb"/>
<rect x="369.64" y="619.25" width="6.80" height="4.65" fill="#c7c6cb"/>
<rect x="377.30" y="619.25" width="6.80" height="4.65" fill="#c7c6cb"/>
<rect x="384.96" y="619.25" width="6.80" height="4.65" fill="#c7c6cb"/>
<rect x="392.62" y="619.25" width="6.80" height="4.65" fill="#c7c6cb"/>
<rect x="400.28" y="619.25" width="6.80" height="4.65" fill="#c7c6cb"/>
<rect x="407.94" y="619.25" width="6.80" height="4.65" fill="#c7c6cb"/>
<rect x="415.60" y="619.25" width="6.80" height="4.65" fill="#c7c6cb"/>
<rect x="423.26" y="619.25" width="6.80" height="4.65" fill="#c7c6cb"/>
<rect x="430.92" y="619.25" width="6.80" height="4.65" fill="#c7c6cb"/>
<rect x="438.58" y="619.25" width="6.80" height="4.65" fill="#c7c6cb"/>
<rect x="446.24" y="619.25" width="6.80" height="4.65" fill="#c7c6cb"/>
<rect x="453.90" y="619.25" width="6.80" height="4.65" fill="#c7c6cb"/>
<rect x="461.56" y="619.25" width="6.80" height="4.65" fill="#c7c6cb"/>
<rect x="469.22" y="619.25" width="6.80" height="4.65" fill="#c7c6cb"/>
<rect x="31.70" y="624.75" width="7.30" height="4.65" fill="#c7c6cb"/>
<rect x="40.12" y="624.75" width="7.30" height="4.65" fill="#c7c6cb"/>
<rect x="48.54" y="624.75" width="7.30" height="4.65" fill="#c7c6cb"/>
<rect x="56.96" y="624.75" width="7.30" height="4.65" fill="#c7c6cb"/>
<rect x="65.38" y="624.75" width="7.30" height="4.65" fill="#c7c6cb"/>
<rect x="73.80" y="624.75" width="7.30" height="4.65" fill="#c7c6cb"/>
<rect x="82.22" y="624.75" width="7.30" height="4.65" fill="#c7c6cb"/>
<rect x="90.64" y="624.75" width="7.30" height="4.65" fill="#c7c6cb"/>
<rect x="99.06" y="624.75" width="7.30" height="4.65" fill="#5aace6"/>
<rect x="107.48" y="624.75" width="7.30" height="4.65" fill="#c7c6cb"/>
<rect x="115.90" y="624.75" width="7.30" height="4.65" fill="#c7c6cb"/>
<rect x="124.32" y="624.75" width="7.30" height="4.65" fill="#c7c6cb"/>
<rect x="132.74" y="624.75" width="7.30" height="4.65" fill="#5aa832"/>
<rect x="141.16" y="624.75" width="7.30" height="4.65" fill="#c7c6cb"/>
<rect x="149.58" y="624.75" width="7.30" height="4.65" fill="#c7c6cb"/>
<rect x="158.00" y="624.75" width="7.30" height="4.65" fill="#c7c6cb"/>
<rect x="166.42" y="624.75" width="7.30" height="4.65" fill="#c7c6cb"/>
<rect x="174.84" y="624.75" width="7.30" height="4.65" fill="#a8002a"/>
<rect x="183.26" y="624.75" width="7.30" height="4.65" fill="#c7c6cb"/>
<rect x="191.68" y="624.75" width="7.30" height="4.65" fill="#c7c6cb"/>
<rect x="200.10" y="624.75" width="7.30" height="4.65" fill="#c7c6cb"/>
<rect x="208.52" y="624.75" width="7.30" height="4.65" fill="#c7c6cb"/>
<rect x="216.94" y="624.75" width="7.30" height="4.65" fill="#a8002a"/>
<rect x="225.36" y="624.75" width="7.30" height="4.65" fill="#c7c6cb"/>
<rect x="233.78" y="624.75" width="7.30" height="4.65" fill="#c7c6cb"/>
<rect x="242.20" y="624.75" width="7.30" height="4.65" fill="#c7c6cb"/>
<rect x="250.62" y="624.75" width="7.30" height="4.65" fill="#c7c6cb"/>
<rect x="259.04" y="624.75" width="7.30" height="4.65" fill="#c7c6cb"/>
<rect x="267.46" y="624.75" width="7.30" height="4.65" fill="#c7c6cb"/>
<rect x="275.88" y="624.75" width="7.30" height="4.65" fill="#c7c6cb"/>
<rect x="284.30" y="624.75" width="7.30" height="4.65" fill="#c7c6cb"/>
<rect x="339.00" y="624.75" width="6.80" height="4.65" fill="#c7c6cb"/>
<rect x="346.66" y="624.75" width="6.80" height="4.65" fill="#c7c6cb"/>
<rect x="354.32" y="624.75" width="6.80" height="4.65" fill="#c7c6cb"/>
<rect x="361.98" y="624.75" width="6.80" height="4.65" fill="#c7c6cb"/>
<rect x="369.64" y="624.75" width="6.80" height="4.65" fill="#c7c6cb"/>
<rect x="377.30" y="624.75" width="6.80" height="4.65" fill="#c7c6cb"/>
<rect x="384.96" y="624.75" width="6.80" height="4.65" fill="#c7c6cb"/>
<rect x="392.62" y="624.75" width="6.80" height="4.65" fill="#c7c6cb"/>
<rect x="400.28" y="624.75" width="6.80" height="4.65" fill="#c7c6cb"/>
<rect x="407.94" y="624.75" width="6.80" height="4.65" fill="#c7c6cb"/>
<rect x="415.60" y="624.75" width="6.80" height="4.65" fill="#c7c6cb"/>
<rect x="423.26" y="624.75" width="6.80" height="4.65" fill="#c7c6cb"/>
<rect x="430.92" y="624.75" width="6.80" height="4.65" fill="#c7c6cb"/>
<rect x="438.58" y="624.75" width="6.80" height="4.65" fill="#c7c6cb"/>
<rect x="446.24" y="624.75" width="6.80" height="4.65" fill="#c7c6cb"/>
<rect x="453.90" y="624.75" width="6.80" height="4.65" fill="#c7c6cb"/>
<rect x="461.56" y="624.75" width="6.80" height="4.65" fill="#c7c6cb"/>
<rect x="469.22" y="624.75" width="6.80" height="4.65" fill="#c7c6cb"/>
<rect x="31.70" y="630.25" width="7.30" height="4.65" fill="#c7c6cb"/>
<rect x="40.12" y="630.25" width="7.30" height="4.65" fill="#c7c6cb"/>
<rect x="48.54" y="630.25" width="7.30" height="4.65" fill="#c7c6cb"/>
<rect x="56.96" y="630.25" width="7.30" height="4.65" fill="#c7c6cb"/>
<rect x="65.38" y="630.25" width="7.30" height="4.65" fill="#5aa832"/>
<rect x="73.80" y="630.25" width="7.30" height="4.65" fill="#c7c6cb"/>
<rect x="82.22" y="630.25" width="7.30" height="4.65" fill="#5aace6"/>
<rect x="90.64" y="630.25" width="7.30" height="4.65" fill="#c7c6cb"/>
<rect x="99.06" y="630.25" width="7.30" height="4.65" fill="#c7c6cb"/>
<rect x="107.48" y="630.25" width="7.30" height="4.65" fill="#c7c6cb"/>
<rect x="115.90" y="630.25" width="7.30" height="4.65" fill="#c7c6cb"/>
<rect x="124.32" y="630.25" width="7.30" height="4.65" fill="#c7c6cb"/>
<rect x="132.74" y="630.25" width="7.30" height="4.65" fill="#5aa832"/>
<rect x="141.16" y="630.25" width="7.30" height="4.65" fill="#c7c6cb"/>
<rect x="149.58" y="630.25" width="7.30" height="4.65" fill="#c7c6cb"/>
<rect x="158.00" y="630.25" width="7.30" height="4.65" fill="#c7c6cb"/>
<rect x="166.42" y="630.25" width="7.30" height="4.65" fill="#c7c6cb"/>
<rect x="174.84" y="630.25" width="7.30" height="4.65" fill="#c7c6cb"/>
<rect x="183.26" y="630.25" width="7.30" height="4.65" fill="#474c5e"/>
<rect x="191.68" y="630.25" width="7.30" height="4.65" fill="#c7c6cb"/>
<rect x="200.10" y="630.25" width="7.30" height="4.65" fill="#c7c6cb"/>
<rect x="208.52" y="630.25" width="7.30" height="4.65" fill="#c7c6cb"/>
<rect x="216.94" y="630.25" width="7.30" height="4.65" fill="#c7c6cb"/>
<rect x="225.36" y="630.25" width="7.30" height="4.65" fill="#c7c6cb"/>
<rect x="233.78" y="630.25" width="7.30" height="4.65" fill="#c7c6cb"/>
<rect x="242.20" y="630.25" width="7.30" height="4.65" fill="#c7c6cb"/>
<rect x="250.62" y="630.25" width="7.30" height="4.65" fill="#c7c6cb"/>
<rect x="259.04" y="630.25" width="7.30" height="4.65" fill="#c7c6cb"/>
<rect x="267.46" y="630.25" width="7.30" height="4.65" fill="#c7c6cb"/>
<rect x="275.88" y="630.25" width="7.30" height="4.65" fill="#c7c6cb"/>
<rect x="284.30" y="630.25" width="7.30" height="4.65" fill="#c7c6cb"/>
<rect x="339.00" y="630.25" width="6.80" height="4.65" fill="#c7c6cb"/>
<rect x="346.66" y="630.25" width="6.80" height="4.65" fill="#c7c6cb"/>
<rect x="354.32" y="630.25" width="6.80" height="4.65" fill="#c7c6cb"/>
<rect x="361.98" y="630.25" width="6.80" height="4.65" fill="#c7c6cb"/>
<rect x="369.64" y="630.25" width="6.80" height="4.65" fill="#c7c6cb"/>
<rect x="377.30" y="630.25" width="6.80" height="4.65" fill="#c7c6cb"/>
<rect x="384.96" y="630.25" width="6.80" height="4.65" fill="#c7c6cb"/>
<rect x="392.62" y="630.25" width="6.80" height="4.65" fill="#c7c6cb"/>
<rect x="400.28" y="630.25" width="6.80" height="4.65" fill="#5aa832"/>
<rect x="407.94" y="630.25" width="6.80" height="4.65" fill="#c7c6cb"/>
<rect x="415.60" y="630.25" width="6.80" height="4.65" fill="#c7c6cb"/>
<rect x="423.26" y="630.25" width="6.80" height="4.65" fill="#c7c6cb"/>
<rect x="430.92" y="630.25" width="6.80" height="4.65" fill="#c7c6cb"/>
<rect x="438.58" y="630.25" width="6.80" height="4.65" fill="#c7c6cb"/>
<rect x="446.24" y="630.25" width="6.80" height="4.65" fill="#c7c6cb"/>
<rect x="453.90" y="630.25" width="6.80" height="4.65" fill="#c7c6cb"/>
<rect x="461.56" y="630.25" width="6.80" height="4.65" fill="#c7c6cb"/>
<rect x="469.22" y="630.25" width="6.80" height="4.65" fill="#c7c6cb"/>
<rect x="31.70" y="635.75" width="7.30" height="4.65" fill="#5aa832"/>
<rect x="40.12" y="635.75" width="7.30" height="4.65" fill="#c7c6cb"/>
<rect x="48.54" y="635.75" width="7.30" height="4.65" fill="#c7c6cb"/>
<rect x="56.96" y="635.75" width="7.30" height="4.65" fill="#5aa832"/>
<rect x="65.38" y="635.75" width="7.30" height="4.65" fill="#c7c6cb"/>
<rect x="73.80" y="635.75" width="7.30" height="4.65" fill="#c7c6cb"/>
<rect x="82.22" y="635.75" width="7.30" height="4.65" fill="#c7c6cb"/>
<rect x="90.64" y="635.75" width="7.30" height="4.65" fill="#c7c6cb"/>
<rect x="99.06" y="635.75" width="7.30" height="4.65" fill="#5aa832"/>
<rect x="107.48" y="635.75" width="7.30" height="4.65" fill="#c7c6cb"/>
<rect x="115.90" y="635.75" width="7.30" height="4.65" fill="#c7c6cb"/>
<rect x="124.32" y="635.75" width="7.30" height="4.65" fill="#c7c6cb"/>
<rect x="132.74" y="635.75" width="7.30" height="4.65" fill="#c7c6cb"/>
<rect x="141.16" y="635.75" width="7.30" height="4.65" fill="#c7c6cb"/>
<rect x="149.58" y="635.75" width="7.30" height="4.65" fill="#c7c6cb"/>
<rect x="158.00" y="635.75" width="7.30" height="4.65" fill="#c7c6cb"/>
<rect x="166.42" y="635.75" width="7.30" height="4.65" fill="#c7c6cb"/>
<rect x="174.84" y="635.75" width="7.30" height="4.65" fill="#c7c6cb"/>
<rect x="183.26" y="635.75" width="7.30" height="4.65" fill="#c7c6cb"/>
<rect x="191.68" y="635.75" width="7.30" height="4.65" fill="#c7c6cb"/>
<rect x="200.10" y="635.75" width="7.30" height="4.65" fill="#c7c6cb"/>
<rect x="208.52" y="635.75" width="7.30" height="4.65" fill="#5aa832"/>
<rect x="216.94" y="635.75" width="7.30" height="4.65" fill="#5aa832"/>
<rect x="225.36" y="635.75" width="7.30" height="4.65" fill="#c7c6cb"/>
<rect x="233.78" y="635.75" width="7.30" height="4.65" fill="#c7c6cb"/>
<rect x="242.20" y="635.75" width="7.30" height="4.65" fill="#c7c6cb"/>
<rect x="250.62" y="635.75" width="7.30" height="4.65" fill="#c7c6cb"/>
<rect x="259.04" y="635.75" width="7.30" height="4.65" fill="#c7c6cb"/>
<rect x="267.46" y="635.75" width="7.30" height="4.65" fill="#c7c6cb"/>
<rect x="275.88" y="635.75" width="7.30" height="4.65" fill="#c7c6cb"/>
<rect x="284.30" y="635.75" width="7.30" height="4.65" fill="#c7c6cb"/>
<rect x="339.00" y="635.75" width="6.80" height="4.65" fill="#c7c6cb"/>
<rect x="346.66" y="635.75" width="6.80" height="4.65" fill="#c7c6cb"/>
<rect x="354.32" y="635.75" width="6.80" height="4.65" fill="#c7c6cb"/>
<rect x="361.98" y="635.75" width="6.80" height="4.65" fill="#c7c6cb"/>
<rect x="369.64" y="635.75" width="6.80" height="4.65" fill="#c7c6cb"/>
<rect x="377.30" y="635.75" width="6.80" height="4.65" fill="#c7c6cb"/>
<rect x="384.96" y="635.75" width="6.80" height="4.65" fill="#c7c6cb"/>
<rect x="392.62" y="635.75" width="6.80" height="4.65" fill="#5aa832"/>
<rect x="400.28" y="635.75" width="6.80" height="4.65" fill="#5aa832"/>
<rect x="407.94" y="635.75" width="6.80" height="4.65" fill="#c7c6cb"/>
<rect x="415.60" y="635.75" width="6.80" height="4.65" fill="#c7c6cb"/>
<rect x="423.26" y="635.75" width="6.80" height="4.65" fill="#c7c6cb"/>
<rect x="430.92" y="635.75" width="6.80" height="4.65" fill="#c7c6cb"/>
<rect x="438.58" y="635.75" width="6.80" height="4.65" fill="#c7c6cb"/>
<rect x="446.24" y="635.75" width="6.80" height="4.65" fill="#5aa832"/>
<rect x="453.90" y="635.75" width="6.80" height="4.65" fill="#c7c6cb"/>
<rect x="461.56" y="635.75" width="6.80" height="4.65" fill="#c7c6cb"/>
<rect x="469.22" y="635.75" width="6.80" height="4.65" fill="#c7c6cb"/>
<rect x="31.70" y="641.25" width="7.30" height="4.65" fill="#c7c6cb"/>
<rect x="40.12" y="641.25" width="7.30" height="4.65" fill="#c7c6cb"/>
<rect x="48.54" y="641.25" width="7.30" height="4.65" fill="#c7c6cb"/>
<rect x="56.96" y="641.25" width="7.30" height="4.65" fill="#5aa832"/>
<rect x="65.38" y="641.25" width="7.30" height="4.65" fill="#c7c6cb"/>
<rect x="73.80" y="641.25" width="7.30" height="4.65" fill="#c7c6cb"/>
<rect x="82.22" y="641.25" width="7.30" height="4.65" fill="#c7c6cb"/>
<rect x="90.64" y="641.25" width="7.30" height="4.65" fill="#c7c6cb"/>
<rect x="99.06" y="641.25" width="7.30" height="4.65" fill="#c7c6cb"/>
<rect x="107.48" y="641.25" width="7.30" height="4.65" fill="#c7c6cb"/>
<rect x="115.90" y="641.25" width="7.30" height="4.65" fill="#c7c6cb"/>
<rect x="124.32" y="641.25" width="7.30" height="4.65" fill="#c7c6cb"/>
<rect x="132.74" y="641.25" width="7.30" height="4.65" fill="#c7c6cb"/>
<rect x="141.16" y="641.25" width="7.30" height="4.65" fill="#c7c6cb"/>
<rect x="149.58" y="641.25" width="7.30" height="4.65" fill="#c7c6cb"/>
<rect x="158.00" y="641.25" width="7.30" height="4.65" fill="#c7c6cb"/>
<rect x="166.42" y="641.25" width="7.30" height="4.65" fill="#ea951c"/>
<rect x="174.84" y="641.25" width="7.30" height="4.65" fill="#c7c6cb"/>
<rect x="183.26" y="641.25" width="7.30" height="4.65" fill="#c7c6cb"/>
<rect x="191.68" y="641.25" width="7.30" height="4.65" fill="#c7c6cb"/>
<rect x="200.10" y="641.25" width="7.30" height="4.65" fill="#c7c6cb"/>
<rect x="208.52" y="641.25" width="7.30" height="4.65" fill="#c7c6cb"/>
<rect x="216.94" y="641.25" width="7.30" height="4.65" fill="#c7c6cb"/>
<rect x="225.36" y="641.25" width="7.30" height="4.65" fill="#c7c6cb"/>
<rect x="233.78" y="641.25" width="7.30" height="4.65" fill="#c7c6cb"/>
<rect x="242.20" y="641.25" width="7.30" height="4.65" fill="#c7c6cb"/>
<rect x="250.62" y="641.25" width="7.30" height="4.65" fill="#c7c6cb"/>
<rect x="259.04" y="641.25" width="7.30" height="4.65" fill="#c7c6cb"/>
<rect x="267.46" y="641.25" width="7.30" height="4.65" fill="#c7c6cb"/>
<rect x="275.88" y="641.25" width="7.30" height="4.65" fill="#c7c6cb"/>
<rect x="284.30" y="641.25" width="7.30" height="4.65" fill="#c7c6cb"/>
<rect x="339.00" y="641.25" width="6.80" height="4.65" fill="#5aace6"/>
<rect x="346.66" y="641.25" width="6.80" height="4.65" fill="#a8002a"/>
<rect x="354.32" y="641.25" width="6.80" height="4.65" fill="#5aa832"/>
<rect x="361.98" y="641.25" width="6.80" height="4.65" fill="#ea951c"/>
<rect x="369.64" y="641.25" width="6.80" height="4.65" fill="#5aa832"/>
<rect x="377.30" y="641.25" width="6.80" height="4.65" fill="#5aa832"/>
<rect x="384.96" y="641.25" width="6.80" height="4.65" fill="#5aa832"/>
<rect x="392.62" y="641.25" width="6.80" height="4.65" fill="#c7c6cb"/>
<rect x="400.28" y="641.25" width="6.80" height="4.65" fill="#c7c6cb"/>
<rect x="407.94" y="641.25" width="6.80" height="4.65" fill="#c7c6cb"/>
<rect x="415.60" y="641.25" width="6.80" height="4.65" fill="#c7c6cb"/>
<rect x="423.26" y="641.25" width="6.80" height="4.65" fill="#c7c6cb"/>
<rect x="430.92" y="641.25" width="6.80" height="4.65" fill="#c7c6cb"/>
<rect x="438.58" y="641.25" width="6.80" height="4.65" fill="#c7c6cb"/>
<rect x="446.24" y="641.25" width="6.80" height="4.65" fill="#c7c6cb"/>
<rect x="453.90" y="641.25" width="6.80" height="4.65" fill="#c7c6cb"/>
<rect x="461.56" y="641.25" width="6.80" height="4.65" fill="#c7c6cb"/>
<rect x="469.22" y="641.25" width="6.80" height="4.65" fill="#c7c6cb"/>
<rect x="31.70" y="646.75" width="7.30" height="4.65" fill="#c7c6cb"/>
<rect x="40.12" y="646.75" width="7.30" height="4.65" fill="#c7c6cb"/>
<rect x="48.54" y="646.75" width="7.30" height="4.65" fill="#c7c6cb"/>
<rect x="56.96" y="646.75" width="7.30" height="4.65" fill="#c7c6cb"/>
<rect x="65.38" y="646.75" width="7.30" height="4.65" fill="#c7c6cb"/>
<rect x="73.80" y="646.75" width="7.30" height="4.65" fill="#c7c6cb"/>
<rect x="82.22" y="646.75" width="7.30" height="4.65" fill="#c7c6cb"/>
<rect x="90.64" y="646.75" width="7.30" height="4.65" fill="#c7c6cb"/>
<rect x="99.06" y="646.75" width="7.30" height="4.65" fill="#c7c6cb"/>
<rect x="107.48" y="646.75" width="7.30" height="4.65" fill="#c7c6cb"/>
<rect x="115.90" y="646.75" width="7.30" height="4.65" fill="#5aa832"/>
<rect x="124.32" y="646.75" width="7.30" height="4.65" fill="#c7c6cb"/>
<rect x="132.74" y="646.75" width="7.30" height="4.65" fill="#c7c6cb"/>
<rect x="141.16" y="646.75" width="7.30" height="4.65" fill="#c7c6cb"/>
<rect x="149.58" y="646.75" width="7.30" height="4.65" fill="#c7c6cb"/>
<rect x="158.00" y="646.75" width="7.30" height="4.65" fill="#c7c6cb"/>
<rect x="166.42" y="646.75" width="7.30" height="4.65" fill="#c7c6cb"/>
<rect x="174.84" y="646.75" width="7.30" height="4.65" fill="#c7c6cb"/>
<rect x="183.26" y="646.75" width="7.30" height="4.65" fill="#c7c6cb"/>
<rect x="191.68" y="646.75" width="7.30" height="4.65" fill="#c7c6cb"/>
<rect x="200.10" y="646.75" width="7.30" height="4.65" fill="#c7c6cb"/>
<rect x="208.52" y="646.75" width="7.30" height="4.65" fill="#c7c6cb"/>
<rect x="216.94" y="646.75" width="7.30" height="4.65" fill="#c7c6cb"/>
<rect x="225.36" y="646.75" width="7.30" height="4.65" fill="#c7c6cb"/>
<rect x="233.78" y="646.75" width="7.30" height="4.65" fill="#c7c6cb"/>
<rect x="242.20" y="646.75" width="7.30" height="4.65" fill="#c7c6cb"/>
<rect x="250.62" y="646.75" width="7.30" height="4.65" fill="#c7c6cb"/>
<rect x="259.04" y="646.75" width="7.30" height="4.65" fill="#c7c6cb"/>
<rect x="267.46" y="646.75" width="7.30" height="4.65" fill="#c7c6cb"/>
<rect x="275.88" y="646.75" width="7.30" height="4.65" fill="#c7c6cb"/>
<rect x="284.30" y="646.75" width="7.30" height="4.65" fill="#c7c6cb"/>
<rect x="339.00" y="646.75" width="6.80" height="4.65" fill="#c7c6cb"/>
<rect x="346.66" y="646.75" width="6.80" height="4.65" fill="#474c5e"/>
<rect x="354.32" y="646.75" width="6.80" height="4.65" fill="#c7c6cb"/>
<rect x="361.98" y="646.75" width="6.80" height="4.65" fill="#5aa832"/>
<rect x="369.64" y="646.75" width="6.80" height="4.65" fill="#c7c6cb"/>
<rect x="377.30" y="646.75" width="6.80" height="4.65" fill="#c7c6cb"/>
<rect x="384.96" y="646.75" width="6.80" height="4.65" fill="#c7c6cb"/>
<rect x="392.62" y="646.75" width="6.80" height="4.65" fill="#5aace6"/>
<rect x="400.28" y="646.75" width="6.80" height="4.65" fill="#c7c6cb"/>
<rect x="407.94" y="646.75" width="6.80" height="4.65" fill="#c7c6cb"/>
<rect x="415.60" y="646.75" width="6.80" height="4.65" fill="#c7c6cb"/>
<rect x="423.26" y="646.75" width="6.80" height="4.65" fill="#c7c6cb"/>
<rect x="430.92" y="646.75" width="6.80" height="4.65" fill="#c7c6cb"/>
<rect x="438.58" y="646.75" width="6.80" height="4.65" fill="#c7c6cb"/>
<rect x="446.24" y="646.75" width="6.80" height="4.65" fill="#c7c6cb"/>
<rect x="453.90" y="646.75" width="6.80" height="4.65" fill="#c7c6cb"/>
<rect x="461.56" y="646.75" width="6.80" height="4.65" fill="#c7c6cb"/>
<rect x="469.22" y="646.75" width="6.80" height="4.65" fill="#c7c6cb"/>
<rect x="31.70" y="652.25" width="7.30" height="4.65" fill="#5aace6"/>
<rect x="40.12" y="652.25" width="7.30" height="4.65" fill="#c7c6cb"/>
<rect x="48.54" y="652.25" width="7.30" height="4.65" fill="#c7c6cb"/>
<rect x="56.96" y="652.25" width="7.30" height="4.65" fill="#c7c6cb"/>
<rect x="65.38" y="652.25" width="7.30" height="4.65" fill="#c7c6cb"/>
<rect x="73.80" y="652.25" width="7.30" height="4.65" fill="#c7c6cb"/>
<rect x="82.22" y="652.25" width="7.30" height="4.65" fill="#c7c6cb"/>
<rect x="90.64" y="652.25" width="7.30" height="4.65" fill="#c7c6cb"/>
<rect x="99.06" y="652.25" width="7.30" height="4.65" fill="#ea951c"/>
<rect x="107.48" y="652.25" width="7.30" height="4.65" fill="#c7c6cb"/>
<rect x="115.90" y="652.25" width="7.30" height="4.65" fill="#c7c6cb"/>
<rect x="124.32" y="652.25" width="7.30" height="4.65" fill="#c7c6cb"/>
<rect x="132.74" y="652.25" width="7.30" height="4.65" fill="#c7c6cb"/>
<rect x="141.16" y="652.25" width="7.30" height="4.65" fill="#c7c6cb"/>
<rect x="149.58" y="652.25" width="7.30" height="4.65" fill="#c7c6cb"/>
<rect x="158.00" y="652.25" width="7.30" height="4.65" fill="#c7c6cb"/>
<rect x="166.42" y="652.25" width="7.30" height="4.65" fill="#c7c6cb"/>
<rect x="174.84" y="652.25" width="7.30" height="4.65" fill="#c7c6cb"/>
<rect x="183.26" y="652.25" width="7.30" height="4.65" fill="#c7c6cb"/>
<rect x="191.68" y="652.25" width="7.30" height="4.65" fill="#c7c6cb"/>
<rect x="200.10" y="652.25" width="7.30" height="4.65" fill="#c7c6cb"/>
<rect x="208.52" y="652.25" width="7.30" height="4.65" fill="#c7c6cb"/>
<rect x="216.94" y="652.25" width="7.30" height="4.65" fill="#c7c6cb"/>
<rect x="225.36" y="652.25" width="7.30" height="4.65" fill="#c7c6cb"/>
<rect x="233.78" y="652.25" width="7.30" height="4.65" fill="#c7c6cb"/>
<rect x="242.20" y="652.25" width="7.30" height="4.65" fill="#c7c6cb"/>
<rect x="250.62" y="652.25" width="7.30" height="4.65" fill="#c7c6cb"/>
<rect x="259.04" y="652.25" width="7.30" height="4.65" fill="#c7c6cb"/>
<rect x="267.46" y="652.25" width="7.30" height="4.65" fill="#c7c6cb"/>
<rect x="275.88" y="652.25" width="7.30" height="4.65" fill="#c7c6cb"/>
<rect x="284.30" y="652.25" width="7.30" height="4.65" fill="#c7c6cb"/>
<rect x="339.00" y="652.25" width="6.80" height="4.65" fill="#c7c6cb"/>
<rect x="346.66" y="652.25" width="6.80" height="4.65" fill="#c7c6cb"/>
<rect x="354.32" y="652.25" width="6.80" height="4.65" fill="#c7c6cb"/>
<rect x="361.98" y="652.25" width="6.80" height="4.65" fill="#5aa832"/>
<rect x="369.64" y="652.25" width="6.80" height="4.65" fill="#5aa832"/>
<rect x="377.30" y="652.25" width="6.80" height="4.65" fill="#c7c6cb"/>
<rect x="384.96" y="652.25" width="6.80" height="4.65" fill="#c7c6cb"/>
<rect x="392.62" y="652.25" width="6.80" height="4.65" fill="#c7c6cb"/>
<rect x="400.28" y="652.25" width="6.80" height="4.65" fill="#c7c6cb"/>
<rect x="407.94" y="652.25" width="6.80" height="4.65" fill="#5aa832"/>
<rect x="415.60" y="652.25" width="6.80" height="4.65" fill="#c7c6cb"/>
<rect x="423.26" y="652.25" width="6.80" height="4.65" fill="#c7c6cb"/>
<rect x="430.92" y="652.25" width="6.80" height="4.65" fill="#c7c6cb"/>
<rect x="438.58" y="652.25" width="6.80" height="4.65" fill="#5aa832"/>
<rect x="446.24" y="652.25" width="6.80" height="4.65" fill="#c7c6cb"/>
<rect x="453.90" y="652.25" width="6.80" height="4.65" fill="#c7c6cb"/>
<rect x="461.56" y="652.25" width="6.80" height="4.65" fill="#c7c6cb"/>
<rect x="469.22" y="652.25" width="6.80" height="4.65" fill="#c7c6cb"/>
<rect x="31.70" y="657.75" width="7.30" height="4.65" fill="#c7c6cb"/>
<rect x="40.12" y="657.75" width="7.30" height="4.65" fill="#c7c6cb"/>
<rect x="48.54" y="657.75" width="7.30" height="4.65" fill="#c7c6cb"/>
<rect x="56.96" y="657.75" width="7.30" height="4.65" fill="#c7c6cb"/>
<rect x="65.38" y="657.75" width="7.30" height="4.65" fill="#c7c6cb"/>
<rect x="73.80" y="657.75" width="7.30" height="4.65" fill="#c7c6cb"/>
<rect x="82.22" y="657.75" width="7.30" height="4.65" fill="#c7c6cb"/>
<rect x="90.64" y="657.75" width="7.30" height="4.65" fill="#c7c6cb"/>
<rect x="99.06" y="657.75" width="7.30" height="4.65" fill="#c7c6cb"/>
<rect x="107.48" y="657.75" width="7.30" height="4.65" fill="#c7c6cb"/>
<rect x="115.90" y="657.75" width="7.30" height="4.65" fill="#c7c6cb"/>
<rect x="124.32" y="657.75" width="7.30" height="4.65" fill="#c7c6cb"/>
<rect x="132.74" y="657.75" width="7.30" height="4.65" fill="#c7c6cb"/>
<rect x="141.16" y="657.75" width="7.30" height="4.65" fill="#c7c6cb"/>
<rect x="149.58" y="657.75" width="7.30" height="4.65" fill="#5aa832"/>
<rect x="158.00" y="657.75" width="7.30" height="4.65" fill="#c7c6cb"/>
<rect x="166.42" y="657.75" width="7.30" height="4.65" fill="#c7c6cb"/>
<rect x="174.84" y="657.75" width="7.30" height="4.65" fill="#c7c6cb"/>
<rect x="183.26" y="657.75" width="7.30" height="4.65" fill="#c7c6cb"/>
<rect x="191.68" y="657.75" width="7.30" height="4.65" fill="#c7c6cb"/>
<rect x="200.10" y="657.75" width="7.30" height="4.65" fill="#c7c6cb"/>
<rect x="208.52" y="657.75" width="7.30" height="4.65" fill="#c7c6cb"/>
<rect x="216.94" y="657.75" width="7.30" height="4.65" fill="#c7c6cb"/>
<rect x="225.36" y="657.75" width="7.30" height="4.65" fill="#c7c6cb"/>
<rect x="233.78" y="657.75" width="7.30" height="4.65" fill="#c7c6cb"/>
<rect x="242.20" y="657.75" width="7.30" height="4.65" fill="#c7c6cb"/>
<rect x="250.62" y="657.75" width="7.30" height="4.65" fill="#c7c6cb"/>
<rect x="259.04" y="657.75" width="7.30" height="4.65" fill="#c7c6cb"/>
<rect x="267.46" y="657.75" width="7.30" height="4.65" fill="#c7c6cb"/>
<rect x="275.88" y="657.75" width="7.30" height="4.65" fill="#c7c6cb"/>
<rect x="284.30" y="657.75" width="7.30" height="4.65" fill="#c7c6cb"/>
<rect x="339.00" y="657.75" width="6.80" height="4.65" fill="#5aa832"/>
<rect x="346.66" y="657.75" width="6.80" height="4.65" fill="#5aa832"/>
<rect x="354.32" y="657.75" width="6.80" height="4.65" fill="#5aa832"/>
<rect x="361.98" y="657.75" width="6.80" height="4.65" fill="#5aa832"/>
<rect x="369.64" y="657.75" width="6.80" height="4.65" fill="#c7c6cb"/>
<rect x="377.30" y="657.75" width="6.80" height="4.65" fill="#c7c6cb"/>
<rect x="384.96" y="657.75" width="6.80" height="4.65" fill="#c7c6cb"/>
<rect x="392.62" y="657.75" width="6.80" height="4.65" fill="#c7c6cb"/>
<rect x="400.28" y="657.75" width="6.80" height="4.65" fill="#c7c6cb"/>
<rect x="407.94" y="657.75" width="6.80" height="4.65" fill="#c7c6cb"/>
<rect x="415.60" y="657.75" width="6.80" height="4.65" fill="#c7c6cb"/>
<rect x="423.26" y="657.75" width="6.80" height="4.65" fill="#c7c6cb"/>
<rect x="430.92" y="657.75" width="6.80" height="4.65" fill="#5aa832"/>
<rect x="438.58" y="657.75" width="6.80" height="4.65" fill="#c7c6cb"/>
<rect x="446.24" y="657.75" width="6.80" height="4.65" fill="#c7c6cb"/>
<rect x="453.90" y="657.75" width="6.80" height="4.65" fill="#c7c6cb"/>
<rect x="461.56" y="657.75" width="6.80" height="4.65" fill="#c7c6cb"/>
<rect x="469.22" y="657.75" width="6.80" height="4.65" fill="#c7c6cb"/>
<rect x="31.70" y="663.25" width="7.30" height="4.65" fill="#c7c6cb"/>
<rect x="40.12" y="663.25" width="7.30" height="4.65" fill="#c7c6cb"/>
<rect x="48.54" y="663.25" width="7.30" height="4.65" fill="#c7c6cb"/>
<rect x="56.96" y="663.25" width="7.30" height="4.65" fill="#c7c6cb"/>
<rect x="65.38" y="663.25" width="7.30" height="4.65" fill="#c7c6cb"/>
<rect x="73.80" y="663.25" width="7.30" height="4.65" fill="#c7c6cb"/>
<rect x="82.22" y="663.25" width="7.30" height="4.65" fill="#5aa832"/>
<rect x="90.64" y="663.25" width="7.30" height="4.65" fill="#c7c6cb"/>
<rect x="99.06" y="663.25" width="7.30" height="4.65" fill="#c7c6cb"/>
<rect x="107.48" y="663.25" width="7.30" height="4.65" fill="#c7c6cb"/>
<rect x="115.90" y="663.25" width="7.30" height="4.65" fill="#c7c6cb"/>
<rect x="124.32" y="663.25" width="7.30" height="4.65" fill="#c7c6cb"/>
<rect x="132.74" y="663.25" width="7.30" height="4.65" fill="#c7c6cb"/>
<rect x="141.16" y="663.25" width="7.30" height="4.65" fill="#c7c6cb"/>
<rect x="149.58" y="663.25" width="7.30" height="4.65" fill="#c7c6cb"/>
<rect x="158.00" y="663.25" width="7.30" height="4.65" fill="#c7c6cb"/>
<rect x="166.42" y="663.25" width="7.30" height="4.65" fill="#c7c6cb"/>
<rect x="174.84" y="663.25" width="7.30" height="4.65" fill="#c7c6cb"/>
<rect x="183.26" y="663.25" width="7.30" height="4.65" fill="#c7c6cb"/>
<rect x="191.68" y="663.25" width="7.30" height="4.65" fill="#c7c6cb"/>
<rect x="200.10" y="663.25" width="7.30" height="4.65" fill="#c7c6cb"/>
<rect x="208.52" y="663.25" width="7.30" height="4.65" fill="#c7c6cb"/>
<rect x="216.94" y="663.25" width="7.30" height="4.65" fill="#c7c6cb"/>
<rect x="225.36" y="663.25" width="7.30" height="4.65" fill="#c7c6cb"/>
<rect x="233.78" y="663.25" width="7.30" height="4.65" fill="#c7c6cb"/>
<rect x="242.20" y="663.25" width="7.30" height="4.65" fill="#c7c6cb"/>
<rect x="250.62" y="663.25" width="7.30" height="4.65" fill="#c7c6cb"/>
<rect x="259.04" y="663.25" width="7.30" height="4.65" fill="#c7c6cb"/>
<rect x="267.46" y="663.25" width="7.30" height="4.65" fill="#c7c6cb"/>
<rect x="275.88" y="663.25" width="7.30" height="4.65" fill="#c7c6cb"/>
<rect x="284.30" y="663.25" width="7.30" height="4.65" fill="#c7c6cb"/>
<rect x="339.00" y="663.25" width="6.80" height="4.65" fill="#5aa832"/>
<rect x="346.66" y="663.25" width="6.80" height="4.65" fill="#5aa832"/>
<rect x="354.32" y="663.25" width="6.80" height="4.65" fill="#a8002a"/>
<rect x="361.98" y="663.25" width="6.80" height="4.65" fill="#c7c6cb"/>
<rect x="369.64" y="663.25" width="6.80" height="4.65" fill="#c7c6cb"/>
<rect x="377.30" y="663.25" width="6.80" height="4.65" fill="#c7c6cb"/>
<rect x="384.96" y="663.25" width="6.80" height="4.65" fill="#c7c6cb"/>
<rect x="392.62" y="663.25" width="6.80" height="4.65" fill="#5aace6"/>
<rect x="400.28" y="663.25" width="6.80" height="4.65" fill="#4f1f63"/>
<rect x="407.94" y="663.25" width="6.80" height="4.65" fill="#c7c6cb"/>
<rect x="415.60" y="663.25" width="6.80" height="4.65" fill="#c7c6cb"/>
<rect x="423.26" y="663.25" width="6.80" height="4.65" fill="#c7c6cb"/>
<rect x="430.92" y="663.25" width="6.80" height="4.65" fill="#c7c6cb"/>
<rect x="438.58" y="663.25" width="6.80" height="4.65" fill="#c7c6cb"/>
<rect x="446.24" y="663.25" width="6.80" height="4.65" fill="#c7c6cb"/>
<rect x="453.90" y="663.25" width="6.80" height="4.65" fill="#c7c6cb"/>
<rect x="461.56" y="663.25" width="6.80" height="4.65" fill="#c7c6cb"/>
<rect x="469.22" y="663.25" width="6.80" height="4.65" fill="#c7c6cb"/>
<rect x="31.70" y="668.75" width="7.30" height="4.65" fill="#c7c6cb"/>
<rect x="40.12" y="668.75" width="7.30" height="4.65" fill="#c7c6cb"/>
<rect x="48.54" y="668.75" width="7.30" height="4.65" fill="#c7c6cb"/>
<rect x="56.96" y="668.75" width="7.30" height="4.65" fill="#c7c6cb"/>
<rect x="65.38" y="668.75" width="7.30" height="4.65" fill="#c7c6cb"/>
<rect x="73.80" y="668.75" width="7.30" height="4.65" fill="#c7c6cb"/>
<rect x="82.22" y="668.75" width="7.30" height="4.65" fill="#c7c6cb"/>
<rect x="90.64" y="668.75" width="7.30" height="4.65" fill="#c7c6cb"/>
<rect x="99.06" y="668.75" width="7.30" height="4.65" fill="#c7c6cb"/>
<rect x="107.48" y="668.75" width="7.30" height="4.65" fill="#c7c6cb"/>
<rect x="115.90" y="668.75" width="7.30" height="4.65" fill="#c7c6cb"/>
<rect x="124.32" y="668.75" width="7.30" height="4.65" fill="#c7c6cb"/>
<rect x="132.74" y="668.75" width="7.30" height="4.65" fill="#c7c6cb"/>
<rect x="141.16" y="668.75" width="7.30" height="4.65" fill="#c7c6cb"/>
<rect x="149.58" y="668.75" width="7.30" height="4.65" fill="#c7c6cb"/>
<rect x="158.00" y="668.75" width="7.30" height="4.65" fill="#c7c6cb"/>
<rect x="166.42" y="668.75" width="7.30" height="4.65" fill="#c7c6cb"/>
<rect x="174.84" y="668.75" width="7.30" height="4.65" fill="#c7c6cb"/>
<rect x="183.26" y="668.75" width="7.30" height="4.65" fill="#c7c6cb"/>
<rect x="191.68" y="668.75" width="7.30" height="4.65" fill="#c7c6cb"/>
<rect x="200.10" y="668.75" width="7.30" height="4.65" fill="#c7c6cb"/>
<rect x="208.52" y="668.75" width="7.30" height="4.65" fill="#c7c6cb"/>
<rect x="216.94" y="668.75" width="7.30" height="4.65" fill="#c7c6cb"/>
<rect x="225.36" y="668.75" width="7.30" height="4.65" fill="#c7c6cb"/>
<rect x="233.78" y="668.75" width="7.30" height="4.65" fill="#c7c6cb"/>
<rect x="242.20" y="668.75" width="7.30" height="4.65" fill="#c7c6cb"/>
<rect x="250.62" y="668.75" width="7.30" height="4.65" fill="#c7c6cb"/>
<rect x="259.04" y="668.75" width="7.30" height="4.65" fill="#c7c6cb"/>
<rect x="267.46" y="668.75" width="7.30" height="4.65" fill="#c7c6cb"/>
<rect x="275.88" y="668.75" width="7.30" height="4.65" fill="#c7c6cb"/>
<rect x="284.30" y="668.75" width="7.30" height="4.65" fill="#c7c6cb"/>
<rect x="339.00" y="668.75" width="6.80" height="4.65" fill="#c7c6cb"/>
<rect x="346.66" y="668.75" width="6.80" height="4.65" fill="#c7c6cb"/>
<rect x="354.32" y="668.75" width="6.80" height="4.65" fill="#5aa832"/>
<rect x="361.98" y="668.75" width="6.80" height="4.65" fill="#c7c6cb"/>
<rect x="369.64" y="668.75" width="6.80" height="4.65" fill="#5aa832"/>
<rect x="377.30" y="668.75" width="6.80" height="4.65" fill="#c7c6cb"/>
<rect x="384.96" y="668.75" width="6.80" height="4.65" fill="#c7c6cb"/>
<rect x="392.62" y="668.75" width="6.80" height="4.65" fill="#5aa832"/>
<rect x="400.28" y="668.75" width="6.80" height="4.65" fill="#c7c6cb"/>
<rect x="407.94" y="668.75" width="6.80" height="4.65" fill="#c7c6cb"/>
<rect x="415.60" y="668.75" width="6.80" height="4.65" fill="#c7c6cb"/>
<rect x="423.26" y="668.75" width="6.80" height="4.65" fill="#c7c6cb"/>
<rect x="430.92" y="668.75" width="6.80" height="4.65" fill="#c7c6cb"/>
<rect x="438.58" y="668.75" width="6.80" height="4.65" fill="#c7c6cb"/>
<rect x="446.24" y="668.75" width="6.80" height="4.65" fill="#c7c6cb"/>
<rect x="453.90" y="668.75" width="6.80" height="4.65" fill="#c7c6cb"/>
<rect x="461.56" y="668.75" width="6.80" height="4.65" fill="#c7c6cb"/>
<rect x="469.22" y="668.75" width="6.80" height="4.65" fill="#c7c6cb"/>
<rect x="40.12" y="675.80" width="7.30" height="6.00" fill="#c7c6cb"/>
<rect x="56.96" y="675.80" width="7.30" height="6.00" fill="#c7c6cb"/>
<rect x="73.80" y="675.80" width="7.30" height="6.00" fill="#c7c6cb"/>
<rect x="107.48" y="675.80" width="7.30" height="6.00" fill="#c7c6cb"/>
<rect x="124.32" y="675.80" width="7.30" height="6.00" fill="#c7c6cb"/>
<rect x="132.74" y="675.80" width="7.30" height="6.00" fill="#c7c6cb"/>
<rect x="141.16" y="675.80" width="7.30" height="6.00" fill="#c7c6cb"/>
<rect x="149.58" y="675.80" width="7.30" height="6.00" fill="#2b4a8a"/>
<rect x="158.00" y="675.80" width="7.30" height="6.00" fill="#c7c6cb"/>
<rect x="174.84" y="675.80" width="7.30" height="6.00" fill="#c7c6cb"/>
<rect x="183.26" y="675.80" width="7.30" height="6.00" fill="#c7c6cb"/>
<rect x="191.68" y="675.80" width="7.30" height="6.00" fill="#c7c6cb"/>
<rect x="208.52" y="675.80" width="7.30" height="6.00" fill="#c7c6cb"/>
<rect x="216.94" y="675.80" width="7.30" height="6.00" fill="#c7c6cb"/>
<rect x="225.36" y="675.80" width="7.30" height="6.00" fill="#c7c6cb"/>
<rect x="233.78" y="675.80" width="7.30" height="6.00" fill="#c7c6cb"/>
<rect x="242.20" y="675.80" width="7.30" height="6.00" fill="#c7c6cb"/>
<rect x="284.30" y="675.80" width="7.30" height="6.00" fill="#c7c6cb"/>
<rect x="40.12" y="682.80" width="7.30" height="6.00" fill="#c7c6cb"/>
<rect x="56.96" y="682.80" width="7.30" height="6.00" fill="#c7c6cb"/>
<rect x="73.80" y="682.80" width="7.30" height="6.00" fill="#c7c6cb"/>
<rect x="107.48" y="682.80" width="7.30" height="6.00" fill="#c7c6cb"/>
<rect x="124.32" y="682.80" width="7.30" height="6.00" fill="#c7c6cb"/>
<rect x="132.74" y="682.80" width="7.30" height="6.00" fill="#c7c6cb"/>
<rect x="149.58" y="682.80" width="7.30" height="6.00" fill="#c7c6cb"/>
<rect x="158.00" y="682.80" width="7.30" height="6.00" fill="#c7c6cb"/>
<rect x="174.84" y="682.80" width="7.30" height="6.00" fill="#c7c6cb"/>
<rect x="183.26" y="682.80" width="7.30" height="6.00" fill="#c7c6cb"/>
<rect x="208.52" y="682.80" width="7.30" height="6.00" fill="#c7c6cb"/>
<rect x="225.36" y="682.80" width="7.30" height="6.00" fill="#c7c6cb"/>
<rect x="233.78" y="682.80" width="7.30" height="6.00" fill="#c7c6cb"/>
<rect x="242.20" y="682.80" width="7.30" height="6.00" fill="#c7c6cb"/>
<rect x="250.62" y="682.80" width="7.30" height="6.00" fill="#c7c6cb"/>
<rect x="284.30" y="682.80" width="7.30" height="6.00" fill="#c7c6cb"/>
<rect x="339.00" y="675.80" width="6.80" height="6.00" fill="#2b4a8a"/>
<rect x="346.66" y="675.80" width="6.80" height="6.00" fill="#2b4a8a"/>
<rect x="354.32" y="675.80" width="6.80" height="6.00" fill="#9089c9"/>
<rect x="361.98" y="675.80" width="6.80" height="6.00" fill="#c7c6cb"/>
<rect x="369.64" y="675.80" width="6.80" height="6.00" fill="#9089c9"/>
<rect x="377.30" y="675.80" width="6.80" height="6.00" fill="#c7c6cb"/>
<rect x="384.96" y="675.80" width="6.80" height="6.00" fill="#9089c9"/>
<rect x="392.62" y="675.80" width="6.80" height="6.00" fill="#2b4a8a"/>
<rect x="400.28" y="675.80" width="6.80" height="6.00" fill="#c7c6cb"/>
<rect x="407.94" y="675.80" width="6.80" height="6.00" fill="#c7c6cb"/>
<rect x="415.60" y="675.80" width="6.80" height="6.00" fill="#c7c6cb"/>
<rect x="423.26" y="675.80" width="6.80" height="6.00" fill="#c7c6cb"/>
<rect x="430.92" y="675.80" width="6.80" height="6.00" fill="#2b4a8a"/>
<rect x="438.58" y="675.80" width="6.80" height="6.00" fill="#c7c6cb"/>
<rect x="446.24" y="675.80" width="6.80" height="6.00" fill="#c7c6cb"/>
<rect x="453.90" y="675.80" width="6.80" height="6.00" fill="#c7c6cb"/>
<rect x="461.56" y="675.80" width="6.80" height="6.00" fill="#c7c6cb"/>
<rect x="339.00" y="682.80" width="6.80" height="6.00" fill="#c7c6cb"/>
<rect x="346.66" y="682.80" width="6.80" height="6.00" fill="#c7c6cb"/>
<rect x="354.32" y="682.80" width="6.80" height="6.00" fill="#9089c9"/>
<rect x="361.98" y="682.80" width="6.80" height="6.00" fill="#c7c6cb"/>
<rect x="369.64" y="682.80" width="6.80" height="6.00" fill="#2b4a8a"/>
<rect x="377.30" y="682.80" width="6.80" height="6.00" fill="#c7c6cb"/>
<rect x="384.96" y="682.80" width="6.80" height="6.00" fill="#2b4a8a"/>
<rect x="392.62" y="682.80" width="6.80" height="6.00" fill="#c7c6cb"/>
<rect x="407.94" y="682.80" width="6.80" height="6.00" fill="#c7c6cb"/>
<rect x="415.60" y="682.80" width="6.80" height="6.00" fill="#c7c6cb"/>
<rect x="423.26" y="682.80" width="6.80" height="6.00" fill="#c7c6cb"/>
<rect x="430.92" y="682.80" width="6.80" height="6.00" fill="#c7c6cb"/>
<rect x="438.58" y="682.80" width="6.80" height="6.00" fill="#c7c6cb"/>
<rect x="446.24" y="682.80" width="6.80" height="6.00" fill="#c7c6cb"/>
<rect x="453.90" y="682.80" width="6.80" height="6.00" fill="#c7c6cb"/>
<rect x="461.56" y="682.80" width="6.80" height="6.00" fill="#c7c6cb"/>
<rect x="469.22" y="682.80" width="6.80" height="6.00" fill="#c7c6cb"/>
<text x="294.80" y="514.45" font-size="7.6" textLength="12.81" lengthAdjust="spacingAndGlyphs" font-style="italic">B2M</text>
<text x="28.60" y="514.45" font-size="7.6" text-anchor="end" textLength="12.93" lengthAdjust="spacingAndGlyphs">45%</text>
<text x="478.80" y="514.45" font-size="7.6" textLength="12.45" lengthAdjust="spacingAndGlyphs">11%</text>
<text x="294.80" y="519.95" font-size="7.6" textLength="21.13" lengthAdjust="spacingAndGlyphs" font-style="italic">SOCS1</text>
<text x="28.60" y="519.95" font-size="7.6" text-anchor="end" textLength="12.93" lengthAdjust="spacingAndGlyphs">45%</text>
<text x="478.80" y="519.95" font-size="7.6" textLength="12.93" lengthAdjust="spacingAndGlyphs">33%</text>
<text x="294.80" y="525.45" font-size="7.6" textLength="25.16" lengthAdjust="spacingAndGlyphs" font-style="italic">TNFAIP3</text>
<text x="28.60" y="525.45" font-size="7.6" text-anchor="end" textLength="12.93" lengthAdjust="spacingAndGlyphs">35%</text>
<text x="478.80" y="525.45" font-size="7.6" textLength="9.34" lengthAdjust="spacingAndGlyphs">0%</text>
<text x="294.80" y="530.95" font-size="7.6" textLength="20.43" lengthAdjust="spacingAndGlyphs" font-style="italic">LRRN3</text>
<text x="28.60" y="530.95" font-size="7.6" text-anchor="end" textLength="12.93" lengthAdjust="spacingAndGlyphs">32%</text>
<text x="478.80" y="530.95" font-size="7.6" textLength="9.34" lengthAdjust="spacingAndGlyphs">0%</text>
<text x="294.80" y="536.45" font-size="7.6" textLength="20.44" lengthAdjust="spacingAndGlyphs" font-style="italic">GNA13</text>
<text x="28.60" y="536.45" font-size="7.6" text-anchor="end" textLength="12.93" lengthAdjust="spacingAndGlyphs">35%</text>
<text x="478.80" y="536.45" font-size="7.6" textLength="9.34" lengthAdjust="spacingAndGlyphs">6%</text>
<text x="294.80" y="541.95" font-size="7.6" textLength="22.51" lengthAdjust="spacingAndGlyphs" font-style="italic">NFKBIE</text>
<text x="28.60" y="541.95" font-size="7.6" text-anchor="end" textLength="12.93" lengthAdjust="spacingAndGlyphs">26%</text>
<text x="478.80" y="541.95" font-size="7.6" textLength="9.34" lengthAdjust="spacingAndGlyphs">0%</text>
<text x="294.80" y="547.45" font-size="7.6" textLength="18.01" lengthAdjust="spacingAndGlyphs" font-style="italic">ITPKB</text>
<text x="28.60" y="547.45" font-size="7.6" text-anchor="end" textLength="12.93" lengthAdjust="spacingAndGlyphs">26%</text>
<text x="478.80" y="547.45" font-size="7.6" textLength="9.34" lengthAdjust="spacingAndGlyphs">0%</text>
<text x="294.80" y="552.95" font-size="7.6" textLength="22.51" lengthAdjust="spacingAndGlyphs" font-style="italic">NFKBIA</text>
<text x="28.60" y="552.95" font-size="7.6" text-anchor="end" textLength="12.93" lengthAdjust="spacingAndGlyphs">29%</text>
<text x="478.80" y="552.95" font-size="7.6" textLength="9.34" lengthAdjust="spacingAndGlyphs">6%</text>
<text x="294.80" y="558.45" font-size="7.6" textLength="22.51" lengthAdjust="spacingAndGlyphs" font-style="italic">ZNF217</text>
<text x="28.60" y="558.45" font-size="7.6" text-anchor="end" textLength="12.93" lengthAdjust="spacingAndGlyphs">23%</text>
<text x="478.80" y="558.45" font-size="7.6" textLength="9.34" lengthAdjust="spacingAndGlyphs">0%</text>
<text x="294.80" y="563.95" font-size="7.6" textLength="16.63" lengthAdjust="spacingAndGlyphs" font-style="italic">XPO1</text>
<text x="28.60" y="563.95" font-size="7.6" text-anchor="end" textLength="12.93" lengthAdjust="spacingAndGlyphs">23%</text>
<text x="478.80" y="563.95" font-size="7.6" textLength="9.34" lengthAdjust="spacingAndGlyphs">6%</text>
<text x="294.80" y="569.45" font-size="7.6" textLength="16.97" lengthAdjust="spacingAndGlyphs" font-style="italic">SPEN</text>
<text x="28.60" y="569.45" font-size="7.6" text-anchor="end" textLength="12.93" lengthAdjust="spacingAndGlyphs">19%</text>
<text x="478.80" y="569.45" font-size="7.6" textLength="9.34" lengthAdjust="spacingAndGlyphs">6%</text>
<text x="294.80" y="574.95" font-size="7.6" textLength="25.28" lengthAdjust="spacingAndGlyphs" font-style="italic">MFHAS1</text>
<text x="28.60" y="574.95" font-size="7.6" text-anchor="end" textLength="12.93" lengthAdjust="spacingAndGlyphs">16%</text>
<text x="478.80" y="574.95" font-size="7.6" textLength="9.34" lengthAdjust="spacingAndGlyphs">0%</text>
<text x="294.80" y="580.45" font-size="7.6" textLength="24.59" lengthAdjust="spacingAndGlyphs" font-style="italic">CSF2RB</text>
<text x="28.60" y="580.45" font-size="7.6" text-anchor="end" textLength="12.93" lengthAdjust="spacingAndGlyphs">19%</text>
<text x="478.80" y="580.45" font-size="7.6" textLength="9.34" lengthAdjust="spacingAndGlyphs">6%</text>
<text x="294.80" y="585.95" font-size="7.6" textLength="23.90" lengthAdjust="spacingAndGlyphs" font-style="italic">ABCA13</text>
<text x="28.60" y="585.95" font-size="7.6" text-anchor="end" textLength="12.93" lengthAdjust="spacingAndGlyphs">16%</text>
<text x="478.80" y="585.95" font-size="7.6" textLength="9.34" lengthAdjust="spacingAndGlyphs">6%</text>
<text x="294.80" y="591.45" font-size="7.6" textLength="29.78" lengthAdjust="spacingAndGlyphs" font-style="italic">HIST1H1E</text>
<text x="28.60" y="591.45" font-size="7.6" text-anchor="end" textLength="12.93" lengthAdjust="spacingAndGlyphs">16%</text>
<text x="478.80" y="591.45" font-size="7.6" textLength="12.45" lengthAdjust="spacingAndGlyphs">11%</text>
<text x="294.80" y="596.95" font-size="7.6" textLength="16.62" lengthAdjust="spacingAndGlyphs" font-style="italic">ACTB</text>
<text x="28.60" y="596.95" font-size="7.6" text-anchor="end" textLength="12.93" lengthAdjust="spacingAndGlyphs">13%</text>
<text x="478.80" y="596.95" font-size="7.6" textLength="9.34" lengthAdjust="spacingAndGlyphs">0%</text>
<text x="294.80" y="602.45" font-size="7.6" textLength="21.81" lengthAdjust="spacingAndGlyphs" font-style="italic">NCOR1</text>
<text x="28.60" y="602.45" font-size="7.6" text-anchor="end" textLength="12.93" lengthAdjust="spacingAndGlyphs">13%</text>
<text x="478.80" y="602.45" font-size="7.6" textLength="9.34" lengthAdjust="spacingAndGlyphs">0%</text>
<text x="294.80" y="607.95" font-size="7.6" textLength="26.32" lengthAdjust="spacingAndGlyphs" font-style="italic">PIK3C2G</text>
<text x="28.60" y="607.95" font-size="7.6" text-anchor="end" textLength="12.93" lengthAdjust="spacingAndGlyphs">13%</text>
<text x="478.80" y="607.95" font-size="7.6" textLength="9.34" lengthAdjust="spacingAndGlyphs">0%</text>
<text x="294.80" y="613.45" font-size="7.6" textLength="14.89" lengthAdjust="spacingAndGlyphs" font-style="italic">CISH</text>
<text x="28.60" y="613.45" font-size="7.6" text-anchor="end" textLength="12.93" lengthAdjust="spacingAndGlyphs">16%</text>
<text x="478.80" y="613.45" font-size="7.6" textLength="9.34" lengthAdjust="spacingAndGlyphs">0%</text>
<text x="294.80" y="618.95" font-size="7.6" textLength="16.97" lengthAdjust="spacingAndGlyphs" font-style="italic">EGR1</text>
<text x="28.60" y="618.95" font-size="7.6" text-anchor="end" textLength="12.93" lengthAdjust="spacingAndGlyphs">13%</text>
<text x="478.80" y="618.95" font-size="7.6" textLength="9.34" lengthAdjust="spacingAndGlyphs">0%</text>
<text x="294.80" y="624.45" font-size="7.6" textLength="18.01" lengthAdjust="spacingAndGlyphs" font-style="italic">SIAH2</text>
<text x="28.60" y="624.45" font-size="7.6" text-anchor="end" textLength="12.93" lengthAdjust="spacingAndGlyphs">13%</text>
<text x="478.80" y="624.45" font-size="7.6" textLength="9.34" lengthAdjust="spacingAndGlyphs">0%</text>
<text x="294.80" y="629.95" font-size="7.6" textLength="20.09" lengthAdjust="spacingAndGlyphs" font-style="italic">NBPF6</text>
<text x="28.60" y="629.95" font-size="7.6" text-anchor="end" textLength="12.93" lengthAdjust="spacingAndGlyphs">13%</text>
<text x="478.80" y="629.95" font-size="7.6" textLength="9.34" lengthAdjust="spacingAndGlyphs">0%</text>
<text x="294.80" y="635.45" font-size="7.6" textLength="16.28" lengthAdjust="spacingAndGlyphs" font-style="italic">BTG1</text>
<text x="28.60" y="635.45" font-size="7.6" text-anchor="end" textLength="12.93" lengthAdjust="spacingAndGlyphs">13%</text>
<text x="478.80" y="635.45" font-size="7.6" textLength="9.34" lengthAdjust="spacingAndGlyphs">6%</text>
<text x="294.80" y="640.95" font-size="7.6" textLength="18.47" lengthAdjust="spacingAndGlyphs" font-style="italic">STAT6</text>
<text x="28.60" y="640.95" font-size="7.6" text-anchor="end" textLength="12.93" lengthAdjust="spacingAndGlyphs">16%</text>
<text x="478.80" y="640.95" font-size="7.6" textLength="12.93" lengthAdjust="spacingAndGlyphs">17%</text>
<text x="294.80" y="646.45" font-size="7.6" textLength="14.89" lengthAdjust="spacingAndGlyphs" font-style="italic">TP53</text>
<text x="28.60" y="646.45" font-size="7.6" text-anchor="end" textLength="9.34" lengthAdjust="spacingAndGlyphs">6%</text>
<text x="478.80" y="646.45" font-size="7.6" textLength="12.93" lengthAdjust="spacingAndGlyphs">39%</text>
<text x="294.80" y="651.95" font-size="7.6" textLength="21.12" lengthAdjust="spacingAndGlyphs" font-style="italic">KMT2D</text>
<text x="28.60" y="651.95" font-size="7.6" text-anchor="end" textLength="9.34" lengthAdjust="spacingAndGlyphs">3%</text>
<text x="478.80" y="651.95" font-size="7.6" textLength="12.93" lengthAdjust="spacingAndGlyphs">17%</text>
<text x="294.80" y="657.45" font-size="7.6" textLength="18.36" lengthAdjust="spacingAndGlyphs" font-style="italic">BIRC6</text>
<text x="28.60" y="657.45" font-size="7.6" text-anchor="end" textLength="9.34" lengthAdjust="spacingAndGlyphs">6%</text>
<text x="478.80" y="657.45" font-size="7.6" textLength="12.93" lengthAdjust="spacingAndGlyphs">22%</text>
<text x="294.80" y="662.95" font-size="7.6" textLength="15.59" lengthAdjust="spacingAndGlyphs" font-style="italic">BCL2</text>
<text x="28.60" y="662.95" font-size="7.6" text-anchor="end" textLength="9.34" lengthAdjust="spacingAndGlyphs">3%</text>
<text x="478.80" y="662.95" font-size="7.6" textLength="12.93" lengthAdjust="spacingAndGlyphs">28%</text>
<text x="294.80" y="668.45" font-size="7.6" textLength="25.63" lengthAdjust="spacingAndGlyphs">CREBBP</text>
<text x="28.60" y="668.45" font-size="7.6" text-anchor="end" textLength="9.34" lengthAdjust="spacingAndGlyphs">3%</text>
<text x="478.80" y="668.45" font-size="7.6" textLength="12.93" lengthAdjust="spacingAndGlyphs">28%</text>
<text x="294.80" y="673.95" font-size="7.6" textLength="27.02" lengthAdjust="spacingAndGlyphs" font-style="italic">TBL1XR1</text>
<text x="28.60" y="673.95" font-size="7.6" text-anchor="end" textLength="9.34" lengthAdjust="spacingAndGlyphs">0%</text>
<text x="478.80" y="673.95" font-size="7.6" textLength="12.93" lengthAdjust="spacingAndGlyphs">17%</text>
<text x="294.80" y="681.20" font-size="7.6" textLength="16.16" lengthAdjust="spacingAndGlyphs" font-style="italic">BCL2</text>
<text x="312.86" y="681.20" font-size="7.6" textLength="14.71" lengthAdjust="spacingAndGlyphs">FISH</text>
<text x="28.60" y="681.20" font-size="7.6" text-anchor="end" textLength="9.34" lengthAdjust="spacingAndGlyphs">6%</text>
<text x="478.80" y="681.20" font-size="7.6" textLength="12.93" lengthAdjust="spacingAndGlyphs">41%</text>
<text x="294.80" y="688.20" font-size="7.6" textLength="16.16" lengthAdjust="spacingAndGlyphs" font-style="italic">BCL6</text>
<text x="312.86" y="688.20" font-size="7.6" textLength="14.71" lengthAdjust="spacingAndGlyphs">FISH</text>
<text x="28.60" y="688.20" font-size="7.6" text-anchor="end" textLength="9.34" lengthAdjust="spacingAndGlyphs">0%</text>
<text x="478.80" y="688.20" font-size="7.6" textLength="12.93" lengthAdjust="spacingAndGlyphs">18%</text>
<rect x="32.6" y="486.1" width="256.2" height="18.9" fill="none" stroke="#111" stroke-width="1.15" stroke-dasharray="3.5 2.0"/>
<rect x="337.6" y="486.1" width="138.8" height="18.9" fill="none" stroke="#111" stroke-width="1.15" stroke-dasharray="3.5 2.0"/>
<text x="133.10" y="497.70" font-size="7.2" textLength="55.40" lengthAdjust="spacingAndGlyphs">Thymic GZL, N=31</text>
<text x="371.30" y="497.40" font-size="7.2" textLength="72.00" lengthAdjust="spacingAndGlyphs">Non-Thymic GZL, N=18</text>
<rect x="78.05" y="706.75" width="2.30" height="2.30" fill="#5aa832"/>
<text x="83.60" y="710.20" font-size="6.8" textLength="48.10" lengthAdjust="spacingAndGlyphs">Missense_Mutation</text>
<rect x="78.05" y="716.35" width="2.30" height="2.30" fill="#a8002a"/>
<text x="83.60" y="719.80" font-size="6.8" textLength="50.00" lengthAdjust="spacingAndGlyphs">Nonsense_Mutation</text>
<rect x="78.05" y="726.15" width="2.30" height="2.30" fill="#ea951c"/>
<text x="83.60" y="729.60" font-size="6.8" textLength="27.00" lengthAdjust="spacingAndGlyphs">Splice_Site</text>
<rect x="146.25" y="706.55" width="2.30" height="2.30" fill="#5aace6"/>
<text x="151.80" y="710.00" font-size="6.8" textLength="41.10" lengthAdjust="spacingAndGlyphs">Frame_Shift_Del</text>
<rect x="146.25" y="716.45" width="2.30" height="2.30" fill="#4f1f63"/>
<text x="151.80" y="719.90" font-size="6.8" textLength="39.70" lengthAdjust="spacingAndGlyphs">Frame_Shift_Ins</text>
<rect x="146.25" y="726.15" width="2.30" height="2.30" fill="#474c5e"/>
<text x="151.80" y="729.60" font-size="6.8" textLength="23.10" lengthAdjust="spacingAndGlyphs">Multi_Hit</text>
<rect x="205.75" y="706.55" width="2.30" height="2.30" fill="#c7c6cb"/>
<text x="211.10" y="710.00" font-size="6.8" textLength="11.50" lengthAdjust="spacingAndGlyphs">NEG</text>
<rect x="205.75" y="716.45" width="2.30" height="2.30" fill="#2b4a8a"/>
<text x="211.10" y="719.90" font-size="6.8" textLength="7.40" lengthAdjust="spacingAndGlyphs">BA</text>
<rect x="205.75" y="726.15" width="2.30" height="2.30" fill="#9089c9"/>
<text x="211.10" y="729.60" font-size="6.8" textLength="29.30" lengthAdjust="spacingAndGlyphs">GAIN_AMP</text>
<text x="205.80" y="700.00" font-size="6.3" textLength="42.20" lengthAdjust="spacingAndGlyphs">BCL2/BCL6 FISH</text>
<rect x="0.5" y="0.5" width="519" height="737" fill="none" stroke="#000" stroke-width="1"/>
</svg></body></html>
